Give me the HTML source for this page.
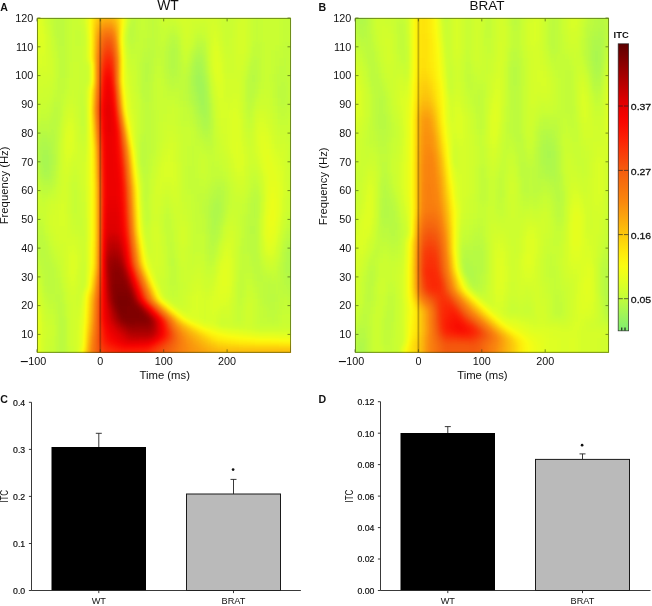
<!DOCTYPE html>
<html><head><meta charset="utf-8"><style>html,body{margin:0;padding:0;background:#fff;width:652px;height:606px;overflow:hidden}svg{display:block;will-change:transform}</style></head>
<body><svg width="652" height="606" viewBox="0 0 652 606" font-family="Liberation Sans, sans-serif" font-size="10" fill="#111">
<defs>
<filter id="cmA" filterUnits="userSpaceOnUse" x="27.5" y="8.399999999999999" width="273.0" height="353.90000000000003" color-interpolation-filters="sRGB">
<feGaussianBlur stdDeviation="3.3"/>
<feComponentTransfer><feFuncR type="table" tableValues="0.494 0.553 0.612 0.671 0.729 0.788 0.841 0.892 0.936 0.980 0.993 0.999 0.996 0.991 0.988 0.986 0.984 0.982 0.980 0.975 0.970 0.964 0.959 0.961 0.968 0.975 0.983 0.987 0.982 0.976 0.956 0.913 0.871 0.808 0.746 0.684 0.621 0.556 0.491 0.426 0.361"/><feFuncG type="table" tableValues="0.933 0.945 0.957 0.972 0.985 0.998 1.000 1.000 0.995 0.989 0.954 0.911 0.858 0.802 0.747 0.694 0.640 0.587 0.533 0.494 0.455 0.416 0.376 0.329 0.275 0.222 0.168 0.117 0.075 0.033 0.007 0.003 0.000 0.000 0.000 0.000 0.000 0.000 0.000 0.000 0.000"/><feFuncB type="table" tableValues="0.439 0.400 0.361 0.307 0.253 0.199 0.160 0.125 0.096 0.068 0.053 0.042 0.042 0.045 0.048 0.050 0.051 0.053 0.055 0.055 0.055 0.055 0.055 0.050 0.041 0.032 0.023 0.015 0.009 0.003 0.000 0.000 0.000 0.000 0.000 0.000 0.000 0.000 0.000 0.000 0.000"/></feComponentTransfer>
</filter>
<clipPath id="clipA"><rect x="36.9" y="17.799999999999997" width="254.2" height="335.1"/></clipPath>
<filter id="cmB" filterUnits="userSpaceOnUse" x="345.5" y="8.399999999999999" width="273.0" height="353.90000000000003" color-interpolation-filters="sRGB">
<feGaussianBlur stdDeviation="3.3"/>
<feComponentTransfer><feFuncR type="table" tableValues="0.494 0.553 0.612 0.671 0.729 0.788 0.841 0.892 0.936 0.980 0.993 0.999 0.996 0.991 0.988 0.986 0.984 0.982 0.980 0.975 0.970 0.964 0.959 0.961 0.968 0.975 0.983 0.987 0.982 0.976 0.956 0.913 0.871 0.808 0.746 0.684 0.621 0.556 0.491 0.426 0.361"/><feFuncG type="table" tableValues="0.933 0.945 0.957 0.972 0.985 0.998 1.000 1.000 0.995 0.989 0.954 0.911 0.858 0.802 0.747 0.694 0.640 0.587 0.533 0.494 0.455 0.416 0.376 0.329 0.275 0.222 0.168 0.117 0.075 0.033 0.007 0.003 0.000 0.000 0.000 0.000 0.000 0.000 0.000 0.000 0.000"/><feFuncB type="table" tableValues="0.439 0.400 0.361 0.307 0.253 0.199 0.160 0.125 0.096 0.068 0.053 0.042 0.042 0.045 0.048 0.050 0.051 0.053 0.055 0.055 0.055 0.055 0.055 0.050 0.041 0.032 0.023 0.015 0.009 0.003 0.000 0.000 0.000 0.000 0.000 0.000 0.000 0.000 0.000 0.000 0.000"/></feComponentTransfer>
</filter>
<clipPath id="clipB"><rect x="354.9" y="17.799999999999997" width="254.2" height="335.1"/></clipPath>
<linearGradient id="cbg" x1="0" y1="0" x2="0" y2="1"><stop offset="0.000" stop-color="rgb(92,0,0)"/><stop offset="0.025" stop-color="rgb(109,0,0)"/><stop offset="0.050" stop-color="rgb(125,0,0)"/><stop offset="0.075" stop-color="rgb(142,0,0)"/><stop offset="0.100" stop-color="rgb(158,0,0)"/><stop offset="0.125" stop-color="rgb(174,0,0)"/><stop offset="0.150" stop-color="rgb(190,0,0)"/><stop offset="0.175" stop-color="rgb(206,0,0)"/><stop offset="0.200" stop-color="rgb(222,0,0)"/><stop offset="0.225" stop-color="rgb(233,1,0)"/><stop offset="0.250" stop-color="rgb(244,2,0)"/><stop offset="0.275" stop-color="rgb(249,8,1)"/><stop offset="0.300" stop-color="rgb(250,19,2)"/><stop offset="0.325" stop-color="rgb(252,30,4)"/><stop offset="0.350" stop-color="rgb(251,43,6)"/><stop offset="0.375" stop-color="rgb(249,57,8)"/><stop offset="0.400" stop-color="rgb(247,70,10)"/><stop offset="0.425" stop-color="rgb(245,84,13)"/><stop offset="0.450" stop-color="rgb(245,96,14)"/><stop offset="0.475" stop-color="rgb(246,106,14)"/><stop offset="0.500" stop-color="rgb(247,116,14)"/><stop offset="0.525" stop-color="rgb(249,126,14)"/><stop offset="0.550" stop-color="rgb(250,136,14)"/><stop offset="0.575" stop-color="rgb(250,150,14)"/><stop offset="0.600" stop-color="rgb(251,163,13)"/><stop offset="0.625" stop-color="rgb(251,177,13)"/><stop offset="0.650" stop-color="rgb(252,191,12)"/><stop offset="0.675" stop-color="rgb(253,205,11)"/><stop offset="0.700" stop-color="rgb(254,219,11)"/><stop offset="0.725" stop-color="rgb(255,232,11)"/><stop offset="0.750" stop-color="rgb(253,243,14)"/><stop offset="0.775" stop-color="rgb(250,252,17)"/><stop offset="0.800" stop-color="rgb(239,254,24)"/><stop offset="0.825" stop-color="rgb(227,255,32)"/><stop offset="0.850" stop-color="rgb(214,255,41)"/><stop offset="0.875" stop-color="rgb(201,254,51)"/><stop offset="0.900" stop-color="rgb(186,251,65)"/><stop offset="0.925" stop-color="rgb(171,248,78)"/><stop offset="0.950" stop-color="rgb(156,244,92)"/><stop offset="0.975" stop-color="rgb(141,241,102)"/><stop offset="1.000" stop-color="rgb(126,238,112)"/></linearGradient>
</defs>
<rect width="652" height="606" fill="#fff"/>
<g clip-path="url(#clipA)"><g filter="url(#cmA)" shape-rendering="crispEdges"><path fill="#0e0e0e" d="M197 74h4v4h-4zM197 78h4v4h-4zM197 82h8v4h-8zM197 86h8v4h-8zM197 90h8v4h-8zM201 94h4v4h-4zM201 98h4v4h-4zM201 102h4v4h-4z"/>
<path fill="#101010" d="M197 66h4v4h-4zM193 70h8v4h-8zM193 74h4v4h-4zM201 74h4v4h-4zM193 78h4v4h-4zM201 78h4v4h-4zM193 82h4v4h-4zM197 94h4v4h-4zM197 98h4v4h-4zM205 102h4v4h-4zM201 106h8v4h-8zM201 110h4v4h-4zM41 154h4v4h-4zM41 158h4v4h-4zM41 162h8v4h-8z"/>
<path fill="#121212" d="M197 58h4v4h-4zM193 62h8v4h-8zM193 66h4v4h-4zM201 66h4v4h-4zM201 70h4v4h-4zM193 86h4v4h-4zM193 90h4v4h-4zM205 90h4v4h-4zM205 94h4v4h-4zM205 98h4v4h-4zM197 102h4v4h-4zM197 106h4v4h-4zM205 110h4v4h-4zM201 114h8v4h-8zM205 118h4v4h-4zM41 146h4v4h-4zM41 150h8v4h-8zM45 154h4v4h-4zM45 158h4v4h-4zM41 166h8v4h-8zM41 170h8v4h-8z"/>
<path fill="#141414" d="M197 54h4v4h-4zM193 58h4v4h-4zM201 58h4v4h-4zM201 62h4v4h-4zM205 82h4v4h-4zM205 86h4v4h-4zM193 94h4v4h-4zM193 98h4v4h-4zM197 110h4v4h-4zM201 118h4v4h-4zM201 122h8v4h-8zM205 126h4v4h-4zM41 138h4v4h-4zM41 142h4v4h-4zM45 146h4v4h-4zM49 154h4v4h-4zM49 158h4v4h-4zM49 162h4v4h-4zM49 166h4v4h-4zM41 174h8v4h-8zM213 202h8v4h-8zM213 206h8v4h-8zM213 210h8v4h-8zM213 214h8v4h-8zM213 218h4v4h-4zM213 222h4v4h-4zM213 226h4v4h-4zM289 250h4v4h-4zM289 254h4v4h-4zM289 258h4v4h-4zM289 262h4v4h-4zM289 266h4v4h-4zM289 270h4v4h-4z"/>
<path fill="#161616" d="M169 46h8v4h-8zM169 50h8v4h-8zM197 50h4v4h-4zM169 54h8v4h-8zM193 54h4v4h-4zM201 54h4v4h-4zM169 58h8v4h-8zM169 62h8v4h-8zM169 66h8v4h-8zM189 74h4v4h-4zM205 74h4v4h-4zM189 78h4v4h-4zM205 78h4v4h-4zM189 82h4v4h-4zM189 86h4v4h-4zM189 90h4v4h-4zM193 102h4v4h-4zM197 114h4v4h-4zM201 126h4v4h-4zM205 130h4v4h-4zM41 134h4v4h-4zM45 138h4v4h-4zM37 142h4v4h-4zM45 142h8v4h-8zM37 146h4v4h-4zM49 146h4v4h-4zM37 150h4v4h-4zM49 150h4v4h-4zM37 154h4v4h-4zM37 158h4v4h-4zM49 170h4v4h-4zM49 174h4v4h-4zM41 178h8v4h-8zM217 194h4v4h-4zM213 198h8v4h-8zM209 210h4v4h-4zM209 214h4v4h-4zM209 218h4v4h-4zM217 218h4v4h-4zM209 222h4v4h-4zM217 222h4v4h-4zM209 226h4v4h-4zM209 230h8v4h-8zM213 234h4v4h-4zM213 238h4v4h-4zM289 242h4v4h-4zM289 246h8v4h-8zM285 250h4v4h-4zM293 250h4v4h-4zM285 254h4v4h-4zM293 254h4v4h-4zM285 258h4v4h-4zM293 258h4v4h-4zM285 262h4v4h-4zM293 262h4v4h-4zM285 266h4v4h-4zM293 266h4v4h-4zM285 270h4v4h-4zM293 270h4v4h-4zM285 274h12v4h-12zM289 278h4v4h-4zM289 282h4v4h-4z"/>
<path fill="#181818" d="M129 22h4v4h-4zM129 26h4v4h-4zM169 38h8v4h-8zM169 42h8v4h-8zM197 46h8v4h-8zM193 50h4v4h-4zM201 50h4v4h-4zM145 58h4v4h-4zM145 62h4v4h-4zM145 66h4v4h-4zM189 66h4v4h-4zM145 70h4v4h-4zM169 70h8v4h-8zM189 70h4v4h-4zM205 70h4v4h-4zM253 70h4v4h-4zM145 74h4v4h-4zM169 74h8v4h-8zM249 74h8v4h-8zM145 78h4v4h-4zM249 78h8v4h-8zM145 82h4v4h-4zM249 82h4v4h-4zM145 86h4v4h-4zM249 86h4v4h-4zM249 90h4v4h-4zM189 94h4v4h-4zM249 94h4v4h-4zM189 98h4v4h-4zM249 98h4v4h-4zM193 106h4v4h-4zM209 110h4v4h-4zM209 114h4v4h-4zM53 118h4v4h-4zM197 118h4v4h-4zM209 118h4v4h-4zM53 122h4v4h-4zM197 122h4v4h-4zM209 122h4v4h-4zM53 126h4v4h-4zM209 126h4v4h-4zM41 130h4v4h-4zM53 130h4v4h-4zM201 130h4v4h-4zM37 134h4v4h-4zM45 134h12v4h-12zM205 134h4v4h-4zM37 138h4v4h-4zM49 138h8v4h-8zM53 142h4v4h-4zM53 146h4v4h-4zM53 150h4v4h-4zM53 154h4v4h-4zM53 158h4v4h-4zM141 158h4v4h-4zM37 162h4v4h-4zM53 162h4v4h-4zM37 166h4v4h-4zM49 178h4v4h-4zM41 182h8v4h-8zM217 186h4v4h-4zM141 190h4v4h-4zM213 190h12v4h-12zM141 194h4v4h-4zM213 194h4v4h-4zM221 194h4v4h-4zM141 198h4v4h-4zM209 198h4v4h-4zM221 198h4v4h-4zM253 198h4v4h-4zM209 202h4v4h-4zM221 202h4v4h-4zM253 202h4v4h-4zM209 206h4v4h-4zM221 206h4v4h-4zM253 206h4v4h-4zM221 210h4v4h-4zM253 210h4v4h-4zM253 214h4v4h-4zM253 218h4v4h-4zM253 222h4v4h-4zM217 226h4v4h-4zM249 226h8v4h-8zM217 230h4v4h-4zM249 230h8v4h-8zM209 234h4v4h-4zM253 234h4v4h-4zM289 234h4v4h-4zM209 238h4v4h-4zM253 238h4v4h-4zM289 238h8v4h-8zM209 242h8v4h-8zM253 242h4v4h-4zM285 242h4v4h-4zM293 242h4v4h-4zM209 246h4v4h-4zM253 246h4v4h-4zM285 246h4v4h-4zM253 250h4v4h-4zM253 254h4v4h-4zM253 258h4v4h-4zM281 262h4v4h-4zM281 266h4v4h-4zM281 270h4v4h-4zM285 278h4v4h-4zM293 278h4v4h-4zM285 282h4v4h-4zM293 282h4v4h-4zM289 286h4v4h-4zM61 318h4v4h-4zM61 322h4v4h-4zM61 326h4v4h-4zM61 330h4v4h-4zM61 334h4v4h-4zM61 338h4v4h-4zM61 342h4v4h-4zM61 346h4v4h-4zM61 350h4v4h-4zM61 354h4v4h-4zM61 358h4v4h-4z"/>
<path fill="#1a1a1a" d="M57 10h8v4h-8zM129 10h4v4h-4zM57 14h8v4h-8zM129 14h4v4h-4zM57 18h8v4h-8zM129 18h4v4h-4zM57 22h8v4h-8zM57 26h8v4h-8zM57 30h8v4h-8zM125 30h8v4h-8zM57 34h8v4h-8zM125 34h8v4h-8zM169 34h8v4h-8zM57 38h8v4h-8zM129 38h4v4h-4zM57 42h8v4h-8zM197 42h8v4h-8zM61 46h4v4h-4zM177 46h4v4h-4zM193 46h4v4h-4zM61 50h4v4h-4zM145 50h8v4h-8zM165 50h4v4h-4zM177 50h4v4h-4zM61 54h4v4h-4zM145 54h8v4h-8zM165 54h4v4h-4zM177 54h4v4h-4zM61 58h4v4h-4zM149 58h4v4h-4zM165 58h4v4h-4zM177 58h4v4h-4zM253 58h4v4h-4zM61 62h4v4h-4zM141 62h4v4h-4zM149 62h4v4h-4zM165 62h4v4h-4zM177 62h4v4h-4zM189 62h4v4h-4zM205 62h4v4h-4zM253 62h4v4h-4zM61 66h4v4h-4zM141 66h4v4h-4zM149 66h4v4h-4zM165 66h4v4h-4zM177 66h4v4h-4zM205 66h4v4h-4zM249 66h8v4h-8zM61 70h4v4h-4zM141 70h4v4h-4zM149 70h4v4h-4zM165 70h4v4h-4zM177 70h4v4h-4zM249 70h4v4h-4zM61 74h4v4h-4zM141 74h4v4h-4zM149 74h4v4h-4zM177 74h4v4h-4zM141 78h4v4h-4zM149 78h4v4h-4zM169 78h8v4h-8zM141 82h4v4h-4zM169 82h4v4h-4zM253 82h4v4h-4zM281 82h4v4h-4zM141 86h4v4h-4zM253 86h4v4h-4zM277 86h8v4h-8zM141 90h8v4h-8zM253 90h4v4h-4zM277 90h8v4h-8zM141 94h8v4h-8zM277 94h8v4h-8zM145 98h4v4h-4zM209 98h4v4h-4zM281 98h4v4h-4zM57 102h4v4h-4zM189 102h4v4h-4zM209 102h4v4h-4zM249 102h4v4h-4zM281 102h4v4h-4zM53 106h8v4h-8zM209 106h4v4h-4zM249 106h4v4h-4zM53 110h8v4h-8zM193 110h4v4h-4zM53 114h8v4h-8zM193 114h4v4h-4zM57 118h4v4h-4zM41 122h4v4h-4zM49 122h4v4h-4zM37 126h8v4h-8zM49 126h4v4h-4zM197 126h4v4h-4zM37 130h4v4h-4zM45 130h8v4h-8zM209 130h4v4h-4zM141 134h4v4h-4zM201 134h4v4h-4zM209 134h4v4h-4zM141 138h4v4h-4zM205 138h8v4h-8zM297 138h4v4h-4zM141 142h4v4h-4zM209 142h4v4h-4zM297 142h4v4h-4zM141 146h4v4h-4zM297 146h4v4h-4zM141 150h4v4h-4zM297 150h4v4h-4zM137 154h8v4h-8zM297 154h4v4h-4zM137 158h4v4h-4zM137 162h8v4h-8zM53 166h4v4h-4zM141 166h4v4h-4zM37 170h4v4h-4zM53 170h4v4h-4zM141 170h4v4h-4zM37 174h4v4h-4zM53 174h4v4h-4zM141 174h4v4h-4zM141 178h4v4h-4zM49 182h4v4h-4zM141 182h4v4h-4zM217 182h8v4h-8zM41 186h8v4h-8zM141 186h4v4h-4zM213 186h4v4h-4zM221 186h4v4h-4zM41 190h4v4h-4zM209 190h4v4h-4zM253 190h4v4h-4zM209 194h4v4h-4zM253 194h8v4h-8zM257 198h4v4h-4zM141 202h4v4h-4zM249 202h4v4h-4zM257 202h4v4h-4zM205 206h4v4h-4zM249 206h4v4h-4zM257 206h4v4h-4zM145 210h4v4h-4zM205 210h4v4h-4zM249 210h4v4h-4zM257 210h4v4h-4zM145 214h4v4h-4zM205 214h4v4h-4zM221 214h4v4h-4zM249 214h4v4h-4zM257 214h4v4h-4zM145 218h4v4h-4zM221 218h4v4h-4zM249 218h4v4h-4zM145 222h4v4h-4zM249 222h4v4h-4zM37 230h4v4h-4zM289 230h8v4h-8zM37 234h8v4h-8zM217 234h4v4h-4zM249 234h4v4h-4zM293 234h4v4h-4zM37 238h8v4h-8zM249 238h4v4h-4zM285 238h4v4h-4zM37 242h8v4h-8zM249 242h4v4h-4zM37 246h8v4h-8zM213 246h4v4h-4zM249 246h4v4h-4zM297 246h4v4h-4zM37 250h12v4h-12zM209 250h8v4h-8zM249 250h4v4h-4zM281 250h4v4h-4zM297 250h4v4h-4zM37 254h12v4h-12zM169 254h4v4h-4zM209 254h4v4h-4zM281 254h4v4h-4zM297 254h4v4h-4zM41 258h8v4h-8zM169 258h4v4h-4zM209 258h4v4h-4zM257 258h4v4h-4zM281 258h4v4h-4zM297 258h4v4h-4zM41 262h12v4h-12zM169 262h4v4h-4zM253 262h8v4h-8zM297 262h4v4h-4zM41 266h12v4h-12zM253 266h8v4h-8zM297 266h4v4h-4zM45 270h8v4h-8zM253 270h8v4h-8zM45 274h8v4h-8zM257 274h4v4h-4zM281 274h4v4h-4zM45 278h8v4h-8zM257 278h4v4h-4zM281 278h4v4h-4zM45 282h8v4h-8zM265 282h8v4h-8zM281 282h4v4h-4zM45 286h8v4h-8zM265 286h8v4h-8zM281 286h8v4h-8zM293 286h4v4h-4zM45 290h8v4h-8zM265 290h8v4h-8zM285 290h8v4h-8zM57 294h4v4h-4zM265 294h12v4h-12zM289 294h4v4h-4zM57 298h4v4h-4zM265 298h12v4h-12zM57 302h8v4h-8zM265 302h8v4h-8zM57 306h8v4h-8zM269 306h4v4h-4zM57 310h8v4h-8zM57 314h8v4h-8zM57 318h4v4h-4zM57 322h4v4h-4zM57 326h4v4h-4zM57 330h4v4h-4zM57 334h4v4h-4zM57 338h4v4h-4zM57 342h4v4h-4zM57 346h4v4h-4zM57 350h4v4h-4zM57 354h4v4h-4zM57 358h4v4h-4z"/>
<path fill="#1c1c1c" d="M65 10h4v4h-4zM133 10h4v4h-4zM153 10h4v4h-4zM53 14h4v4h-4zM65 14h4v4h-4zM133 14h4v4h-4zM149 14h8v4h-8zM53 18h4v4h-4zM133 18h4v4h-4zM149 18h8v4h-8zM53 22h4v4h-4zM133 22h4v4h-4zM149 22h8v4h-8zM53 26h4v4h-4zM125 26h4v4h-4zM133 26h4v4h-4zM149 26h8v4h-8zM53 30h4v4h-4zM133 30h4v4h-4zM149 30h8v4h-8zM169 30h8v4h-8zM53 34h4v4h-4zM133 34h4v4h-4zM149 34h8v4h-8zM125 38h4v4h-4zM133 38h4v4h-4zM145 38h12v4h-12zM177 38h4v4h-4zM197 38h8v4h-8zM125 42h8v4h-8zM145 42h12v4h-12zM165 42h4v4h-4zM177 42h4v4h-4zM193 42h4v4h-4zM253 42h8v4h-8zM285 42h4v4h-4zM57 46h4v4h-4zM129 46h4v4h-4zM145 46h12v4h-12zM165 46h4v4h-4zM253 46h8v4h-8zM285 46h4v4h-4zM57 50h4v4h-4zM141 50h4v4h-4zM153 50h4v4h-4zM253 50h8v4h-8zM285 50h4v4h-4zM57 54h4v4h-4zM141 54h4v4h-4zM153 54h4v4h-4zM189 54h4v4h-4zM205 54h4v4h-4zM253 54h8v4h-8zM285 54h4v4h-4zM57 58h4v4h-4zM141 58h4v4h-4zM189 58h4v4h-4zM205 58h4v4h-4zM249 58h4v4h-4zM257 58h4v4h-4zM281 58h8v4h-8zM57 62h4v4h-4zM249 62h4v4h-4zM257 62h4v4h-4zM281 62h8v4h-8zM57 66h4v4h-4zM257 66h4v4h-4zM277 66h12v4h-12zM57 70h4v4h-4zM257 70h4v4h-4zM277 70h12v4h-12zM57 74h4v4h-4zM165 74h4v4h-4zM185 74h4v4h-4zM257 74h4v4h-4zM273 74h16v4h-16zM57 78h8v4h-8zM165 78h4v4h-4zM177 78h12v4h-12zM245 78h4v4h-4zM257 78h4v4h-4zM273 78h16v4h-16zM57 82h8v4h-8zM149 82h4v4h-4zM165 82h4v4h-4zM173 82h16v4h-16zM245 82h4v4h-4zM277 82h4v4h-4zM285 82h4v4h-4zM57 86h8v4h-8zM149 86h4v4h-4zM169 86h20v4h-20zM245 86h4v4h-4zM285 86h4v4h-4zM57 90h8v4h-8zM149 90h4v4h-4zM181 90h8v4h-8zM245 90h4v4h-4zM285 90h4v4h-4zM57 94h4v4h-4zM149 94h4v4h-4zM181 94h8v4h-8zM209 94h4v4h-4zM245 94h4v4h-4zM253 94h4v4h-4zM285 94h4v4h-4zM53 98h8v4h-8zM141 98h4v4h-4zM149 98h4v4h-4zM181 98h8v4h-8zM245 98h4v4h-4zM277 98h4v4h-4zM285 98h4v4h-4zM53 102h4v4h-4zM141 102h12v4h-12zM185 102h4v4h-4zM245 102h4v4h-4zM277 102h4v4h-4zM285 102h4v4h-4zM85 106h4v4h-4zM141 106h12v4h-12zM189 106h4v4h-4zM245 106h4v4h-4zM277 106h8v4h-8zM85 110h4v4h-4zM141 110h12v4h-12zM189 110h4v4h-4zM245 110h8v4h-8zM277 110h8v4h-8zM49 114h4v4h-4zM85 114h4v4h-4zM141 114h12v4h-12zM245 114h8v4h-8zM281 114h4v4h-4zM41 118h4v4h-4zM49 118h4v4h-4zM85 118h4v4h-4zM141 118h12v4h-12zM193 118h4v4h-4zM249 118h4v4h-4zM37 122h4v4h-4zM45 122h4v4h-4zM57 122h4v4h-4zM85 122h4v4h-4zM141 122h12v4h-12zM193 122h4v4h-4zM45 126h4v4h-4zM57 126h4v4h-4zM85 126h4v4h-4zM141 126h12v4h-12zM297 126h4v4h-4zM57 130h4v4h-4zM85 130h4v4h-4zM141 130h12v4h-12zM197 130h4v4h-4zM293 130h8v4h-8zM57 134h4v4h-4zM145 134h12v4h-12zM197 134h4v4h-4zM293 134h8v4h-8zM29 138h8v4h-8zM57 138h4v4h-4zM145 138h8v4h-8zM201 138h4v4h-4zM293 138h4v4h-4zM29 142h8v4h-8zM137 142h4v4h-4zM145 142h8v4h-8zM205 142h4v4h-4zM293 142h4v4h-4zM29 146h8v4h-8zM137 146h4v4h-4zM145 146h8v4h-8zM205 146h8v4h-8zM293 146h4v4h-4zM29 150h8v4h-8zM137 150h4v4h-4zM145 150h8v4h-8zM209 150h4v4h-4zM293 150h4v4h-4zM33 154h4v4h-4zM145 154h4v4h-4zM293 154h4v4h-4zM145 158h4v4h-4zM293 158h8v4h-8zM145 162h4v4h-4zM293 162h8v4h-8zM145 166h4v4h-4zM293 166h4v4h-4zM145 170h4v4h-4zM145 174h4v4h-4zM37 178h4v4h-4zM53 178h4v4h-4zM145 178h4v4h-4zM213 178h12v4h-12zM37 182h4v4h-4zM53 182h4v4h-4zM145 182h4v4h-4zM209 182h8v4h-8zM253 182h4v4h-4zM49 186h4v4h-4zM145 186h4v4h-4zM209 186h4v4h-4zM225 186h4v4h-4zM253 186h8v4h-8zM45 190h4v4h-4zM145 190h4v4h-4zM225 190h4v4h-4zM249 190h4v4h-4zM257 190h4v4h-4zM41 194h4v4h-4zM145 194h4v4h-4zM197 194h4v4h-4zM205 194h4v4h-4zM225 194h4v4h-4zM249 194h4v4h-4zM145 198h4v4h-4zM197 198h12v4h-12zM225 198h4v4h-4zM249 198h4v4h-4zM145 202h4v4h-4zM201 202h8v4h-8zM225 202h4v4h-4zM141 206h8v4h-8zM201 206h4v4h-4zM141 210h4v4h-4zM201 210h4v4h-4zM165 214h4v4h-4zM245 214h4v4h-4zM165 218h4v4h-4zM205 218h4v4h-4zM245 218h4v4h-4zM257 218h4v4h-4zM37 222h4v4h-4zM165 222h4v4h-4zM205 222h4v4h-4zM221 222h4v4h-4zM245 222h4v4h-4zM257 222h4v4h-4zM289 222h4v4h-4zM37 226h8v4h-8zM145 226h4v4h-4zM165 226h4v4h-4zM205 226h4v4h-4zM245 226h4v4h-4zM257 226h4v4h-4zM289 226h8v4h-8zM41 230h4v4h-4zM145 230h4v4h-4zM165 230h8v4h-8zM205 230h4v4h-4zM245 230h4v4h-4zM257 230h4v4h-4zM285 230h4v4h-4zM145 234h4v4h-4zM169 234h4v4h-4zM205 234h4v4h-4zM245 234h4v4h-4zM257 234h4v4h-4zM285 234h4v4h-4zM145 238h4v4h-4zM169 238h4v4h-4zM205 238h4v4h-4zM217 238h4v4h-4zM241 238h8v4h-8zM257 238h4v4h-4zM297 238h4v4h-4zM45 242h4v4h-4zM169 242h4v4h-4zM205 242h4v4h-4zM241 242h8v4h-8zM257 242h4v4h-4zM281 242h4v4h-4zM297 242h4v4h-4zM45 246h4v4h-4zM169 246h4v4h-4zM205 246h4v4h-4zM241 246h8v4h-8zM257 246h4v4h-4zM281 246h4v4h-4zM169 250h4v4h-4zM205 250h4v4h-4zM241 250h8v4h-8zM257 250h4v4h-4zM49 254h4v4h-4zM213 254h4v4h-4zM241 254h4v4h-4zM249 254h4v4h-4zM257 254h4v4h-4zM37 258h4v4h-4zM49 258h4v4h-4zM173 258h4v4h-4zM241 258h4v4h-4zM249 258h4v4h-4zM37 262h4v4h-4zM173 262h4v4h-4zM209 262h4v4h-4zM241 262h4v4h-4zM249 262h4v4h-4zM53 266h4v4h-4zM169 266h8v4h-8zM241 266h4v4h-4zM41 270h4v4h-4zM53 270h4v4h-4zM169 270h8v4h-8zM237 270h8v4h-8zM277 270h4v4h-4zM297 270h4v4h-4zM41 274h4v4h-4zM53 274h4v4h-4zM169 274h8v4h-8zM237 274h8v4h-8zM253 274h4v4h-4zM261 274h8v4h-8zM277 274h4v4h-4zM297 274h4v4h-4zM41 278h4v4h-4zM53 278h8v4h-8zM169 278h8v4h-8zM237 278h8v4h-8zM253 278h4v4h-4zM261 278h12v4h-12zM277 278h4v4h-4zM41 282h4v4h-4zM53 282h8v4h-8zM169 282h8v4h-8zM237 282h8v4h-8zM253 282h12v4h-12zM273 282h8v4h-8zM53 286h8v4h-8zM173 286h4v4h-4zM237 286h8v4h-8zM257 286h8v4h-8zM273 286h8v4h-8zM53 290h12v4h-12zM237 290h8v4h-8zM257 290h8v4h-8zM273 290h12v4h-12zM293 290h4v4h-4zM45 294h12v4h-12zM61 294h4v4h-4zM237 294h8v4h-8zM257 294h8v4h-8zM277 294h12v4h-12zM293 294h4v4h-4zM45 298h12v4h-12zM61 298h4v4h-4zM237 298h4v4h-4zM261 298h4v4h-4zM277 298h4v4h-4zM289 298h4v4h-4zM237 302h4v4h-4zM261 302h4v4h-4zM273 302h8v4h-8zM289 302h4v4h-4zM265 306h4v4h-4zM273 306h8v4h-8zM265 310h16v4h-16zM265 314h12v4h-12zM269 318h8v4h-8zM65 358h4v4h-4z"/>
<path fill="#1e1e1e" d="M49 10h8v4h-8zM137 10h16v4h-16zM157 10h4v4h-4zM253 10h8v4h-8zM281 10h16v4h-16zM49 14h4v4h-4zM137 14h12v4h-12zM157 14h4v4h-4zM253 14h8v4h-8zM281 14h16v4h-16zM49 18h4v4h-4zM65 18h4v4h-4zM137 18h4v4h-4zM145 18h4v4h-4zM157 18h4v4h-4zM253 18h8v4h-8zM281 18h12v4h-12zM49 22h4v4h-4zM65 22h4v4h-4zM137 22h4v4h-4zM145 22h4v4h-4zM157 22h4v4h-4zM169 22h4v4h-4zM253 22h8v4h-8zM281 22h12v4h-12zM49 26h4v4h-4zM65 26h4v4h-4zM137 26h4v4h-4zM145 26h4v4h-4zM157 26h4v4h-4zM169 26h8v4h-8zM253 26h8v4h-8zM281 26h12v4h-12zM65 30h4v4h-4zM77 30h4v4h-4zM137 30h12v4h-12zM157 30h4v4h-4zM253 30h8v4h-8zM281 30h12v4h-12zM65 34h4v4h-4zM77 34h4v4h-4zM137 34h12v4h-12zM157 34h4v4h-4zM165 34h4v4h-4zM177 34h4v4h-4zM193 34h12v4h-12zM253 34h8v4h-8zM281 34h12v4h-12zM53 38h4v4h-4zM65 38h4v4h-4zM77 38h4v4h-4zM137 38h8v4h-8zM157 38h4v4h-4zM165 38h4v4h-4zM193 38h4v4h-4zM253 38h8v4h-8zM281 38h12v4h-12zM53 42h4v4h-4zM65 42h4v4h-4zM77 42h4v4h-4zM133 42h12v4h-12zM157 42h4v4h-4zM205 42h4v4h-4zM281 42h4v4h-4zM289 42h4v4h-4zM53 46h4v4h-4zM65 46h4v4h-4zM125 46h4v4h-4zM133 46h12v4h-12zM157 46h8v4h-8zM205 46h4v4h-4zM249 46h4v4h-4zM277 46h8v4h-8zM289 46h4v4h-4zM65 50h4v4h-4zM125 50h16v4h-16zM157 50h8v4h-8zM189 50h4v4h-4zM205 50h4v4h-4zM249 50h4v4h-4zM273 50h12v4h-12zM289 50h4v4h-4zM65 54h4v4h-4zM129 54h4v4h-4zM137 54h4v4h-4zM157 54h8v4h-8zM249 54h4v4h-4zM273 54h12v4h-12zM289 54h4v4h-4zM65 58h4v4h-4zM137 58h4v4h-4zM153 58h12v4h-12zM273 58h8v4h-8zM289 58h4v4h-4zM65 62h4v4h-4zM137 62h4v4h-4zM153 62h12v4h-12zM181 62h4v4h-4zM273 62h8v4h-8zM289 62h4v4h-4zM65 66h4v4h-4zM137 66h4v4h-4zM153 66h4v4h-4zM161 66h4v4h-4zM181 66h8v4h-8zM273 66h4v4h-4zM289 66h4v4h-4zM65 70h4v4h-4zM137 70h4v4h-4zM153 70h4v4h-4zM161 70h4v4h-4zM181 70h8v4h-8zM245 70h4v4h-4zM273 70h4v4h-4zM289 70h4v4h-4zM65 74h4v4h-4zM137 74h4v4h-4zM161 74h4v4h-4zM181 74h4v4h-4zM245 74h4v4h-4zM289 74h4v4h-4zM65 78h4v4h-4zM137 78h4v4h-4zM289 78h4v4h-4zM65 82h4v4h-4zM137 82h4v4h-4zM257 82h4v4h-4zM273 82h4v4h-4zM289 82h4v4h-4zM65 86h4v4h-4zM137 86h4v4h-4zM165 86h4v4h-4zM209 86h4v4h-4zM257 86h4v4h-4zM273 86h4v4h-4zM289 86h4v4h-4zM53 90h4v4h-4zM81 90h4v4h-4zM137 90h4v4h-4zM165 90h16v4h-16zM209 90h4v4h-4zM273 90h4v4h-4zM289 90h4v4h-4zM53 94h4v4h-4zM61 94h4v4h-4zM81 94h8v4h-8zM165 94h16v4h-16zM273 94h4v4h-4zM289 94h4v4h-4zM61 98h4v4h-4zM81 98h8v4h-8zM177 98h4v4h-4zM253 98h4v4h-4zM273 98h4v4h-4zM289 98h4v4h-4zM49 102h4v4h-4zM61 102h4v4h-4zM81 102h8v4h-8zM177 102h8v4h-8zM253 102h4v4h-4zM273 102h4v4h-4zM289 102h4v4h-4zM49 106h4v4h-4zM81 106h4v4h-4zM181 106h8v4h-8zM285 106h12v4h-12zM41 110h4v4h-4zM49 110h4v4h-4zM81 110h4v4h-4zM153 110h4v4h-4zM181 110h8v4h-8zM285 110h16v4h-16zM37 114h12v4h-12zM81 114h4v4h-4zM153 114h4v4h-4zM181 114h12v4h-12zM277 114h4v4h-4zM285 114h4v4h-4zM293 114h8v4h-8zM37 118h4v4h-4zM45 118h4v4h-4zM81 118h4v4h-4zM153 118h4v4h-4zM181 118h12v4h-12zM245 118h4v4h-4zM277 118h8v4h-8zM293 118h8v4h-8zM29 122h4v4h-4zM81 122h4v4h-4zM153 122h4v4h-4zM181 122h4v4h-4zM189 122h4v4h-4zM245 122h8v4h-8zM277 122h8v4h-8zM293 122h8v4h-8zM29 126h8v4h-8zM81 126h4v4h-4zM153 126h4v4h-4zM193 126h4v4h-4zM245 126h8v4h-8zM293 126h4v4h-4zM29 130h8v4h-8zM81 130h4v4h-4zM153 130h4v4h-4zM193 130h4v4h-4zM29 134h8v4h-8zM85 134h4v4h-4zM137 134h4v4h-4zM193 134h4v4h-4zM85 138h4v4h-4zM137 138h4v4h-4zM153 138h4v4h-4zM193 138h8v4h-8zM57 142h4v4h-4zM85 142h4v4h-4zM153 142h4v4h-4zM193 142h12v4h-12zM213 142h4v4h-4zM57 146h4v4h-4zM153 146h4v4h-4zM189 146h8v4h-8zM201 146h4v4h-4zM57 150h4v4h-4zM153 150h4v4h-4zM189 150h8v4h-8zM205 150h4v4h-4zM29 154h4v4h-4zM57 154h4v4h-4zM149 154h8v4h-8zM189 154h8v4h-8zM209 154h4v4h-4zM29 158h8v4h-8zM57 158h4v4h-4zM149 158h4v4h-4zM189 158h8v4h-8zM209 158h4v4h-4zM33 162h4v4h-4zM57 162h4v4h-4zM149 162h4v4h-4zM189 162h8v4h-8zM209 162h8v4h-8zM57 166h4v4h-4zM137 166h4v4h-4zM149 166h4v4h-4zM185 166h12v4h-12zM209 166h12v4h-12zM297 166h4v4h-4zM149 170h4v4h-4zM185 170h12v4h-12zM209 170h16v4h-16zM293 170h4v4h-4zM185 174h12v4h-12zM209 174h16v4h-16zM253 174h4v4h-4zM293 174h4v4h-4zM185 178h16v4h-16zM209 178h4v4h-4zM225 178h4v4h-4zM249 178h8v4h-8zM73 182h4v4h-4zM185 182h16v4h-16zM205 182h4v4h-4zM225 182h4v4h-4zM249 182h4v4h-4zM257 182h4v4h-4zM37 186h4v4h-4zM53 186h4v4h-4zM73 186h4v4h-4zM185 186h24v4h-24zM249 186h4v4h-4zM37 190h4v4h-4zM49 190h4v4h-4zM73 190h4v4h-4zM189 190h20v4h-20zM45 194h4v4h-4zM73 194h4v4h-4zM193 194h4v4h-4zM201 194h4v4h-4zM41 198h4v4h-4zM73 198h4v4h-4zM193 198h4v4h-4zM245 198h4v4h-4zM41 202h4v4h-4zM73 202h4v4h-4zM193 202h8v4h-8zM245 202h4v4h-4zM73 206h4v4h-4zM165 206h4v4h-4zM193 206h8v4h-8zM225 206h4v4h-4zM245 206h4v4h-4zM73 210h4v4h-4zM165 210h4v4h-4zM193 210h8v4h-8zM225 210h4v4h-4zM245 210h4v4h-4zM37 214h4v4h-4zM73 214h4v4h-4zM141 214h4v4h-4zM193 214h12v4h-12zM241 214h4v4h-4zM289 214h4v4h-4zM37 218h8v4h-8zM141 218h4v4h-4zM169 218h4v4h-4zM193 218h12v4h-12zM241 218h4v4h-4zM289 218h8v4h-8zM41 222h4v4h-4zM169 222h4v4h-4zM193 222h12v4h-12zM241 222h4v4h-4zM285 222h4v4h-4zM293 222h4v4h-4zM169 226h4v4h-4zM193 226h12v4h-12zM221 226h4v4h-4zM241 226h4v4h-4zM285 226h4v4h-4zM33 230h4v4h-4zM193 230h12v4h-12zM241 230h4v4h-4zM33 234h4v4h-4zM45 234h4v4h-4zM165 234h4v4h-4zM193 234h4v4h-4zM241 234h4v4h-4zM281 234h4v4h-4zM297 234h4v4h-4zM33 238h4v4h-4zM45 238h4v4h-4zM165 238h4v4h-4zM193 238h4v4h-4zM281 238h4v4h-4zM29 242h8v4h-8zM145 242h4v4h-4zM165 242h4v4h-4zM173 242h4v4h-4zM193 242h4v4h-4zM217 242h4v4h-4zM29 246h8v4h-8zM49 246h4v4h-4zM145 246h4v4h-4zM165 246h4v4h-4zM173 246h4v4h-4zM193 246h4v4h-4zM237 246h4v4h-4zM29 250h8v4h-8zM49 250h4v4h-4zM165 250h4v4h-4zM173 250h4v4h-4zM193 250h4v4h-4zM237 250h4v4h-4zM29 254h8v4h-8zM173 254h4v4h-4zM205 254h4v4h-4zM237 254h4v4h-4zM245 254h4v4h-4zM29 258h8v4h-8zM53 258h4v4h-4zM205 258h4v4h-4zM213 258h4v4h-4zM237 258h4v4h-4zM245 258h4v4h-4zM277 258h4v4h-4zM53 262h4v4h-4zM205 262h4v4h-4zM213 262h4v4h-4zM237 262h4v4h-4zM245 262h4v4h-4zM277 262h4v4h-4zM37 266h4v4h-4zM57 266h4v4h-4zM205 266h8v4h-8zM237 266h4v4h-4zM245 266h8v4h-8zM261 266h4v4h-4zM277 266h4v4h-4zM37 270h4v4h-4zM57 270h4v4h-4zM209 270h4v4h-4zM245 270h8v4h-8zM261 270h8v4h-8zM57 274h4v4h-4zM249 274h4v4h-4zM269 274h8v4h-8zM273 278h4v4h-4zM297 278h4v4h-4zM61 282h4v4h-4zM41 286h4v4h-4zM61 286h4v4h-4zM169 286h4v4h-4zM253 286h4v4h-4zM41 290h4v4h-4zM169 290h8v4h-8zM253 290h4v4h-4zM41 294h4v4h-4zM169 294h8v4h-8zM241 298h4v4h-4zM257 298h4v4h-4zM281 298h8v4h-8zM293 298h4v4h-4zM45 302h12v4h-12zM241 302h4v4h-4zM257 302h4v4h-4zM281 302h8v4h-8zM293 302h4v4h-4zM45 306h12v4h-12zM237 306h8v4h-8zM257 306h8v4h-8zM281 306h4v4h-4zM289 306h4v4h-4zM45 310h4v4h-4zM53 310h4v4h-4zM237 310h4v4h-4zM257 310h8v4h-8zM289 310h4v4h-4zM237 314h4v4h-4zM257 314h8v4h-8zM277 314h4v4h-4zM289 314h4v4h-4zM65 318h4v4h-4zM237 318h4v4h-4zM257 318h12v4h-12zM277 318h4v4h-4zM289 318h4v4h-4zM65 322h4v4h-4zM237 322h4v4h-4zM257 322h24v4h-24zM289 322h4v4h-4zM65 326h4v4h-4zM65 330h4v4h-4zM65 334h4v4h-4zM65 338h4v4h-4zM65 342h4v4h-4zM65 346h4v4h-4zM65 350h4v4h-4zM53 354h4v4h-4zM65 354h4v4h-4zM49 358h8v4h-8z"/>
<path fill="#202020" d="M45 10h4v4h-4zM221 10h12v4h-12zM249 10h4v4h-4zM261 10h20v4h-20zM45 14h4v4h-4zM69 14h4v4h-4zM221 14h12v4h-12zM249 14h4v4h-4zM261 14h20v4h-20zM69 18h12v4h-12zM141 18h4v4h-4zM169 18h4v4h-4zM221 18h12v4h-12zM249 18h4v4h-4zM261 18h20v4h-20zM293 18h4v4h-4zM69 22h12v4h-12zM125 22h4v4h-4zM141 22h4v4h-4zM173 22h4v4h-4zM221 22h12v4h-12zM249 22h4v4h-4zM261 22h20v4h-20zM293 22h4v4h-4zM69 26h16v4h-16zM141 26h4v4h-4zM161 26h8v4h-8zM177 26h4v4h-4zM201 26h4v4h-4zM221 26h12v4h-12zM249 26h4v4h-4zM261 26h20v4h-20zM293 26h4v4h-4zM49 30h4v4h-4zM69 30h8v4h-8zM81 30h4v4h-4zM161 30h8v4h-8zM177 30h4v4h-4zM193 30h12v4h-12zM225 30h8v4h-8zM249 30h4v4h-4zM261 30h20v4h-20zM49 34h4v4h-4zM69 34h8v4h-8zM81 34h4v4h-4zM161 34h4v4h-4zM205 34h4v4h-4zM225 34h8v4h-8zM249 34h4v4h-4zM261 34h20v4h-20zM69 38h8v4h-8zM81 38h4v4h-4zM161 38h4v4h-4zM205 38h4v4h-4zM225 38h4v4h-4zM249 38h4v4h-4zM261 38h20v4h-20zM69 42h8v4h-8zM81 42h4v4h-4zM161 42h4v4h-4zM225 42h4v4h-4zM249 42h4v4h-4zM261 42h20v4h-20zM69 46h16v4h-16zM189 46h4v4h-4zM225 46h4v4h-4zM261 46h16v4h-16zM53 50h4v4h-4zM69 50h16v4h-16zM181 50h4v4h-4zM225 50h4v4h-4zM261 50h12v4h-12zM53 54h4v4h-4zM69 54h16v4h-16zM125 54h4v4h-4zM133 54h4v4h-4zM181 54h4v4h-4zM261 54h12v4h-12zM69 58h16v4h-16zM125 58h12v4h-12zM181 58h4v4h-4zM261 58h12v4h-12zM69 62h4v4h-4zM77 62h8v4h-8zM89 62h4v4h-4zM129 62h8v4h-8zM185 62h4v4h-4zM245 62h4v4h-4zM261 62h12v4h-12zM69 66h4v4h-4zM77 66h8v4h-8zM89 66h4v4h-4zM133 66h4v4h-4zM157 66h4v4h-4zM245 66h4v4h-4zM261 66h12v4h-12zM69 70h4v4h-4zM77 70h16v4h-16zM157 70h4v4h-4zM261 70h12v4h-12zM69 74h4v4h-4zM77 74h16v4h-16zM153 74h8v4h-8zM261 74h12v4h-12zM293 74h4v4h-4zM53 78h4v4h-4zM77 78h16v4h-16zM153 78h12v4h-12zM209 78h4v4h-4zM261 78h12v4h-12zM293 78h4v4h-4zM53 82h4v4h-4zM77 82h16v4h-16zM153 82h12v4h-12zM209 82h4v4h-4zM261 82h12v4h-12zM293 82h4v4h-4zM53 86h4v4h-4zM77 86h12v4h-12zM153 86h12v4h-12zM261 86h12v4h-12zM293 86h4v4h-4zM65 90h4v4h-4zM77 90h4v4h-4zM85 90h4v4h-4zM153 90h12v4h-12zM257 90h8v4h-8zM269 90h4v4h-4zM293 90h4v4h-4zM49 94h4v4h-4zM65 94h4v4h-4zM77 94h4v4h-4zM137 94h4v4h-4zM153 94h12v4h-12zM257 94h4v4h-4zM269 94h4v4h-4zM293 94h8v4h-8zM41 98h4v4h-4zM49 98h4v4h-4zM77 98h4v4h-4zM137 98h4v4h-4zM153 98h24v4h-24zM293 98h8v4h-8zM41 102h8v4h-8zM77 102h4v4h-4zM137 102h4v4h-4zM153 102h24v4h-24zM293 102h8v4h-8zM37 106h12v4h-12zM61 106h4v4h-4zM77 106h4v4h-4zM137 106h4v4h-4zM153 106h16v4h-16zM177 106h4v4h-4zM253 106h4v4h-4zM273 106h4v4h-4zM297 106h4v4h-4zM29 110h4v4h-4zM37 110h4v4h-4zM45 110h4v4h-4zM61 110h4v4h-4zM77 110h4v4h-4zM137 110h4v4h-4zM157 110h12v4h-12zM177 110h4v4h-4zM273 110h4v4h-4zM29 114h4v4h-4zM61 114h4v4h-4zM77 114h4v4h-4zM137 114h4v4h-4zM157 114h8v4h-8zM177 114h4v4h-4zM273 114h4v4h-4zM289 114h4v4h-4zM29 118h8v4h-8zM77 118h4v4h-4zM137 118h4v4h-4zM157 118h8v4h-8zM177 118h4v4h-4zM213 118h4v4h-4zM285 118h8v4h-8zM33 122h4v4h-4zM77 122h4v4h-4zM137 122h4v4h-4zM157 122h4v4h-4zM177 122h4v4h-4zM185 122h4v4h-4zM213 122h4v4h-4zM285 122h8v4h-8zM137 126h4v4h-4zM157 126h4v4h-4zM177 126h16v4h-16zM213 126h4v4h-4zM277 126h16v4h-16zM137 130h4v4h-4zM157 130h4v4h-4zM177 130h16v4h-16zM213 130h4v4h-4zM245 130h8v4h-8zM277 130h8v4h-8zM289 130h4v4h-4zM81 134h4v4h-4zM157 134h4v4h-4zM181 134h12v4h-12zM213 134h4v4h-4zM245 134h8v4h-8zM289 134h4v4h-4zM81 138h4v4h-4zM157 138h4v4h-4zM181 138h12v4h-12zM213 138h4v4h-4zM249 138h4v4h-4zM289 138h4v4h-4zM157 142h4v4h-4zM181 142h12v4h-12zM249 142h4v4h-4zM289 142h4v4h-4zM85 146h4v4h-4zM157 146h4v4h-4zM181 146h8v4h-8zM197 146h4v4h-4zM213 146h4v4h-4zM289 146h4v4h-4zM85 150h4v4h-4zM181 150h8v4h-8zM197 150h8v4h-8zM213 150h4v4h-4zM289 150h4v4h-4zM181 154h8v4h-8zM197 154h12v4h-12zM213 154h8v4h-8zM289 154h4v4h-4zM153 158h4v4h-4zM181 158h8v4h-8zM197 158h4v4h-4zM205 158h4v4h-4zM213 158h12v4h-12zM289 158h4v4h-4zM29 162h4v4h-4zM153 162h4v4h-4zM181 162h8v4h-8zM197 162h4v4h-4zM205 162h4v4h-4zM217 162h8v4h-8zM289 162h4v4h-4zM29 166h8v4h-8zM181 166h4v4h-4zM197 166h4v4h-4zM205 166h4v4h-4zM221 166h4v4h-4zM249 166h8v4h-8zM289 166h4v4h-4zM33 170h4v4h-4zM57 170h4v4h-4zM73 170h4v4h-4zM137 170h4v4h-4zM181 170h4v4h-4zM197 170h4v4h-4zM205 170h4v4h-4zM225 170h4v4h-4zM249 170h8v4h-8zM289 170h4v4h-4zM297 170h4v4h-4zM57 174h4v4h-4zM73 174h4v4h-4zM149 174h4v4h-4zM181 174h4v4h-4zM197 174h12v4h-12zM225 174h4v4h-4zM249 174h4v4h-4zM257 174h4v4h-4zM289 174h4v4h-4zM297 174h4v4h-4zM57 178h4v4h-4zM73 178h4v4h-4zM149 178h4v4h-4zM181 178h4v4h-4zM201 178h8v4h-8zM257 178h4v4h-4zM289 178h8v4h-8zM57 182h4v4h-4zM69 182h4v4h-4zM149 182h4v4h-4zM181 182h4v4h-4zM201 182h4v4h-4zM229 182h4v4h-4zM289 182h8v4h-8zM69 186h4v4h-4zM149 186h4v4h-4zM181 186h4v4h-4zM229 186h4v4h-4zM289 186h4v4h-4zM53 190h4v4h-4zM69 190h4v4h-4zM77 190h4v4h-4zM149 190h4v4h-4zM181 190h8v4h-8zM229 190h4v4h-4zM245 190h4v4h-4zM289 190h4v4h-4zM37 194h4v4h-4zM49 194h8v4h-8zM69 194h4v4h-4zM77 194h4v4h-4zM181 194h12v4h-12zM229 194h8v4h-8zM245 194h4v4h-4zM289 194h4v4h-4zM37 198h4v4h-4zM45 198h4v4h-4zM69 198h4v4h-4zM77 198h4v4h-4zM165 198h4v4h-4zM181 198h12v4h-12zM229 198h8v4h-8zM289 198h4v4h-4zM37 202h4v4h-4zM69 202h4v4h-4zM77 202h4v4h-4zM165 202h4v4h-4zM185 202h8v4h-8zM229 202h16v4h-16zM289 202h4v4h-4zM37 206h8v4h-8zM69 206h4v4h-4zM77 206h4v4h-4zM161 206h4v4h-4zM169 206h4v4h-4zM185 206h8v4h-8zM229 206h16v4h-16zM289 206h4v4h-4zM37 210h8v4h-8zM69 210h4v4h-4zM77 210h4v4h-4zM161 210h4v4h-4zM169 210h4v4h-4zM189 210h4v4h-4zM237 210h8v4h-8zM289 210h8v4h-8zM41 214h4v4h-4zM77 214h4v4h-4zM161 214h4v4h-4zM169 214h4v4h-4zM189 214h4v4h-4zM225 214h4v4h-4zM237 214h4v4h-4zM285 214h4v4h-4zM293 214h4v4h-4zM73 218h12v4h-12zM161 218h4v4h-4zM189 218h4v4h-4zM225 218h4v4h-4zM237 218h4v4h-4zM285 218h4v4h-4zM33 222h4v4h-4zM73 222h12v4h-12zM141 222h4v4h-4zM161 222h4v4h-4zM189 222h4v4h-4zM237 222h4v4h-4zM33 226h4v4h-4zM77 226h8v4h-8zM161 226h4v4h-4zM189 226h4v4h-4zM237 226h4v4h-4zM297 226h4v4h-4zM45 230h4v4h-4zM81 230h8v4h-8zM161 230h4v4h-4zM173 230h4v4h-4zM189 230h4v4h-4zM221 230h4v4h-4zM237 230h4v4h-4zM281 230h4v4h-4zM297 230h4v4h-4zM29 234h4v4h-4zM81 234h8v4h-8zM173 234h4v4h-4zM189 234h4v4h-4zM197 234h8v4h-8zM221 234h4v4h-4zM237 234h4v4h-4zM29 238h4v4h-4zM85 238h4v4h-4zM173 238h4v4h-4zM189 238h4v4h-4zM197 238h8v4h-8zM237 238h4v4h-4zM49 242h4v4h-4zM85 242h4v4h-4zM189 242h4v4h-4zM197 242h8v4h-8zM237 242h4v4h-4zM85 246h4v4h-4zM189 246h4v4h-4zM197 246h8v4h-8zM217 246h4v4h-4zM53 250h4v4h-4zM85 250h4v4h-4zM145 250h4v4h-4zM189 250h4v4h-4zM197 250h8v4h-8zM217 250h4v4h-4zM277 250h4v4h-4zM53 254h4v4h-4zM85 254h4v4h-4zM165 254h4v4h-4zM189 254h8v4h-8zM201 254h4v4h-4zM277 254h4v4h-4zM57 258h4v4h-4zM85 258h4v4h-4zM165 258h4v4h-4zM189 258h8v4h-8zM201 258h4v4h-4zM261 258h4v4h-4zM29 262h8v4h-8zM57 262h4v4h-4zM81 262h8v4h-8zM165 262h4v4h-4zM189 262h8v4h-8zM261 262h4v4h-4zM29 266h4v4h-4zM81 266h8v4h-8zM165 266h4v4h-4zM177 266h4v4h-4zM189 266h4v4h-4zM213 266h4v4h-4zM265 266h4v4h-4zM273 266h4v4h-4zM61 270h4v4h-4zM81 270h8v4h-8zM165 270h4v4h-4zM177 270h4v4h-4zM205 270h4v4h-4zM269 270h8v4h-8zM37 274h4v4h-4zM61 274h4v4h-4zM81 274h8v4h-8zM165 274h4v4h-4zM177 274h4v4h-4zM205 274h8v4h-8zM245 274h4v4h-4zM61 278h4v4h-4zM81 278h8v4h-8zM165 278h4v4h-4zM177 278h4v4h-4zM245 278h8v4h-8zM81 282h8v4h-8zM165 282h4v4h-4zM177 282h8v4h-8zM245 282h8v4h-8zM297 282h4v4h-4zM81 286h8v4h-8zM165 286h4v4h-4zM177 286h8v4h-8zM245 286h4v4h-4zM297 286h4v4h-4zM81 290h4v4h-4zM161 290h8v4h-8zM177 290h4v4h-4zM161 294h8v4h-8zM177 294h4v4h-4zM253 294h4v4h-4zM41 298h4v4h-4zM169 298h12v4h-12zM253 298h4v4h-4zM41 302h4v4h-4zM65 302h4v4h-4zM233 302h4v4h-4zM253 302h4v4h-4zM65 306h4v4h-4zM233 306h4v4h-4zM253 306h4v4h-4zM285 306h4v4h-4zM293 306h4v4h-4zM49 310h4v4h-4zM65 310h4v4h-4zM233 310h4v4h-4zM241 310h4v4h-4zM253 310h4v4h-4zM281 310h8v4h-8zM293 310h4v4h-4zM45 314h12v4h-12zM65 314h4v4h-4zM233 314h4v4h-4zM241 314h4v4h-4zM253 314h4v4h-4zM281 314h4v4h-4zM293 314h4v4h-4zM45 318h4v4h-4zM53 318h4v4h-4zM233 318h4v4h-4zM241 318h4v4h-4zM253 318h4v4h-4zM281 318h4v4h-4zM293 318h4v4h-4zM45 322h4v4h-4zM53 322h4v4h-4zM221 322h4v4h-4zM233 322h4v4h-4zM253 322h4v4h-4zM281 322h4v4h-4zM293 322h4v4h-4zM253 326h28v4h-28zM289 326h8v4h-8zM53 334h4v4h-4zM45 338h4v4h-4zM53 338h4v4h-4zM45 342h4v4h-4zM53 342h4v4h-4zM45 346h12v4h-12zM45 350h12v4h-12zM45 354h8v4h-8zM45 358h4v4h-4z"/>
<path fill="#222222" d="M69 10h12v4h-12zM161 10h4v4h-4zM217 10h4v4h-4zM233 10h4v4h-4zM245 10h4v4h-4zM297 10h4v4h-4zM73 14h8v4h-8zM161 14h12v4h-12zM217 14h4v4h-4zM233 14h4v4h-4zM245 14h4v4h-4zM297 14h4v4h-4zM45 18h4v4h-4zM81 18h4v4h-4zM161 18h8v4h-8zM173 18h4v4h-4zM233 18h4v4h-4zM297 18h4v4h-4zM45 22h4v4h-4zM81 22h4v4h-4zM161 22h8v4h-8zM177 22h4v4h-4zM193 22h16v4h-16zM233 22h4v4h-4zM297 22h4v4h-4zM193 26h8v4h-8zM205 26h4v4h-4zM233 26h4v4h-4zM205 30h4v4h-4zM221 30h4v4h-4zM293 30h4v4h-4zM85 34h4v4h-4zM221 34h4v4h-4zM293 34h4v4h-4zM49 38h4v4h-4zM85 38h4v4h-4zM181 38h4v4h-4zM189 38h4v4h-4zM221 38h4v4h-4zM229 38h4v4h-4zM293 38h4v4h-4zM49 42h4v4h-4zM85 42h4v4h-4zM181 42h4v4h-4zM189 42h4v4h-4zM221 42h4v4h-4zM229 42h4v4h-4zM293 42h4v4h-4zM49 46h4v4h-4zM85 46h4v4h-4zM181 46h4v4h-4zM229 46h4v4h-4zM293 46h4v4h-4zM85 50h4v4h-4zM229 50h4v4h-4zM293 50h4v4h-4zM85 54h4v4h-4zM185 54h4v4h-4zM225 54h8v4h-8zM245 54h4v4h-4zM293 54h4v4h-4zM53 58h4v4h-4zM85 58h4v4h-4zM185 58h4v4h-4zM225 58h8v4h-8zM245 58h4v4h-4zM293 58h4v4h-4zM53 62h4v4h-4zM73 62h4v4h-4zM85 62h4v4h-4zM125 62h4v4h-4zM225 62h8v4h-8zM293 62h4v4h-4zM53 66h4v4h-4zM73 66h4v4h-4zM85 66h4v4h-4zM129 66h4v4h-4zM225 66h8v4h-8zM293 66h4v4h-4zM53 70h4v4h-4zM73 70h4v4h-4zM129 70h8v4h-8zM225 70h8v4h-8zM293 70h4v4h-4zM53 74h4v4h-4zM73 74h4v4h-4zM133 74h4v4h-4zM209 74h4v4h-4zM225 74h4v4h-4zM69 78h8v4h-8zM133 78h4v4h-4zM241 78h4v4h-4zM49 82h4v4h-4zM69 82h8v4h-8zM133 82h4v4h-4zM241 82h4v4h-4zM297 82h4v4h-4zM41 86h12v4h-12zM69 86h8v4h-8zM133 86h4v4h-4zM241 86h4v4h-4zM297 86h4v4h-4zM29 90h4v4h-4zM41 90h12v4h-12zM69 90h8v4h-8zM133 90h4v4h-4zM241 90h4v4h-4zM265 90h4v4h-4zM297 90h4v4h-4zM29 94h4v4h-4zM37 94h12v4h-12zM69 94h8v4h-8zM241 94h4v4h-4zM261 94h8v4h-8zM29 98h4v4h-4zM37 98h4v4h-4zM45 98h4v4h-4zM65 98h4v4h-4zM73 98h4v4h-4zM241 98h4v4h-4zM257 98h16v4h-16zM29 102h12v4h-12zM65 102h4v4h-4zM73 102h4v4h-4zM241 102h4v4h-4zM261 102h12v4h-12zM29 106h8v4h-8zM169 106h8v4h-8zM213 106h4v4h-4zM241 106h4v4h-4zM265 106h8v4h-8zM33 110h4v4h-4zM169 110h8v4h-8zM213 110h4v4h-4zM241 110h4v4h-4zM253 110h4v4h-4zM269 110h4v4h-4zM33 114h4v4h-4zM165 114h12v4h-12zM213 114h4v4h-4zM253 114h4v4h-4zM61 118h4v4h-4zM165 118h12v4h-12zM273 118h4v4h-4zM61 122h4v4h-4zM161 122h16v4h-16zM273 122h4v4h-4zM77 126h4v4h-4zM161 126h8v4h-8zM273 126h4v4h-4zM77 130h4v4h-4zM161 130h4v4h-4zM285 130h4v4h-4zM77 134h4v4h-4zM161 134h4v4h-4zM177 134h4v4h-4zM277 134h12v4h-12zM77 138h4v4h-4zM161 138h4v4h-4zM177 138h4v4h-4zM217 138h4v4h-4zM245 138h4v4h-4zM277 138h12v4h-12zM81 142h4v4h-4zM177 142h4v4h-4zM217 142h4v4h-4zM245 142h4v4h-4zM81 146h4v4h-4zM177 146h4v4h-4zM217 146h8v4h-8zM249 146h4v4h-4zM157 150h4v4h-4zM177 150h4v4h-4zM217 150h8v4h-8zM249 150h4v4h-4zM85 154h4v4h-4zM157 154h4v4h-4zM177 154h4v4h-4zM221 154h4v4h-4zM249 154h4v4h-4zM85 158h4v4h-4zM177 158h4v4h-4zM201 158h4v4h-4zM225 158h4v4h-4zM249 158h8v4h-8zM73 162h4v4h-4zM85 162h4v4h-4zM201 162h4v4h-4zM225 162h4v4h-4zM249 162h8v4h-8zM73 166h4v4h-4zM85 166h4v4h-4zM153 166h4v4h-4zM201 166h4v4h-4zM225 166h4v4h-4zM29 170h4v4h-4zM85 170h4v4h-4zM153 170h4v4h-4zM201 170h4v4h-4zM229 170h4v4h-4zM257 170h4v4h-4zM33 174h4v4h-4zM69 174h4v4h-4zM77 174h4v4h-4zM153 174h4v4h-4zM229 174h4v4h-4zM69 178h4v4h-4zM77 178h4v4h-4zM229 178h4v4h-4zM245 178h4v4h-4zM297 178h4v4h-4zM77 182h4v4h-4zM233 182h4v4h-4zM245 182h4v4h-4zM57 186h4v4h-4zM77 186h4v4h-4zM85 186h4v4h-4zM233 186h4v4h-4zM245 186h4v4h-4zM293 186h4v4h-4zM57 190h4v4h-4zM85 190h4v4h-4zM233 190h4v4h-4zM293 190h4v4h-4zM85 194h4v4h-4zM149 194h4v4h-4zM165 194h4v4h-4zM237 194h8v4h-8zM261 194h4v4h-4zM293 194h4v4h-4zM49 198h8v4h-8zM85 198h4v4h-4zM149 198h4v4h-4zM161 198h4v4h-4zM169 198h4v4h-4zM237 198h8v4h-8zM261 198h4v4h-4zM285 198h4v4h-4zM293 198h4v4h-4zM45 202h4v4h-4zM81 202h8v4h-8zM149 202h4v4h-4zM161 202h4v4h-4zM169 202h4v4h-4zM181 202h4v4h-4zM285 202h4v4h-4zM293 202h4v4h-4zM45 206h4v4h-4zM81 206h8v4h-8zM149 206h4v4h-4zM181 206h4v4h-4zM285 206h4v4h-4zM293 206h4v4h-4zM45 210h4v4h-4zM81 210h8v4h-8zM149 210h4v4h-4zM181 210h8v4h-8zM229 210h8v4h-8zM285 210h4v4h-4zM33 214h4v4h-4zM69 214h4v4h-4zM81 214h8v4h-8zM149 214h4v4h-4zM173 214h4v4h-4zM185 214h4v4h-4zM229 214h8v4h-8zM33 218h4v4h-4zM45 218h4v4h-4zM69 218h4v4h-4zM85 218h4v4h-4zM149 218h4v4h-4zM173 218h4v4h-4zM185 218h4v4h-4zM233 218h4v4h-4zM45 222h4v4h-4zM69 222h4v4h-4zM85 222h4v4h-4zM173 222h4v4h-4zM225 222h4v4h-4zM233 222h4v4h-4zM281 222h4v4h-4zM297 222h4v4h-4zM29 226h4v4h-4zM45 226h4v4h-4zM69 226h8v4h-8zM85 226h4v4h-4zM141 226h4v4h-4zM173 226h4v4h-4zM281 226h4v4h-4zM29 230h4v4h-4zM73 230h8v4h-8zM49 234h4v4h-4zM77 234h4v4h-4zM161 234h4v4h-4zM49 238h4v4h-4zM81 238h4v4h-4zM161 238h4v4h-4zM221 238h4v4h-4zM81 242h4v4h-4zM161 242h4v4h-4zM53 246h4v4h-4zM81 246h4v4h-4zM185 246h4v4h-4zM277 246h4v4h-4zM57 250h4v4h-4zM81 250h4v4h-4zM177 250h4v4h-4zM185 250h4v4h-4zM57 254h4v4h-4zM81 254h4v4h-4zM177 254h4v4h-4zM185 254h4v4h-4zM197 254h4v4h-4zM217 254h4v4h-4zM261 254h4v4h-4zM61 258h4v4h-4zM81 258h4v4h-4zM177 258h4v4h-4zM185 258h4v4h-4zM197 258h4v4h-4zM61 262h4v4h-4zM177 262h12v4h-12zM197 262h8v4h-8zM265 262h4v4h-4zM273 262h4v4h-4zM33 266h4v4h-4zM61 266h4v4h-4zM181 266h8v4h-8zM193 266h4v4h-4zM201 266h4v4h-4zM269 266h4v4h-4zM29 270h8v4h-8zM181 270h16v4h-16zM201 270h4v4h-4zM213 270h4v4h-4zM29 274h4v4h-4zM181 274h12v4h-12zM201 274h4v4h-4zM37 278h4v4h-4zM157 278h8v4h-8zM181 278h12v4h-12zM205 278h8v4h-8zM37 282h4v4h-4zM157 282h8v4h-8zM185 282h4v4h-4zM205 282h8v4h-8zM233 282h4v4h-4zM77 286h4v4h-4zM157 286h8v4h-8zM185 286h4v4h-4zM205 286h4v4h-4zM233 286h4v4h-4zM249 286h4v4h-4zM65 290h4v4h-4zM77 290h4v4h-4zM181 290h8v4h-8zM233 290h4v4h-4zM245 290h8v4h-8zM297 290h4v4h-4zM65 294h4v4h-4zM77 294h8v4h-8zM181 294h4v4h-4zM233 294h4v4h-4zM245 294h8v4h-8zM65 298h4v4h-4zM77 298h8v4h-8zM165 298h4v4h-4zM181 298h4v4h-4zM233 298h4v4h-4zM245 298h4v4h-4zM77 302h4v4h-4zM169 302h16v4h-16zM41 306h4v4h-4zM173 306h8v4h-8zM41 310h4v4h-4zM41 314h4v4h-4zM285 314h4v4h-4zM41 318h4v4h-4zM49 318h4v4h-4zM221 318h4v4h-4zM285 318h4v4h-4zM49 322h4v4h-4zM217 322h4v4h-4zM225 322h4v4h-4zM241 322h4v4h-4zM285 322h4v4h-4zM45 326h12v4h-12zM241 326h4v4h-4zM281 326h8v4h-8zM45 330h4v4h-4zM53 330h4v4h-4zM45 334h8v4h-8zM49 338h4v4h-4zM49 342h4v4h-4zM69 346h4v4h-4zM69 350h4v4h-4zM69 354h4v4h-4zM69 358h8v4h-8z"/>
<path fill="#242424" d="M125 10h4v4h-4zM165 10h8v4h-8zM189 10h8v4h-8zM205 10h4v4h-4zM213 10h4v4h-4zM237 10h8v4h-8zM81 14h4v4h-4zM125 14h4v4h-4zM173 14h4v4h-4zM189 14h8v4h-8zM201 14h8v4h-8zM237 14h8v4h-8zM125 18h4v4h-4zM177 18h4v4h-4zM189 18h20v4h-20zM217 18h4v4h-4zM237 18h4v4h-4zM245 18h4v4h-4zM189 22h4v4h-4zM217 22h4v4h-4zM245 22h4v4h-4zM45 26h4v4h-4zM85 26h4v4h-4zM181 26h4v4h-4zM189 26h4v4h-4zM217 26h4v4h-4zM245 26h4v4h-4zM297 26h4v4h-4zM45 30h4v4h-4zM85 30h4v4h-4zM181 30h4v4h-4zM189 30h4v4h-4zM233 30h4v4h-4zM245 30h4v4h-4zM297 30h4v4h-4zM181 34h4v4h-4zM189 34h4v4h-4zM233 34h4v4h-4zM245 34h4v4h-4zM297 34h4v4h-4zM233 38h4v4h-4zM245 38h4v4h-4zM297 38h4v4h-4zM233 42h4v4h-4zM245 42h4v4h-4zM297 42h4v4h-4zM221 46h4v4h-4zM233 46h4v4h-4zM245 46h4v4h-4zM297 46h4v4h-4zM49 50h4v4h-4zM185 50h4v4h-4zM221 50h4v4h-4zM233 50h4v4h-4zM245 50h4v4h-4zM297 50h4v4h-4zM49 54h4v4h-4zM221 54h4v4h-4zM233 54h4v4h-4zM297 54h4v4h-4zM49 58h4v4h-4zM233 58h4v4h-4zM297 58h4v4h-4zM49 62h4v4h-4zM233 62h4v4h-4zM297 62h4v4h-4zM29 66h4v4h-4zM49 66h4v4h-4zM125 66h4v4h-4zM209 66h4v4h-4zM233 66h4v4h-4zM241 66h4v4h-4zM297 66h4v4h-4zM29 70h4v4h-4zM49 70h4v4h-4zM125 70h4v4h-4zM209 70h4v4h-4zM233 70h12v4h-12zM297 70h4v4h-4zM29 74h4v4h-4zM41 74h12v4h-12zM129 74h4v4h-4zM229 74h16v4h-16zM297 74h4v4h-4zM29 78h24v4h-24zM129 78h4v4h-4zM225 78h8v4h-8zM237 78h4v4h-4zM297 78h4v4h-4zM29 82h20v4h-20zM129 82h4v4h-4zM225 82h8v4h-8zM29 86h12v4h-12zM225 86h8v4h-8zM33 90h8v4h-8zM225 90h8v4h-8zM33 94h4v4h-4zM133 94h4v4h-4zM225 94h8v4h-8zM33 98h4v4h-4zM69 98h4v4h-4zM133 98h4v4h-4zM213 98h4v4h-4zM225 98h4v4h-4zM69 102h4v4h-4zM133 102h4v4h-4zM213 102h4v4h-4zM257 102h4v4h-4zM65 106h4v4h-4zM73 106h4v4h-4zM133 106h4v4h-4zM257 106h8v4h-8zM73 110h4v4h-4zM265 110h4v4h-4zM73 114h4v4h-4zM241 114h4v4h-4zM265 114h8v4h-8zM241 118h4v4h-4zM253 118h4v4h-4zM269 118h4v4h-4zM241 122h4v4h-4zM253 122h4v4h-4zM269 122h4v4h-4zM61 126h4v4h-4zM169 126h8v4h-8zM217 126h4v4h-4zM241 126h4v4h-4zM253 126h4v4h-4zM61 130h4v4h-4zM165 130h12v4h-12zM217 130h4v4h-4zM273 130h4v4h-4zM61 134h4v4h-4zM165 134h12v4h-12zM217 134h8v4h-8zM273 134h4v4h-4zM165 138h4v4h-4zM173 138h4v4h-4zM221 138h4v4h-4zM273 138h4v4h-4zM77 142h4v4h-4zM133 142h4v4h-4zM161 142h4v4h-4zM221 142h4v4h-4zM277 142h12v4h-12zM77 146h4v4h-4zM161 146h4v4h-4zM245 146h4v4h-4zM253 146h4v4h-4zM277 146h12v4h-12zM77 150h8v4h-8zM225 150h4v4h-4zM245 150h4v4h-4zM253 150h4v4h-4zM285 150h4v4h-4zM73 154h12v4h-12zM225 154h4v4h-4zM245 154h4v4h-4zM253 154h4v4h-4zM285 154h4v4h-4zM73 158h12v4h-12zM157 158h4v4h-4zM245 158h4v4h-4zM285 158h4v4h-4zM77 162h4v4h-4zM157 162h4v4h-4zM177 162h4v4h-4zM229 162h4v4h-4zM245 162h4v4h-4zM285 162h4v4h-4zM69 166h4v4h-4zM77 166h4v4h-4zM177 166h4v4h-4zM229 166h4v4h-4zM245 166h4v4h-4zM257 166h4v4h-4zM285 166h4v4h-4zM69 170h4v4h-4zM77 170h4v4h-4zM177 170h4v4h-4zM245 170h4v4h-4zM285 170h4v4h-4zM29 174h4v4h-4zM85 174h4v4h-4zM137 174h4v4h-4zM177 174h4v4h-4zM245 174h4v4h-4zM285 174h4v4h-4zM33 178h4v4h-4zM85 178h4v4h-4zM153 178h4v4h-4zM177 178h4v4h-4zM233 178h4v4h-4zM285 178h4v4h-4zM33 182h4v4h-4zM85 182h4v4h-4zM153 182h4v4h-4zM177 182h4v4h-4zM261 182h4v4h-4zM285 182h4v4h-4zM297 182h4v4h-4zM33 186h4v4h-4zM165 186h4v4h-4zM177 186h4v4h-4zM237 186h8v4h-8zM261 186h4v4h-4zM285 186h4v4h-4zM81 190h4v4h-4zM161 190h12v4h-12zM177 190h4v4h-4zM237 190h8v4h-8zM261 190h4v4h-4zM285 190h4v4h-4zM57 194h4v4h-4zM81 194h4v4h-4zM161 194h4v4h-4zM169 194h4v4h-4zM177 194h4v4h-4zM285 194h4v4h-4zM57 198h4v4h-4zM81 198h4v4h-4zM177 198h4v4h-4zM49 202h8v4h-8zM173 202h8v4h-8zM261 202h4v4h-4zM33 206h4v4h-4zM49 206h8v4h-8zM173 206h8v4h-8zM261 206h4v4h-4zM33 210h4v4h-4zM49 210h4v4h-4zM173 210h8v4h-8zM261 210h4v4h-4zM45 214h4v4h-4zM157 214h4v4h-4zM177 214h8v4h-8zM281 214h4v4h-4zM297 214h4v4h-4zM157 218h4v4h-4zM177 218h8v4h-8zM229 218h4v4h-4zM281 218h4v4h-4zM297 218h4v4h-4zM29 222h4v4h-4zM149 222h4v4h-4zM157 222h4v4h-4zM177 222h12v4h-12zM229 222h4v4h-4zM49 226h4v4h-4zM149 226h4v4h-4zM177 226h4v4h-4zM185 226h4v4h-4zM225 226h12v4h-12zM49 230h4v4h-4zM69 230h4v4h-4zM141 230h4v4h-4zM149 230h4v4h-4zM177 230h4v4h-4zM185 230h4v4h-4zM225 230h4v4h-4zM233 230h4v4h-4zM53 234h4v4h-4zM69 234h8v4h-8zM149 234h4v4h-4zM177 234h4v4h-4zM185 234h4v4h-4zM233 234h4v4h-4zM53 238h4v4h-4zM77 238h4v4h-4zM149 238h4v4h-4zM177 238h4v4h-4zM185 238h4v4h-4zM233 238h4v4h-4zM277 238h4v4h-4zM53 242h12v4h-12zM77 242h4v4h-4zM149 242h4v4h-4zM177 242h4v4h-4zM185 242h4v4h-4zM221 242h4v4h-4zM233 242h4v4h-4zM277 242h4v4h-4zM57 246h8v4h-8zM77 246h4v4h-4zM149 246h4v4h-4zM161 246h4v4h-4zM177 246h8v4h-8zM233 246h4v4h-4zM261 246h4v4h-4zM61 250h4v4h-4zM149 250h4v4h-4zM161 250h4v4h-4zM181 250h4v4h-4zM233 250h4v4h-4zM261 250h4v4h-4zM61 254h4v4h-4zM145 254h8v4h-8zM161 254h4v4h-4zM181 254h4v4h-4zM233 254h4v4h-4zM149 258h4v4h-4zM161 258h4v4h-4zM181 258h4v4h-4zM217 258h4v4h-4zM233 258h4v4h-4zM265 258h4v4h-4zM273 258h4v4h-4zM149 262h4v4h-4zM161 262h4v4h-4zM233 262h4v4h-4zM269 262h4v4h-4zM149 266h4v4h-4zM157 266h8v4h-8zM197 266h4v4h-4zM233 266h4v4h-4zM77 270h4v4h-4zM157 270h8v4h-8zM197 270h4v4h-4zM233 270h4v4h-4zM33 274h4v4h-4zM77 274h4v4h-4zM153 274h12v4h-12zM193 274h4v4h-4zM213 274h4v4h-4zM233 274h4v4h-4zM29 278h4v4h-4zM65 278h4v4h-4zM77 278h4v4h-4zM153 278h4v4h-4zM193 278h4v4h-4zM201 278h4v4h-4zM213 278h4v4h-4zM233 278h4v4h-4zM65 282h4v4h-4zM77 282h4v4h-4zM189 282h4v4h-4zM201 282h4v4h-4zM37 286h4v4h-4zM65 286h4v4h-4zM189 286h4v4h-4zM201 286h4v4h-4zM209 286h4v4h-4zM37 290h4v4h-4zM189 290h4v4h-4zM205 290h4v4h-4zM73 294h4v4h-4zM185 294h4v4h-4zM205 294h4v4h-4zM297 294h4v4h-4zM73 298h4v4h-4zM185 298h4v4h-4zM249 298h4v4h-4zM297 298h4v4h-4zM69 302h8v4h-8zM81 302h4v4h-4zM185 302h4v4h-4zM245 302h8v4h-8zM69 306h12v4h-12zM181 306h8v4h-8zM245 306h8v4h-8zM69 310h12v4h-12zM181 310h4v4h-4zM221 310h4v4h-4zM229 310h4v4h-4zM245 310h8v4h-8zM69 314h12v4h-12zM217 314h16v4h-16zM245 314h8v4h-8zM69 318h8v4h-8zM217 318h4v4h-4zM225 318h8v4h-8zM245 318h8v4h-8zM41 322h4v4h-4zM69 322h8v4h-8zM229 322h4v4h-4zM245 322h8v4h-8zM41 326h4v4h-4zM69 326h8v4h-8zM229 326h12v4h-12zM245 326h8v4h-8zM41 330h4v4h-4zM49 330h4v4h-4zM69 330h8v4h-8zM293 330h4v4h-4zM41 334h4v4h-4zM69 334h8v4h-8zM41 338h4v4h-4zM69 338h8v4h-8zM41 342h4v4h-4zM69 342h8v4h-8zM41 346h4v4h-4zM73 346h4v4h-4zM41 350h4v4h-4zM73 350h4v4h-4zM73 354h8v4h-8zM77 358h4v4h-4z"/>
<path fill="#262626" d="M41 10h4v4h-4zM81 10h4v4h-4zM173 10h4v4h-4zM185 10h4v4h-4zM197 10h8v4h-8zM209 10h4v4h-4zM41 14h4v4h-4zM177 14h12v4h-12zM197 14h4v4h-4zM209 14h8v4h-8zM85 18h4v4h-4zM181 18h8v4h-8zM209 18h8v4h-8zM241 18h4v4h-4zM29 22h4v4h-4zM85 22h4v4h-4zM181 22h8v4h-8zM209 22h8v4h-8zM237 22h8v4h-8zM29 26h4v4h-4zM185 26h4v4h-4zM209 26h4v4h-4zM237 26h8v4h-8zM29 30h4v4h-4zM185 30h4v4h-4zM209 30h4v4h-4zM217 30h4v4h-4zM237 30h4v4h-4zM29 34h4v4h-4zM45 34h4v4h-4zM185 34h4v4h-4zM209 34h4v4h-4zM217 34h4v4h-4zM237 34h4v4h-4zM29 38h4v4h-4zM45 38h4v4h-4zM185 38h4v4h-4zM209 38h4v4h-4zM217 38h4v4h-4zM237 38h4v4h-4zM29 42h4v4h-4zM45 42h4v4h-4zM185 42h4v4h-4zM209 42h4v4h-4zM237 42h4v4h-4zM29 46h4v4h-4zM45 46h4v4h-4zM185 46h4v4h-4zM209 46h4v4h-4zM237 46h4v4h-4zM29 50h4v4h-4zM45 50h4v4h-4zM209 50h4v4h-4zM237 50h4v4h-4zM29 54h8v4h-8zM45 54h4v4h-4zM209 54h4v4h-4zM237 54h8v4h-8zM29 58h8v4h-8zM45 58h4v4h-4zM209 58h4v4h-4zM221 58h4v4h-4zM237 58h8v4h-8zM29 62h8v4h-8zM45 62h4v4h-4zM209 62h4v4h-4zM221 62h4v4h-4zM237 62h8v4h-8zM33 66h16v4h-16zM221 66h4v4h-4zM237 66h4v4h-4zM33 70h16v4h-16zM221 70h4v4h-4zM33 74h8v4h-8zM125 74h4v4h-4zM125 78h4v4h-4zM233 78h4v4h-4zM125 82h4v4h-4zM233 82h8v4h-8zM129 86h4v4h-4zM233 86h8v4h-8zM129 90h4v4h-4zM213 90h4v4h-4zM233 90h8v4h-8zM129 94h4v4h-4zM213 94h4v4h-4zM237 94h4v4h-4zM129 98h4v4h-4zM229 98h4v4h-4zM237 98h4v4h-4zM225 102h8v4h-8zM69 106h4v4h-4zM225 106h8v4h-8zM65 110h8v4h-8zM133 110h4v4h-4zM217 110h4v4h-4zM225 110h4v4h-4zM257 110h8v4h-8zM65 114h4v4h-4zM133 114h4v4h-4zM217 114h4v4h-4zM225 114h4v4h-4zM261 114h4v4h-4zM73 118h4v4h-4zM133 118h4v4h-4zM217 118h12v4h-12zM265 118h4v4h-4zM73 122h4v4h-4zM133 122h4v4h-4zM217 122h12v4h-12zM265 122h4v4h-4zM73 126h4v4h-4zM133 126h4v4h-4zM221 126h8v4h-8zM269 126h4v4h-4zM73 130h4v4h-4zM133 130h4v4h-4zM221 130h8v4h-8zM241 130h4v4h-4zM253 130h4v4h-4zM269 130h4v4h-4zM73 134h4v4h-4zM133 134h4v4h-4zM225 134h4v4h-4zM241 134h4v4h-4zM253 134h4v4h-4zM61 138h4v4h-4zM73 138h4v4h-4zM133 138h4v4h-4zM169 138h4v4h-4zM225 138h4v4h-4zM241 138h4v4h-4zM253 138h4v4h-4zM61 142h4v4h-4zM73 142h4v4h-4zM165 142h12v4h-12zM225 142h4v4h-4zM253 142h4v4h-4zM273 142h4v4h-4zM61 146h4v4h-4zM73 146h4v4h-4zM133 146h4v4h-4zM165 146h12v4h-12zM225 146h4v4h-4zM273 146h4v4h-4zM61 150h4v4h-4zM73 150h4v4h-4zM161 150h8v4h-8zM173 150h4v4h-4zM277 150h8v4h-8zM61 154h4v4h-4zM161 154h4v4h-4zM173 154h4v4h-4zM229 154h4v4h-4zM277 154h8v4h-8zM61 158h4v4h-4zM69 158h4v4h-4zM161 158h4v4h-4zM173 158h4v4h-4zM229 158h4v4h-4zM257 158h4v4h-4zM281 158h4v4h-4zM61 162h4v4h-4zM69 162h4v4h-4zM81 162h4v4h-4zM257 162h4v4h-4zM281 162h4v4h-4zM61 166h4v4h-4zM81 166h4v4h-4zM157 166h4v4h-4zM61 170h4v4h-4zM81 170h4v4h-4zM157 170h4v4h-4zM233 170h4v4h-4zM61 174h8v4h-8zM81 174h4v4h-4zM157 174h4v4h-4zM233 174h4v4h-4zM261 174h4v4h-4zM29 178h4v4h-4zM61 178h8v4h-8zM81 178h4v4h-4zM137 178h4v4h-4zM165 178h4v4h-4zM237 178h8v4h-8zM261 178h4v4h-4zM29 182h4v4h-4zM61 182h8v4h-8zM81 182h4v4h-4zM161 182h12v4h-12zM237 182h8v4h-8zM61 186h8v4h-8zM81 186h4v4h-4zM153 186h4v4h-4zM161 186h4v4h-4zM169 186h8v4h-8zM297 186h4v4h-4zM33 190h4v4h-4zM61 190h8v4h-8zM153 190h4v4h-4zM173 190h4v4h-4zM297 190h4v4h-4zM33 194h4v4h-4zM61 194h8v4h-8zM153 194h8v4h-8zM173 194h4v4h-4zM297 194h4v4h-4zM33 198h4v4h-4zM61 198h8v4h-8zM153 198h8v4h-8zM173 198h4v4h-4zM281 198h4v4h-4zM297 198h4v4h-4zM33 202h4v4h-4zM57 202h4v4h-4zM65 202h4v4h-4zM153 202h8v4h-8zM281 202h4v4h-4zM297 202h4v4h-4zM57 206h4v4h-4zM65 206h4v4h-4zM153 206h8v4h-8zM281 206h4v4h-4zM297 206h4v4h-4zM53 210h8v4h-8zM65 210h4v4h-4zM153 210h8v4h-8zM281 210h4v4h-4zM297 210h4v4h-4zM29 214h4v4h-4zM49 214h12v4h-12zM65 214h4v4h-4zM153 214h4v4h-4zM261 214h4v4h-4zM29 218h4v4h-4zM49 218h12v4h-12zM65 218h4v4h-4zM153 218h4v4h-4zM261 218h4v4h-4zM49 222h12v4h-12zM65 222h4v4h-4zM261 222h4v4h-4zM53 226h16v4h-16zM157 226h4v4h-4zM181 226h4v4h-4zM261 226h4v4h-4zM53 230h16v4h-16zM157 230h4v4h-4zM181 230h4v4h-4zM229 230h4v4h-4zM57 234h12v4h-12zM157 234h4v4h-4zM181 234h4v4h-4zM225 234h8v4h-8zM277 234h4v4h-4zM57 238h20v4h-20zM157 238h4v4h-4zM181 238h4v4h-4zM225 238h4v4h-4zM261 238h4v4h-4zM65 242h12v4h-12zM153 242h8v4h-8zM181 242h4v4h-4zM261 242h4v4h-4zM65 246h4v4h-4zM153 246h8v4h-8zM221 246h4v4h-4zM65 250h4v4h-4zM77 250h4v4h-4zM153 250h8v4h-8zM65 254h4v4h-4zM77 254h4v4h-4zM153 254h8v4h-8zM273 254h4v4h-4zM65 258h4v4h-4zM77 258h4v4h-4zM153 258h8v4h-8zM269 258h4v4h-4zM65 262h4v4h-4zM77 262h4v4h-4zM153 262h8v4h-8zM217 262h4v4h-4zM65 266h4v4h-4zM77 266h4v4h-4zM153 266h4v4h-4zM65 270h4v4h-4zM149 270h8v4h-8zM65 274h4v4h-4zM197 274h4v4h-4zM33 278h4v4h-4zM197 278h4v4h-4zM29 282h4v4h-4zM193 282h8v4h-8zM213 282h4v4h-4zM73 286h4v4h-4zM193 286h4v4h-4zM69 290h8v4h-8zM193 290h4v4h-4zM201 290h4v4h-4zM209 290h4v4h-4zM37 294h4v4h-4zM69 294h4v4h-4zM189 294h4v4h-4zM201 294h4v4h-4zM209 294h4v4h-4zM69 298h4v4h-4zM161 298h4v4h-4zM189 298h4v4h-4zM201 298h8v4h-8zM229 298h4v4h-4zM189 302h4v4h-4zM201 302h8v4h-8zM229 302h4v4h-4zM297 302h4v4h-4zM81 306h4v4h-4zM189 306h4v4h-4zM201 306h8v4h-8zM221 306h12v4h-12zM297 306h4v4h-4zM81 310h4v4h-4zM185 310h4v4h-4zM201 310h8v4h-8zM217 310h4v4h-4zM225 310h4v4h-4zM185 314h4v4h-4zM201 314h8v4h-8zM77 318h4v4h-4zM201 318h8v4h-8zM77 322h4v4h-4zM205 322h4v4h-4zM213 322h4v4h-4zM77 326h4v4h-4zM221 326h8v4h-8zM297 326h4v4h-4zM257 330h36v4h-36zM297 330h4v4h-4zM77 346h4v4h-4zM77 350h4v4h-4zM41 354h4v4h-4zM41 358h4v4h-4z"/>
<path fill="#282828" d="M29 10h4v4h-4zM85 10h4v4h-4zM177 10h8v4h-8zM29 14h4v4h-4zM85 14h4v4h-4zM29 18h4v4h-4zM41 18h4v4h-4zM41 22h4v4h-4zM213 26h4v4h-4zM213 30h4v4h-4zM241 30h4v4h-4zM213 34h4v4h-4zM241 34h4v4h-4zM33 38h4v4h-4zM241 38h4v4h-4zM33 42h4v4h-4zM217 42h4v4h-4zM241 42h4v4h-4zM33 46h4v4h-4zM217 46h4v4h-4zM241 46h4v4h-4zM33 50h4v4h-4zM241 50h4v4h-4zM37 54h8v4h-8zM37 58h8v4h-8zM37 62h8v4h-8zM221 74h4v4h-4zM221 78h4v4h-4zM213 82h4v4h-4zM221 82h4v4h-4zM125 86h4v4h-4zM213 86h4v4h-4zM221 86h4v4h-4zM125 90h4v4h-4zM221 90h4v4h-4zM125 94h4v4h-4zM221 94h4v4h-4zM233 94h4v4h-4zM217 98h8v4h-8zM233 98h4v4h-4zM129 102h4v4h-4zM217 102h8v4h-8zM233 102h8v4h-8zM129 106h4v4h-4zM217 106h8v4h-8zM233 106h8v4h-8zM129 110h4v4h-4zM221 110h4v4h-4zM229 110h4v4h-4zM237 110h4v4h-4zM69 114h4v4h-4zM221 114h4v4h-4zM229 114h4v4h-4zM237 114h4v4h-4zM257 114h4v4h-4zM65 118h8v4h-8zM229 118h4v4h-4zM257 118h8v4h-8zM65 122h4v4h-4zM229 122h4v4h-4zM261 122h4v4h-4zM229 126h4v4h-4zM265 126h4v4h-4zM229 130h4v4h-4zM265 130h4v4h-4zM229 134h4v4h-4zM269 134h4v4h-4zM229 138h4v4h-4zM269 138h4v4h-4zM229 142h4v4h-4zM241 142h4v4h-4zM229 146h4v4h-4zM241 146h4v4h-4zM169 150h4v4h-4zM229 150h4v4h-4zM241 150h4v4h-4zM273 150h4v4h-4zM69 154h4v4h-4zM165 154h8v4h-8zM257 154h4v4h-4zM273 154h4v4h-4zM165 158h8v4h-8zM233 158h4v4h-4zM277 158h4v4h-4zM65 162h4v4h-4zM161 162h16v4h-16zM233 162h4v4h-4zM277 162h4v4h-4zM65 166h4v4h-4zM161 166h16v4h-16zM233 166h4v4h-4zM241 166h4v4h-4zM277 166h8v4h-8zM65 170h4v4h-4zM161 170h16v4h-16zM237 170h8v4h-8zM261 170h4v4h-4zM281 170h4v4h-4zM161 174h16v4h-16zM237 174h8v4h-8zM281 174h4v4h-4zM157 178h8v4h-8zM169 178h8v4h-8zM281 178h4v4h-4zM157 182h4v4h-4zM173 182h4v4h-4zM281 182h4v4h-4zM29 186h4v4h-4zM157 186h4v4h-4zM281 186h4v4h-4zM29 190h4v4h-4zM157 190h4v4h-4zM281 190h4v4h-4zM281 194h4v4h-4zM61 202h4v4h-4zM29 206h4v4h-4zM61 206h4v4h-4zM29 210h4v4h-4zM61 210h4v4h-4zM61 214h4v4h-4zM61 218h4v4h-4zM61 222h4v4h-4zM153 222h4v4h-4zM153 226h4v4h-4zM277 226h4v4h-4zM153 230h4v4h-4zM261 230h4v4h-4zM277 230h4v4h-4zM141 234h4v4h-4zM153 234h4v4h-4zM261 234h4v4h-4zM153 238h4v4h-4zM229 238h4v4h-4zM225 242h8v4h-8zM69 246h8v4h-8zM225 246h8v4h-8zM273 246h4v4h-4zM69 250h8v4h-8zM221 250h4v4h-4zM229 250h4v4h-4zM273 250h4v4h-4zM221 254h4v4h-4zM229 254h4v4h-4zM265 254h8v4h-8zM145 258h4v4h-4zM217 266h4v4h-4zM217 270h4v4h-4zM73 274h4v4h-4zM73 278h4v4h-4zM33 282h4v4h-4zM69 282h8v4h-8zM29 286h4v4h-4zM69 286h4v4h-4zM197 286h4v4h-4zM213 286h4v4h-4zM229 286h4v4h-4zM197 290h4v4h-4zM213 290h4v4h-4zM229 290h4v4h-4zM193 294h8v4h-8zM213 294h4v4h-4zM229 294h4v4h-4zM37 298h4v4h-4zM193 298h8v4h-8zM209 298h4v4h-4zM225 298h4v4h-4zM37 302h4v4h-4zM193 302h8v4h-8zM209 302h4v4h-4zM217 302h12v4h-12zM193 306h8v4h-8zM209 306h4v4h-4zM217 306h4v4h-4zM189 310h12v4h-12zM209 310h8v4h-8zM297 310h4v4h-4zM81 314h4v4h-4zM189 314h12v4h-12zM209 314h8v4h-8zM297 314h4v4h-4zM189 318h12v4h-12zM209 318h8v4h-8zM297 318h4v4h-4zM201 322h4v4h-4zM209 322h4v4h-4zM297 322h4v4h-4zM217 326h4v4h-4zM77 330h4v4h-4zM249 330h8v4h-8zM77 334h4v4h-4zM77 338h4v4h-4zM77 342h4v4h-4z"/>
<path fill="#2a2a2a" d="M33 26h4v4h-4zM41 26h4v4h-4zM33 30h4v4h-4zM41 30h4v4h-4zM33 34h4v4h-4zM41 34h4v4h-4zM41 38h4v4h-4zM121 38h4v4h-4zM213 38h4v4h-4zM37 42h8v4h-8zM213 42h4v4h-4zM37 46h8v4h-8zM37 50h8v4h-8zM217 50h4v4h-4zM217 54h4v4h-4zM217 58h4v4h-4zM213 74h4v4h-4zM213 78h4v4h-4zM217 82h4v4h-4zM217 86h4v4h-4zM217 90h4v4h-4zM217 94h4v4h-4zM125 98h4v4h-4zM125 102h4v4h-4zM125 106h4v4h-4zM125 110h4v4h-4zM233 110h4v4h-4zM129 114h4v4h-4zM233 114h4v4h-4zM129 118h4v4h-4zM233 118h8v4h-8zM69 122h4v4h-4zM129 122h4v4h-4zM233 122h8v4h-8zM257 122h4v4h-4zM65 126h8v4h-8zM129 126h4v4h-4zM233 126h8v4h-8zM257 126h8v4h-8zM65 130h4v4h-4zM233 130h8v4h-8zM257 130h8v4h-8zM233 134h8v4h-8zM257 134h4v4h-4zM265 134h4v4h-4zM233 138h8v4h-8zM257 138h4v4h-4zM265 138h4v4h-4zM69 142h4v4h-4zM233 142h8v4h-8zM257 142h4v4h-4zM269 142h4v4h-4zM69 146h4v4h-4zM233 146h8v4h-8zM257 146h4v4h-4zM269 146h4v4h-4zM65 150h8v4h-8zM133 150h4v4h-4zM233 150h8v4h-8zM257 150h4v4h-4zM269 150h4v4h-4zM65 154h4v4h-4zM233 154h12v4h-12zM65 158h4v4h-4zM237 158h8v4h-8zM273 158h4v4h-4zM237 162h8v4h-8zM261 162h4v4h-4zM273 162h4v4h-4zM237 166h4v4h-4zM261 166h4v4h-4zM277 170h4v4h-4zM277 174h4v4h-4zM277 178h4v4h-4zM137 182h4v4h-4zM29 194h4v4h-4zM29 198h4v4h-4zM29 202h4v4h-4zM277 218h4v4h-4zM277 222h4v4h-4zM273 242h4v4h-4zM225 250h4v4h-4zM265 250h8v4h-8zM69 254h8v4h-8zM225 254h4v4h-4zM69 258h8v4h-8zM221 258h4v4h-4zM229 258h4v4h-4zM69 262h8v4h-8zM229 262h4v4h-4zM69 266h8v4h-8zM229 266h4v4h-4zM69 270h8v4h-8zM229 270h4v4h-4zM69 274h4v4h-4zM217 274h4v4h-4zM229 274h4v4h-4zM69 278h4v4h-4zM217 278h4v4h-4zM229 278h4v4h-4zM217 282h4v4h-4zM229 282h4v4h-4zM33 286h4v4h-4zM217 286h4v4h-4zM29 290h4v4h-4zM157 290h4v4h-4zM217 290h4v4h-4zM217 294h12v4h-12zM213 298h12v4h-12zM213 302h4v4h-4zM37 306h4v4h-4zM213 306h4v4h-4zM37 310h4v4h-4zM177 310h4v4h-4zM81 318h4v4h-4zM81 322h4v4h-4zM241 330h8v4h-8zM81 346h4v4h-4zM29 350h4v4h-4zM29 354h4v4h-4zM29 358h4v4h-4z"/>
<path fill="#2c2c2c" d="M37 10h4v4h-4zM33 14h8v4h-8zM33 18h8v4h-8zM33 22h8v4h-8zM37 26h4v4h-4zM37 30h4v4h-4zM37 34h4v4h-4zM37 38h4v4h-4zM121 42h4v4h-4zM213 46h4v4h-4zM213 50h4v4h-4zM213 54h4v4h-4zM213 58h4v4h-4zM213 62h8v4h-8zM213 66h8v4h-8zM213 70h8v4h-8zM217 74h4v4h-4zM217 78h4v4h-4zM69 130h4v4h-4zM129 130h4v4h-4zM65 134h8v4h-8zM261 134h4v4h-4zM65 138h8v4h-8zM261 138h4v4h-4zM65 142h4v4h-4zM261 142h8v4h-8zM65 146h4v4h-4zM261 146h8v4h-8zM261 150h4v4h-4zM133 154h4v4h-4zM261 154h4v4h-4zM269 154h4v4h-4zM261 158h4v4h-4zM269 158h4v4h-4zM273 166h4v4h-4zM273 170h4v4h-4zM265 174h4v4h-4zM265 178h4v4h-4zM265 182h4v4h-4zM277 182h4v4h-4zM137 186h4v4h-4zM265 186h4v4h-4zM277 186h4v4h-4zM265 190h4v4h-4zM277 190h4v4h-4zM265 194h4v4h-4zM277 194h4v4h-4zM265 198h4v4h-4zM277 198h4v4h-4zM277 202h4v4h-4zM277 206h4v4h-4zM277 210h4v4h-4zM277 214h4v4h-4zM273 234h4v4h-4zM141 238h4v4h-4zM273 238h4v4h-4zM265 242h4v4h-4zM265 246h8v4h-8zM225 258h4v4h-4zM145 262h4v4h-4zM221 262h8v4h-8zM221 266h8v4h-8zM225 270h4v4h-4zM225 278h4v4h-4zM153 282h4v4h-4zM225 282h4v4h-4zM221 286h8v4h-8zM33 290h4v4h-4zM221 290h8v4h-8zM29 294h4v4h-4zM37 314h4v4h-4zM37 318h4v4h-4zM37 322h4v4h-4zM37 326h4v4h-4zM81 326h4v4h-4zM213 326h4v4h-4zM37 330h4v4h-4zM81 330h4v4h-4zM233 330h8v4h-8zM37 334h4v4h-4zM81 334h4v4h-4zM281 334h20v4h-20zM37 338h4v4h-4zM81 338h4v4h-4zM37 342h4v4h-4zM81 342h4v4h-4zM29 346h4v4h-4zM37 346h4v4h-4zM37 350h4v4h-4zM37 354h4v4h-4zM37 358h4v4h-4z"/>
<path fill="#2e2e2e" d="M33 10h4v4h-4zM121 34h4v4h-4zM121 46h4v4h-4zM121 50h4v4h-4zM125 114h4v4h-4zM129 134h4v4h-4zM265 150h4v4h-4zM265 154h4v4h-4zM265 158h4v4h-4zM265 162h8v4h-8zM265 166h8v4h-8zM265 170h8v4h-8zM269 174h8v4h-8zM269 178h8v4h-8zM273 182h4v4h-4zM265 202h4v4h-4zM265 206h4v4h-4zM265 210h4v4h-4zM273 230h4v4h-4zM265 238h4v4h-4zM269 242h4v4h-4zM221 270h4v4h-4zM221 274h8v4h-8zM221 278h4v4h-4zM221 282h4v4h-4zM33 294h4v4h-4zM29 298h8v4h-8zM29 302h4v4h-4zM165 302h4v4h-4zM181 314h4v4h-4zM229 330h4v4h-4zM261 334h20v4h-20zM29 338h4v4h-4zM29 342h4v4h-4zM33 354h4v4h-4zM33 358h4v4h-4z"/>
<path fill="#303030" d="M121 54h4v4h-4zM121 62h4v4h-4zM121 66h4v4h-4zM121 70h4v4h-4zM121 74h4v4h-4zM121 78h4v4h-4zM133 158h4v4h-4zM269 182h4v4h-4zM269 186h8v4h-8zM137 190h4v4h-4zM269 190h8v4h-8zM137 194h4v4h-4zM273 194h4v4h-4zM265 214h4v4h-4zM265 218h4v4h-4zM265 222h4v4h-4zM273 222h4v4h-4zM265 226h4v4h-4zM273 226h4v4h-4zM265 230h4v4h-4zM265 234h8v4h-8zM269 238h4v4h-4zM141 242h4v4h-4zM149 274h4v4h-4zM33 302h4v4h-4zM29 306h4v4h-4zM29 310h4v4h-4zM197 322h4v4h-4zM29 326h4v4h-4zM209 326h4v4h-4zM29 330h4v4h-4zM225 330h4v4h-4zM29 334h4v4h-4zM253 334h8v4h-8zM33 346h4v4h-4zM33 350h4v4h-4z"/>
<path fill="#323232" d="M121 30h4v4h-4zM121 58h4v4h-4zM121 82h4v4h-4zM269 194h4v4h-4zM137 198h4v4h-4zM269 198h8v4h-8zM137 202h4v4h-4zM269 202h8v4h-8zM269 206h8v4h-8zM273 210h4v4h-4zM273 214h4v4h-4zM273 218h4v4h-4zM269 226h4v4h-4zM269 230h4v4h-4zM33 306h4v4h-4zM33 310h4v4h-4zM29 314h4v4h-4zM29 318h4v4h-4zM185 318h4v4h-4zM29 322h4v4h-4zM221 330h4v4h-4zM249 334h4v4h-4zM33 338h4v4h-4zM33 342h4v4h-4z"/>
<path fill="#343434" d="M121 86h4v4h-4zM125 118h4v4h-4zM129 138h4v4h-4zM133 162h4v4h-4zM137 206h4v4h-4zM269 210h4v4h-4zM269 214h4v4h-4zM269 218h4v4h-4zM269 222h4v4h-4zM141 246h4v4h-4zM145 266h4v4h-4zM157 294h4v4h-4zM169 306h4v4h-4zM33 314h4v4h-4zM33 318h4v4h-4zM33 322h4v4h-4zM33 326h4v4h-4zM205 326h4v4h-4zM33 330h4v4h-4zM33 334h4v4h-4zM241 334h8v4h-8z"/>
<path fill="#363636" d="M121 26h4v4h-4zM133 166h4v4h-4zM137 210h4v4h-4zM137 214h4v4h-4zM153 286h4v4h-4zM193 322h4v4h-4zM217 330h4v4h-4zM237 334h4v4h-4z"/>
<path fill="#383838" d="M89 38h4v4h-4zM89 42h4v4h-4zM89 46h4v4h-4zM89 50h4v4h-4zM89 54h4v4h-4zM89 58h4v4h-4zM89 86h4v4h-4zM121 90h4v4h-4zM89 174h4v4h-4zM89 178h4v4h-4zM89 182h4v4h-4zM89 186h4v4h-4zM89 190h4v4h-4zM89 194h4v4h-4zM89 198h4v4h-4zM89 202h4v4h-4zM89 206h4v4h-4zM89 210h4v4h-4zM89 214h4v4h-4zM89 218h4v4h-4zM137 218h4v4h-4zM89 222h4v4h-4zM89 226h4v4h-4zM89 230h4v4h-4zM89 234h4v4h-4zM89 238h4v4h-4zM141 250h4v4h-4zM85 290h4v4h-4zM173 310h4v4h-4zM201 326h4v4h-4zM213 330h4v4h-4zM229 334h8v4h-8zM273 338h28v4h-28z"/>
<path fill="#3a3a3a" d="M121 22h4v4h-4zM89 34h4v4h-4zM89 90h4v4h-4zM125 122h4v4h-4zM129 142h4v4h-4zM89 146h4v4h-4zM89 150h4v4h-4zM89 154h4v4h-4zM89 158h4v4h-4zM89 162h4v4h-4zM89 166h4v4h-4zM89 170h4v4h-4zM133 170h4v4h-4zM137 222h4v4h-4zM89 242h4v4h-4zM89 246h4v4h-4zM89 250h4v4h-4zM89 254h4v4h-4zM89 258h4v4h-4zM89 262h4v4h-4zM149 278h4v4h-4zM209 330h4v4h-4zM225 334h4v4h-4zM257 338h16v4h-16z"/>
<path fill="#3c3c3c" d="M121 10h4v4h-4zM121 14h4v4h-4zM121 18h4v4h-4zM89 30h4v4h-4zM89 94h4v4h-4zM121 94h4v4h-4zM89 134h4v4h-4zM89 138h4v4h-4zM89 142h4v4h-4zM137 226h4v4h-4zM141 254h4v4h-4zM89 266h4v4h-4zM85 294h4v4h-4zM177 314h4v4h-4zM221 334h4v4h-4zM245 338h12v4h-12z"/>
<path fill="#3e3e3e" d="M89 10h4v4h-4zM89 26h4v4h-4zM89 98h4v4h-4zM89 102h4v4h-4zM89 122h4v4h-4zM89 126h4v4h-4zM89 130h4v4h-4zM133 174h4v4h-4zM137 230h4v4h-4zM89 270h4v4h-4zM85 298h4v4h-4zM157 298h4v4h-4zM217 334h4v4h-4zM237 338h8v4h-8z"/>
<path fill="#404040" d="M89 14h4v4h-4zM89 18h4v4h-4zM89 22h4v4h-4zM121 98h4v4h-4zM89 106h4v4h-4zM89 114h4v4h-4zM89 118h4v4h-4zM145 270h4v4h-4zM85 302h4v4h-4zM85 306h4v4h-4zM181 318h4v4h-4zM189 322h4v4h-4zM197 326h4v4h-4zM205 330h4v4h-4zM213 334h4v4h-4zM233 338h4v4h-4z"/>
<path fill="#424242" d="M89 110h4v4h-4zM133 178h4v4h-4zM141 258h4v4h-4zM89 274h4v4h-4zM153 290h4v4h-4zM85 310h4v4h-4zM85 314h4v4h-4zM225 338h8v4h-8zM81 350h4v4h-4zM81 354h4v4h-4zM81 358h4v4h-4z"/>
<path fill="#444444" d="M121 102h4v4h-4zM125 126h4v4h-4zM129 146h4v4h-4zM93 158h4v4h-4zM93 162h4v4h-4zM93 166h4v4h-4zM93 170h4v4h-4zM93 174h4v4h-4zM93 178h4v4h-4zM93 182h4v4h-4zM93 186h4v4h-4zM93 190h4v4h-4zM93 194h4v4h-4zM93 198h4v4h-4zM93 202h4v4h-4zM93 206h4v4h-4zM93 210h4v4h-4zM93 214h4v4h-4zM93 218h4v4h-4zM93 222h4v4h-4zM93 226h4v4h-4zM93 230h4v4h-4zM93 234h4v4h-4zM137 234h4v4h-4zM93 238h4v4h-4zM93 242h4v4h-4zM89 278h4v4h-4zM161 302h4v4h-4zM85 318h4v4h-4zM221 338h4v4h-4zM281 342h20v4h-20z"/>
<path fill="#464646" d="M93 146h4v4h-4zM93 150h4v4h-4zM93 154h4v4h-4zM133 182h4v4h-4zM93 246h4v4h-4zM93 250h4v4h-4zM93 254h4v4h-4zM141 262h4v4h-4zM85 322h4v4h-4zM201 330h4v4h-4zM209 334h4v4h-4zM217 338h4v4h-4zM253 342h28v4h-28z"/>
<path fill="#484848" d="M121 106h4v4h-4zM137 238h4v4h-4zM93 258h4v4h-4zM93 262h4v4h-4zM89 282h4v4h-4zM149 282h4v4h-4zM165 306h4v4h-4zM193 326h4v4h-4zM213 338h4v4h-4zM237 342h16v4h-16z"/>
<path fill="#4a4a4a" d="M93 142h4v4h-4zM129 150h4v4h-4zM133 186h4v4h-4zM93 266h4v4h-4zM89 286h4v4h-4zM85 326h4v4h-4zM229 342h8v4h-8z"/>
<path fill="#4c4c4c" d="M93 10h4v4h-4zM117 10h4v4h-4zM117 14h4v4h-4zM93 138h4v4h-4zM145 274h4v4h-4zM169 310h4v4h-4zM185 322h4v4h-4zM85 330h4v4h-4zM205 334h4v4h-4zM225 342h4v4h-4z"/>
<path fill="#4e4e4e" d="M93 14h4v4h-4zM93 18h4v4h-4zM117 18h4v4h-4zM125 130h4v4h-4zM129 154h4v4h-4zM133 190h4v4h-4zM137 242h4v4h-4zM93 270h4v4h-4zM89 290h4v4h-4zM153 294h4v4h-4zM197 330h4v4h-4zM209 338h4v4h-4zM217 342h8v4h-8z"/>
<path fill="#505050" d="M121 110h4v4h-4zM93 134h4v4h-4zM133 194h4v4h-4zM133 198h4v4h-4zM173 314h4v4h-4zM85 334h4v4h-4z"/>
<path fill="#525252" d="M93 22h4v4h-4zM117 22h4v4h-4zM117 38h4v4h-4zM133 202h4v4h-4zM137 246h4v4h-4zM141 266h4v4h-4zM93 274h4v4h-4zM89 294h4v4h-4zM177 318h4v4h-4zM189 326h4v4h-4zM201 334h4v4h-4zM85 338h4v4h-4zM213 342h4v4h-4z"/>
<path fill="#545454" d="M93 26h4v4h-4zM117 26h4v4h-4zM117 30h4v4h-4zM117 34h4v4h-4zM93 130h4v4h-4zM129 158h4v4h-4zM133 206h4v4h-4zM149 286h4v4h-4zM205 338h4v4h-4zM241 346h60v4h-60z"/>
<path fill="#565656" d="M97 10h4v4h-4zM93 30h4v4h-4zM117 42h4v4h-4zM93 126h4v4h-4zM125 134h4v4h-4zM133 210h4v4h-4zM93 278h4v4h-4zM89 298h4v4h-4zM193 330h4v4h-4zM85 342h4v4h-4zM209 342h4v4h-4zM221 346h20v4h-20z"/>
<path fill="#585858" d="M113 10h4v4h-4zM97 14h4v4h-4zM97 18h4v4h-4zM93 34h4v4h-4zM93 38h4v4h-4zM93 42h4v4h-4zM93 46h4v4h-4zM93 70h4v4h-4zM93 74h4v4h-4zM93 78h4v4h-4zM129 162h4v4h-4zM133 214h4v4h-4zM137 250h4v4h-4zM145 278h4v4h-4zM89 302h4v4h-4zM89 306h4v4h-4zM181 322h4v4h-4zM197 334h4v4h-4zM201 338h4v4h-4zM85 346h4v4h-4zM217 346h4v4h-4z"/>
<path fill="#5a5a5a" d="M113 14h4v4h-4zM113 18h4v4h-4zM117 46h4v4h-4zM93 50h4v4h-4zM93 54h4v4h-4zM93 58h4v4h-4zM93 62h4v4h-4zM93 66h4v4h-4zM93 82h4v4h-4zM93 122h4v4h-4zM133 218h4v4h-4zM133 222h4v4h-4zM153 298h4v4h-4zM89 310h4v4h-4zM185 326h4v4h-4zM205 342h4v4h-4zM213 346h4v4h-4zM85 350h4v4h-4zM85 354h4v4h-4zM85 358h4v4h-4z"/>
<path fill="#5c5c5c" d="M101 10h12v4h-12zM117 50h4v4h-4zM93 86h4v4h-4zM121 114h4v4h-4zM129 166h4v4h-4zM133 226h4v4h-4zM137 254h4v4h-4zM93 282h4v4h-4zM89 314h4v4h-4zM89 318h4v4h-4zM189 330h4v4h-4zM221 350h80v4h-80z"/>
<path fill="#5e5e5e" d="M101 14h12v4h-12zM97 22h4v4h-4zM117 78h4v4h-4zM93 90h4v4h-4zM93 118h4v4h-4zM141 270h4v4h-4zM157 302h4v4h-4zM193 334h4v4h-4zM197 338h4v4h-4zM201 342h4v4h-4zM209 346h4v4h-4zM217 350h4v4h-4zM221 354h80v4h-80z"/>
<path fill="#606060" d="M101 18h12v4h-12zM117 54h4v4h-4zM117 70h4v4h-4zM117 74h4v4h-4zM93 94h4v4h-4zM125 138h4v4h-4zM129 170h4v4h-4zM133 230h4v4h-4zM137 258h4v4h-4zM93 286h4v4h-4zM149 290h4v4h-4zM161 306h4v4h-4zM89 322h4v4h-4zM205 346h4v4h-4zM213 350h4v4h-4zM217 354h4v4h-4zM221 358h80v4h-80z"/>
<path fill="#626262" d="M113 22h4v4h-4zM117 62h4v4h-4zM117 66h4v4h-4zM93 98h4v4h-4zM93 114h4v4h-4zM129 174h4v4h-4zM165 310h4v4h-4zM89 326h4v4h-4zM209 350h4v4h-4zM213 354h4v4h-4zM217 358h4v4h-4z"/>
<path fill="#646464" d="M97 26h4v4h-4zM117 58h4v4h-4zM117 82h4v4h-4zM93 102h4v4h-4zM97 198h4v4h-4zM97 202h4v4h-4zM97 206h4v4h-4zM97 210h4v4h-4zM97 214h4v4h-4zM97 218h4v4h-4zM97 222h4v4h-4zM97 226h4v4h-4zM133 234h4v4h-4zM145 282h4v4h-4zM93 290h4v4h-4zM169 314h4v4h-4zM173 318h4v4h-4zM177 322h4v4h-4zM181 326h4v4h-4zM89 330h4v4h-4zM185 330h4v4h-4zM189 334h4v4h-4zM193 338h4v4h-4zM197 342h4v4h-4zM201 346h4v4h-4zM205 350h4v4h-4zM209 354h4v4h-4zM213 358h4v4h-4z"/>
<path fill="#666666" d="M93 110h4v4h-4zM121 118h4v4h-4zM129 178h4v4h-4zM97 186h4v4h-4zM97 190h4v4h-4zM97 194h4v4h-4zM97 230h4v4h-4zM97 234h4v4h-4zM97 238h4v4h-4zM137 262h4v4h-4zM205 354h4v4h-4zM209 358h4v4h-4z"/>
<path fill="#686868" d="M117 86h4v4h-4zM93 106h4v4h-4zM125 142h4v4h-4zM97 182h4v4h-4zM97 242h4v4h-4zM97 246h4v4h-4zM89 334h4v4h-4zM189 338h4v4h-4zM193 342h4v4h-4zM197 346h4v4h-4zM201 350h4v4h-4zM201 354h4v4h-4zM205 358h4v4h-4z"/>
<path fill="#6a6a6a" d="M101 22h12v4h-12zM113 26h4v4h-4zM97 30h4v4h-4zM97 178h4v4h-4zM129 182h4v4h-4zM133 238h4v4h-4zM97 250h4v4h-4zM97 254h4v4h-4zM141 274h4v4h-4zM93 294h4v4h-4zM185 334h4v4h-4zM89 338h4v4h-4zM193 346h4v4h-4zM197 350h4v4h-4zM197 354h4v4h-4zM201 358h4v4h-4z"/>
<path fill="#6c6c6c" d="M129 186h4v4h-4zM97 258h4v4h-4zM97 262h4v4h-4zM149 294h4v4h-4zM181 330h4v4h-4zM189 342h4v4h-4zM193 350h4v4h-4zM193 354h4v4h-4zM197 358h4v4h-4z"/>
<path fill="#6e6e6e" d="M117 90h4v4h-4zM121 122h4v4h-4zM125 146h4v4h-4zM97 174h4v4h-4zM129 190h4v4h-4zM133 242h4v4h-4zM93 298h4v4h-4zM177 326h4v4h-4zM185 338h4v4h-4zM89 342h4v4h-4zM189 346h4v4h-4zM189 350h4v4h-4zM189 354h4v4h-4zM193 358h4v4h-4z"/>
<path fill="#707070" d="M97 34h4v4h-4zM97 170h4v4h-4zM129 194h4v4h-4zM97 266h4v4h-4zM137 266h4v4h-4zM145 286h4v4h-4zM93 302h4v4h-4zM93 306h4v4h-4zM173 322h4v4h-4zM181 334h4v4h-4zM185 342h4v4h-4zM185 346h4v4h-4zM189 358h4v4h-4z"/>
<path fill="#727272" d="M101 26h12v4h-12zM113 30h4v4h-4zM97 166h4v4h-4zM129 198h4v4h-4zM93 310h4v4h-4zM89 346h4v4h-4zM89 350h4v4h-4zM185 350h4v4h-4zM89 354h4v4h-4zM185 354h4v4h-4zM89 358h4v4h-4zM185 358h4v4h-4z"/>
<path fill="#747474" d="M97 38h4v4h-4zM117 94h4v4h-4zM125 150h4v4h-4zM97 162h4v4h-4zM129 202h4v4h-4zM133 246h4v4h-4zM93 314h4v4h-4zM93 318h4v4h-4zM177 330h4v4h-4zM181 338h4v4h-4zM181 350h4v4h-4zM181 354h4v4h-4zM181 358h4v4h-4z"/>
<path fill="#767676" d="M97 158h4v4h-4zM129 206h4v4h-4zM97 270h4v4h-4zM141 278h4v4h-4zM149 298h4v4h-4zM181 342h4v4h-4zM181 346h4v4h-4z"/>
<path fill="#787878" d="M113 34h4v4h-4zM97 42h4v4h-4zM121 126h4v4h-4zM97 154h4v4h-4zM125 154h4v4h-4zM129 210h4v4h-4zM133 250h4v4h-4zM153 302h4v4h-4zM157 306h4v4h-4zM161 310h4v4h-4zM165 314h4v4h-4zM93 322h4v4h-4z"/>
<path fill="#7a7a7a" d="M101 30h4v4h-4zM97 46h4v4h-4zM117 98h4v4h-4zM97 150h4v4h-4zM129 214h4v4h-4zM169 318h4v4h-4zM93 326h4v4h-4zM177 350h4v4h-4zM177 354h4v4h-4zM177 358h4v4h-4z"/>
<path fill="#7c7c7c" d="M105 30h8v4h-8zM97 146h4v4h-4zM125 158h4v4h-4zM97 274h4v4h-4zM145 290h4v4h-4zM173 326h4v4h-4zM93 330h4v4h-4zM177 334h4v4h-4zM177 346h4v4h-4z"/>
<path fill="#7e7e7e" d="M97 50h4v4h-4zM129 218h4v4h-4zM133 254h4v4h-4zM137 270h4v4h-4zM177 338h4v4h-4zM177 342h4v4h-4z"/>
<path fill="#818181" d="M113 38h4v4h-4zM97 54h4v4h-4zM117 102h4v4h-4zM121 130h4v4h-4zM97 142h4v4h-4zM125 162h4v4h-4zM129 222h4v4h-4zM97 278h4v4h-4zM93 334h4v4h-4zM173 350h4v4h-4zM173 354h4v4h-4zM173 358h4v4h-4z"/>
<path fill="#838383" d="M101 34h4v4h-4zM97 58h4v4h-4zM97 62h4v4h-4zM97 78h4v4h-4zM129 226h4v4h-4zM133 258h4v4h-4zM93 338h4v4h-4zM173 346h4v4h-4z"/>
<path fill="#858585" d="M113 42h4v4h-4zM97 66h4v4h-4zM97 70h4v4h-4zM97 74h4v4h-4zM97 138h4v4h-4zM125 166h4v4h-4zM97 282h4v4h-4zM141 282h4v4h-4zM93 342h4v4h-4zM93 346h4v4h-4z"/>
<path fill="#878787" d="M105 34h8v4h-8zM97 82h4v4h-4zM125 170h4v4h-4zM129 230h4v4h-4zM169 322h4v4h-4zM173 330h4v4h-4zM173 342h4v4h-4zM93 350h4v4h-4zM169 350h4v4h-4zM93 354h4v4h-4zM169 354h4v4h-4zM93 358h4v4h-4zM169 358h4v4h-4z"/>
<path fill="#898989" d="M117 106h4v4h-4zM97 134h4v4h-4zM121 134h4v4h-4zM133 262h4v4h-4zM97 286h4v4h-4zM145 294h4v4h-4zM169 346h4v4h-4z"/>
<path fill="#8b8b8b" d="M101 38h4v4h-4zM113 46h4v4h-4zM97 86h4v4h-4zM125 174h4v4h-4zM129 234h4v4h-4zM137 274h4v4h-4zM173 338h4v4h-4zM165 350h4v4h-4zM165 354h4v4h-4zM165 358h4v4h-4z"/>
<path fill="#8d8d8d" d="M97 130h4v4h-4zM97 290h4v4h-4zM173 334h4v4h-4z"/>
<path fill="#8f8f8f" d="M105 38h8v4h-8zM101 42h4v4h-4zM113 50h4v4h-4zM97 90h4v4h-4zM121 138h4v4h-4zM125 178h4v4h-4zM169 342h4v4h-4zM165 346h4v4h-4z"/>
<path fill="#919191" d="M97 94h4v4h-4zM117 110h4v4h-4zM97 126h4v4h-4zM129 238h4v4h-4zM141 286h4v4h-4zM97 294h4v4h-4zM169 326h4v4h-4zM161 350h4v4h-4zM161 354h4v4h-4zM161 358h4v4h-4z"/>
<path fill="#939393" d="M97 122h4v4h-4zM125 182h4v4h-4zM97 346h4v4h-4zM97 350h4v4h-4zM97 354h4v4h-4zM97 358h4v4h-4z"/>
<path fill="#959595" d="M105 42h8v4h-8zM101 46h4v4h-4zM113 54h4v4h-4zM97 98h4v4h-4zM121 142h4v4h-4zM133 266h4v4h-4zM97 298h4v4h-4zM145 298h4v4h-4zM97 302h4v4h-4zM149 302h4v4h-4zM153 306h4v4h-4zM157 310h4v4h-4zM161 314h4v4h-4zM165 318h4v4h-4zM169 338h4v4h-4zM161 346h4v4h-4z"/>
<path fill="#979797" d="M97 118h4v4h-4zM125 186h4v4h-4zM129 242h4v4h-4zM97 306h4v4h-4zM97 310h4v4h-4zM97 314h4v4h-4zM97 322h4v4h-4zM97 326h4v4h-4zM97 330h4v4h-4zM97 334h4v4h-4zM97 338h4v4h-4zM97 342h4v4h-4zM165 342h4v4h-4zM157 350h4v4h-4zM157 354h4v4h-4zM157 358h4v4h-4z"/>
<path fill="#999999" d="M105 46h8v4h-8zM101 50h4v4h-4zM113 58h4v4h-4zM97 102h4v4h-4zM97 114h4v4h-4zM117 114h4v4h-4zM137 278h4v4h-4zM97 318h4v4h-4zM169 330h4v4h-4z"/>
<path fill="#9b9b9b" d="M113 62h4v4h-4zM97 106h4v4h-4zM97 110h4v4h-4zM121 146h4v4h-4zM125 190h4v4h-4zM129 246h4v4h-4zM141 290h4v4h-4zM169 334h4v4h-4zM157 346h4v4h-4zM153 350h4v4h-4zM153 354h4v4h-4zM153 358h4v4h-4z"/>
<path fill="#9d9d9d" d="M113 66h4v4h-4zM125 194h4v4h-4z"/>
<path fill="#9f9f9f" d="M105 50h8v4h-8zM101 54h4v4h-4zM113 70h4v4h-4zM121 150h4v4h-4zM125 198h4v4h-4zM165 322h4v4h-4zM165 338h4v4h-4zM161 342h4v4h-4zM101 350h4v4h-4zM101 354h4v4h-4zM101 358h4v4h-4z"/>
<path fill="#a1a1a1" d="M113 74h4v4h-4zM113 78h4v4h-4zM117 118h4v4h-4zM125 202h4v4h-4zM129 250h4v4h-4zM133 270h4v4h-4zM101 346h4v4h-4zM153 346h4v4h-4zM105 350h4v4h-4zM149 350h4v4h-4zM105 354h4v4h-4zM149 354h4v4h-4zM105 358h4v4h-4zM149 358h4v4h-4z"/>
<path fill="#a3a3a3" d="M105 54h8v4h-8zM101 58h4v4h-4zM121 154h4v4h-4zM125 206h4v4h-4zM137 282h4v4h-4zM109 350h4v4h-4zM109 354h4v4h-4zM109 358h4v4h-4z"/>
<path fill="#a5a5a5" d="M125 210h4v4h-4zM129 254h4v4h-4zM105 346h4v4h-4zM113 350h4v4h-4zM113 354h4v4h-4zM113 358h4v4h-4z"/>
<path fill="#a7a7a7" d="M101 62h4v4h-4zM113 82h4v4h-4zM121 158h4v4h-4zM125 214h4v4h-4zM141 294h4v4h-4zM165 326h4v4h-4zM101 342h4v4h-4zM157 342h4v4h-4zM145 350h4v4h-4zM145 354h4v4h-4zM145 358h4v4h-4z"/>
<path fill="#a9a9a9" d="M105 58h8v4h-8zM117 122h4v4h-4zM125 218h4v4h-4zM129 258h4v4h-4zM109 346h4v4h-4zM149 346h4v4h-4zM117 350h28v4h-28zM117 354h28v4h-28zM117 358h28v4h-28z"/>
<path fill="#ababab" d="M121 162h4v4h-4zM125 222h4v4h-4zM165 330h4v4h-4zM165 334h4v4h-4zM101 338h4v4h-4zM161 338h4v4h-4z"/>
<path fill="#adadad" d="M105 62h8v4h-8zM101 66h4v4h-4zM113 86h4v4h-4zM125 226h4v4h-4zM129 262h4v4h-4zM133 274h4v4h-4zM101 334h4v4h-4zM113 346h4v4h-4z"/>
<path fill="#afafaf" d="M117 126h4v4h-4zM121 166h4v4h-4zM137 286h4v4h-4zM101 330h4v4h-4zM105 342h4v4h-4z"/>
<path fill="#b1b1b1" d="M105 66h8v4h-8zM101 70h4v4h-4zM125 230h4v4h-4zM141 298h4v4h-4zM145 302h4v4h-4zM149 306h4v4h-4zM153 310h4v4h-4zM157 314h4v4h-4zM161 318h4v4h-4zM117 346h4v4h-4zM137 346h12v4h-12z"/>
<path fill="#b3b3b3" d="M121 170h4v4h-4zM121 174h4v4h-4zM125 234h4v4h-4zM101 326h4v4h-4zM153 342h4v4h-4zM121 346h16v4h-16z"/>
<path fill="#b5b5b5" d="M101 74h4v4h-4zM113 90h4v4h-4zM117 130h4v4h-4zM121 178h4v4h-4zM125 238h4v4h-4zM105 338h4v4h-4zM109 342h4v4h-4z"/>
<path fill="#b7b7b7" d="M105 70h8v4h-8zM113 94h4v4h-4zM117 134h4v4h-4zM117 138h4v4h-4zM121 182h4v4h-4zM121 186h4v4h-4zM129 266h4v4h-4zM133 278h4v4h-4zM101 322h4v4h-4zM161 322h4v4h-4zM157 338h4v4h-4z"/>
<path fill="#b9b9b9" d="M101 78h4v4h-4zM113 98h4v4h-4zM117 142h4v4h-4zM117 146h4v4h-4zM121 190h4v4h-4zM121 194h4v4h-4zM121 198h4v4h-4zM125 242h4v4h-4zM137 290h4v4h-4zM161 326h4v4h-4zM105 334h4v4h-4zM161 334h4v4h-4zM113 342h4v4h-4z"/>
<path fill="#bbbbbb" d="M105 74h8v4h-8zM101 82h4v4h-4zM117 150h4v4h-4zM121 202h4v4h-4zM121 206h4v4h-4zM121 210h4v4h-4zM125 246h4v4h-4zM161 330h4v4h-4zM109 338h4v4h-4z"/>
<path fill="#bdbdbd" d="M101 86h4v4h-4zM113 102h4v4h-4zM117 154h4v4h-4zM117 158h4v4h-4zM121 214h4v4h-4zM121 218h4v4h-4zM121 222h4v4h-4zM125 250h4v4h-4zM101 294h4v4h-4zM101 298h4v4h-4zM101 302h4v4h-4zM101 306h4v4h-4zM101 310h4v4h-4zM101 314h4v4h-4zM101 318h4v4h-4zM105 330h4v4h-4zM117 342h4v4h-4zM149 342h4v4h-4z"/>
<path fill="#bfbfbf" d="M105 78h8v4h-8zM101 90h4v4h-4zM113 106h4v4h-4zM117 162h4v4h-4zM117 166h4v4h-4zM101 170h4v4h-4zM101 174h4v4h-4zM101 178h4v4h-4zM101 182h4v4h-4zM101 186h4v4h-4zM101 190h4v4h-4zM101 194h4v4h-4zM101 198h4v4h-4zM101 202h4v4h-4zM101 206h4v4h-4zM101 210h4v4h-4zM101 214h4v4h-4zM121 226h4v4h-4zM129 270h4v4h-4zM101 282h4v4h-4zM101 286h4v4h-4zM101 290h4v4h-4zM105 326h4v4h-4zM109 334h4v4h-4zM113 338h4v4h-4z"/>
<path fill="#c1c1c1" d="M105 82h8v4h-8zM105 86h8v4h-8zM101 94h4v4h-4zM113 110h4v4h-4zM101 150h4v4h-4zM101 154h4v4h-4zM101 158h4v4h-4zM101 162h4v4h-4zM101 166h4v4h-4zM117 170h4v4h-4zM117 174h4v4h-4zM101 218h4v4h-4zM101 222h4v4h-4zM101 226h4v4h-4zM101 230h4v4h-4zM121 230h4v4h-4zM125 254h4v4h-4zM101 274h4v4h-4zM101 278h4v4h-4zM133 282h4v4h-4z"/>
<path fill="#c3c3c3" d="M105 90h8v4h-8zM105 94h8v4h-8zM101 98h4v4h-4zM113 114h4v4h-4zM101 134h16v4h-16zM101 138h16v4h-16zM101 142h16v4h-16zM101 146h16v4h-16zM105 150h12v4h-12zM105 154h12v4h-12zM105 158h12v4h-12zM105 162h12v4h-12zM105 166h12v4h-12zM105 170h12v4h-12zM105 174h12v4h-12zM105 178h16v4h-16zM105 182h16v4h-16zM105 186h16v4h-16zM105 190h16v4h-16zM105 194h16v4h-16zM101 234h4v4h-4zM121 234h4v4h-4zM101 238h4v4h-4zM101 242h4v4h-4zM101 246h4v4h-4zM101 250h4v4h-4zM101 266h4v4h-4zM101 270h4v4h-4zM137 294h4v4h-4zM105 322h4v4h-4zM109 330h4v4h-4zM153 338h4v4h-4zM121 342h4v4h-4zM141 342h8v4h-8z"/>
<path fill="#c5c5c5" d="M105 98h8v4h-8zM101 102h12v4h-12zM101 118h16v4h-16zM101 122h16v4h-16zM101 126h16v4h-16zM101 130h16v4h-16zM105 198h16v4h-16zM105 202h16v4h-16zM101 254h4v4h-4zM101 258h4v4h-4zM125 258h4v4h-4zM101 262h4v4h-4zM113 334h4v4h-4zM117 338h4v4h-4zM133 342h8v4h-8z"/>
<path fill="#c7c7c7" d="M101 106h12v4h-12zM101 110h12v4h-12zM101 114h12v4h-12zM105 206h16v4h-16zM105 210h16v4h-16zM121 238h4v4h-4zM105 318h4v4h-4zM157 318h4v4h-4zM109 326h4v4h-4zM157 334h4v4h-4zM125 342h8v4h-8z"/>
<path fill="#c9c9c9" d="M105 214h16v4h-16zM105 218h16v4h-16zM125 262h4v4h-4zM129 274h4v4h-4zM149 310h4v4h-4zM105 314h4v4h-4zM153 314h4v4h-4zM157 322h4v4h-4zM113 330h4v4h-4zM117 334h4v4h-4zM121 338h4v4h-4z"/>
<path fill="#cbcbcb" d="M105 222h16v4h-16zM105 226h16v4h-16zM121 242h4v4h-4zM133 286h4v4h-4zM145 306h4v4h-4zM105 310h4v4h-4zM157 326h4v4h-4zM157 330h4v4h-4z"/>
<path fill="#cdcdcd" d="M105 230h16v4h-16zM137 298h4v4h-4zM141 302h4v4h-4zM105 306h4v4h-4zM109 322h4v4h-4z"/>
<path fill="#cfcfcf" d="M121 246h4v4h-4zM105 302h4v4h-4zM113 326h4v4h-4zM117 330h4v4h-4zM121 334h4v4h-4zM125 338h4v4h-4zM149 338h4v4h-4z"/>
<path fill="#d1d1d1" d="M105 234h16v4h-16zM125 266h4v4h-4zM137 338h12v4h-12z"/>
<path fill="#d3d3d3" d="M105 238h4v4h-4zM121 250h4v4h-4zM129 278h4v4h-4zM105 294h4v4h-4zM105 298h4v4h-4zM109 318h4v4h-4zM153 334h4v4h-4zM129 338h8v4h-8z"/>
<path fill="#d5d5d5" d="M109 238h12v4h-12zM105 290h4v4h-4zM133 290h4v4h-4zM109 314h4v4h-4zM113 322h4v4h-4zM121 330h4v4h-4zM125 334h4v4h-4z"/>
<path fill="#d7d7d7" d="M105 242h4v4h-4zM105 286h4v4h-4zM109 310h4v4h-4zM117 326h4v4h-4z"/>
<path fill="#d9d9d9" d="M109 242h12v4h-12zM105 246h4v4h-4zM121 254h4v4h-4zM105 278h4v4h-4zM105 282h4v4h-4zM153 330h4v4h-4zM129 334h4v4h-4z"/>
<path fill="#dbdbdb" d="M109 246h12v4h-12zM105 250h4v4h-4zM125 270h4v4h-4zM109 306h4v4h-4zM153 318h4v4h-4zM153 322h4v4h-4zM153 326h4v4h-4zM125 330h4v4h-4zM133 334h20v4h-20z"/>
<path fill="#dddddd" d="M121 258h4v4h-4zM105 274h4v4h-4zM129 282h4v4h-4zM149 314h4v4h-4zM113 318h4v4h-4zM121 326h4v4h-4z"/>
<path fill="#dfdfdf" d="M109 250h12v4h-12zM105 254h4v4h-4zM105 270h4v4h-4zM117 322h4v4h-4z"/>
<path fill="#e1e1e1" d="M105 258h4v4h-4zM105 266h4v4h-4zM133 294h4v4h-4zM109 302h4v4h-4zM145 310h4v4h-4zM113 314h4v4h-4zM133 330h20v4h-20z"/>
<path fill="#e3e3e3" d="M109 254h12v4h-12zM105 262h4v4h-4zM121 262h4v4h-4zM141 306h4v4h-4zM129 330h4v4h-4z"/>
<path fill="#e5e5e5" d="M125 274h4v4h-4zM113 310h4v4h-4zM125 326h4v4h-4z"/>
<path fill="#e7e7e7" d="M109 258h12v4h-12zM129 286h4v4h-4zM109 298h4v4h-4zM137 302h4v4h-4zM117 318h4v4h-4zM121 322h4v4h-4zM129 326h24v4h-24z"/>
<path fill="#e9e9e9" d="M109 262h12v4h-12zM109 294h4v4h-4z"/>
<path fill="#ebebeb" d="M109 266h16v4h-16zM109 290h4v4h-4zM133 298h4v4h-4zM113 306h4v4h-4zM137 322h16v4h-16z"/>
<path fill="#ededed" d="M109 270h16v4h-16zM109 274h16v4h-16zM109 278h20v4h-20zM117 314h4v4h-4zM125 322h12v4h-12z"/>
<path fill="#efefef" d="M109 282h20v4h-20zM109 286h20v4h-20zM149 318h4v4h-4z"/>
<path fill="#f1f1f1" d="M113 290h20v4h-20zM113 294h20v4h-20zM129 302h8v4h-8zM125 306h16v4h-16zM125 310h20v4h-20zM125 314h24v4h-24zM125 318h24v4h-24z"/>
<path fill="#f3f3f3" d="M113 298h20v4h-20zM113 302h16v4h-16zM117 306h8v4h-8zM117 310h8v4h-8zM121 314h4v4h-4zM121 318h4v4h-4z"/></g></g>
<line x1="100.3" y1="18.4" x2="100.3" y2="352.3" stroke="#000" stroke-width="1.8" opacity="0.25"/>
<g stroke="#33400c" stroke-width="0.9" fill="none" opacity="0.65"><path d="M37.5 334.4h3M290.5 334.4h-3"/><path d="M37.5 305.6h3M290.5 305.6h-3"/><path d="M37.5 276.9h3M290.5 276.9h-3"/><path d="M37.5 248.1h3M290.5 248.1h-3"/><path d="M37.5 219.4h3M290.5 219.4h-3"/><path d="M37.5 190.6h3M290.5 190.6h-3"/><path d="M37.5 161.8h3M290.5 161.8h-3"/><path d="M37.5 133.1h3M290.5 133.1h-3"/><path d="M37.5 104.3h3M290.5 104.3h-3"/><path d="M37.5 75.6h3M290.5 75.6h-3"/><path d="M37.5 46.8h3M290.5 46.8h-3"/><path d="M37.5 18.0h3M290.5 18.0h-3"/><path d="M36.9 352.3v-3M36.9 18.4v3"/><path d="M100.3 352.3v-3M100.3 18.4v3"/><path d="M163.7 352.3v-3M163.7 18.4v3"/><path d="M227.1 352.3v-3M227.1 18.4v3"/><rect x="37.5" y="18.4" width="253.0" height="333.9"/></g>
<g clip-path="url(#clipB)"><g filter="url(#cmB)" shape-rendering="crispEdges"><path fill="#121212" d="M359 10h4v4h-4zM595 46h4v4h-4zM595 50h4v4h-4zM595 54h4v4h-4zM595 58h4v4h-4zM595 62h4v4h-4zM595 66h4v4h-4zM547 150h4v4h-4zM547 154h4v4h-4zM463 270h4v4h-4zM359 350h4v4h-4zM359 354h4v4h-4zM359 358h4v4h-4z"/>
<path fill="#141414" d="M359 14h4v4h-4zM359 18h4v4h-4zM595 38h8v4h-8zM595 42h8v4h-8zM599 46h4v4h-4zM591 50h4v4h-4zM599 50h4v4h-4zM591 54h4v4h-4zM599 54h4v4h-4zM591 58h4v4h-4zM599 58h4v4h-4zM591 62h4v4h-4zM599 62h4v4h-4zM599 66h4v4h-4zM595 70h4v4h-4zM595 74h4v4h-4zM543 142h8v4h-8zM543 146h12v4h-12zM543 150h4v4h-4zM551 150h4v4h-4zM543 154h4v4h-4zM551 154h4v4h-4zM543 158h12v4h-12zM543 162h12v4h-12zM547 166h8v4h-8zM463 262h4v4h-4zM463 266h4v4h-4zM467 270h4v4h-4zM467 274h4v4h-4zM611 302h4v4h-4zM611 306h4v4h-4zM359 342h4v4h-4zM359 346h4v4h-4z"/>
<path fill="#161616" d="M355 10h4v4h-4zM363 10h4v4h-4zM355 14h4v4h-4zM363 14h4v4h-4zM355 18h4v4h-4zM363 18h4v4h-4zM359 22h8v4h-8zM359 26h4v4h-4zM599 26h4v4h-4zM595 30h8v4h-8zM595 34h8v4h-8zM591 38h4v4h-4zM591 42h4v4h-4zM591 46h4v4h-4zM591 66h4v4h-4zM591 70h4v4h-4zM599 70h4v4h-4zM599 74h4v4h-4zM595 78h4v4h-4zM595 82h4v4h-4zM543 134h8v4h-8zM543 138h12v4h-12zM539 142h4v4h-4zM551 142h4v4h-4zM539 146h4v4h-4zM539 150h4v4h-4zM555 150h4v4h-4zM539 154h4v4h-4zM555 154h4v4h-4zM539 158h4v4h-4zM555 158h4v4h-4zM539 162h4v4h-4zM555 162h4v4h-4zM543 166h4v4h-4zM555 166h4v4h-4zM543 170h16v4h-16zM547 174h12v4h-12zM555 178h4v4h-4zM383 190h4v4h-4zM383 194h4v4h-4zM383 198h4v4h-4zM383 202h4v4h-4zM383 206h4v4h-4zM383 210h4v4h-4zM383 214h4v4h-4zM463 258h4v4h-4zM467 262h4v4h-4zM467 266h8v4h-8zM471 270h4v4h-4zM471 274h4v4h-4zM467 278h8v4h-8zM607 278h4v4h-4zM471 282h4v4h-4zM607 282h4v4h-4zM607 286h4v4h-4zM607 290h4v4h-4zM607 294h8v4h-8zM607 298h8v4h-8zM607 302h4v4h-4zM607 306h4v4h-4zM607 310h12v4h-12zM359 334h4v4h-4zM359 338h8v4h-8zM363 342h4v4h-4zM355 346h4v4h-4zM363 346h4v4h-4zM355 350h4v4h-4zM363 350h4v4h-4zM355 354h4v4h-4zM363 354h4v4h-4zM355 358h4v4h-4zM363 358h4v4h-4z"/>
<path fill="#181818" d="M515 10h4v4h-4zM595 18h8v4h-8zM355 22h4v4h-4zM595 22h8v4h-8zM355 26h4v4h-4zM363 26h4v4h-4zM595 26h4v4h-4zM355 30h12v4h-12zM551 30h4v4h-4zM591 30h4v4h-4zM603 30h4v4h-4zM359 34h8v4h-8zM591 34h4v4h-4zM603 34h4v4h-4zM587 38h4v4h-4zM603 38h4v4h-4zM587 42h4v4h-4zM603 42h4v4h-4zM587 46h4v4h-4zM587 50h4v4h-4zM587 54h4v4h-4zM587 58h4v4h-4zM511 62h4v4h-4zM511 66h8v4h-8zM511 70h8v4h-8zM511 74h8v4h-8zM591 74h4v4h-4zM511 78h8v4h-8zM591 78h4v4h-4zM599 78h4v4h-4zM511 82h8v4h-8zM511 86h4v4h-4zM595 86h4v4h-4zM379 98h4v4h-4zM379 102h4v4h-4zM379 106h4v4h-4zM379 110h4v4h-4zM379 114h8v4h-8zM379 118h8v4h-8zM379 122h8v4h-8zM379 126h8v4h-8zM379 130h4v4h-4zM539 130h16v4h-16zM539 134h4v4h-4zM551 134h4v4h-4zM539 138h4v4h-4zM555 138h4v4h-4zM555 142h4v4h-4zM555 146h4v4h-4zM539 166h4v4h-4zM539 170h4v4h-4zM539 174h8v4h-8zM383 178h4v4h-4zM547 178h8v4h-8zM383 182h4v4h-4zM551 182h8v4h-8zM383 186h4v4h-4zM555 186h4v4h-4zM555 190h8v4h-8zM555 194h8v4h-8zM379 198h4v4h-4zM387 198h4v4h-4zM555 198h8v4h-8zM379 202h4v4h-4zM387 202h4v4h-4zM559 202h4v4h-4zM379 206h4v4h-4zM387 206h8v4h-8zM559 206h4v4h-4zM379 210h4v4h-4zM387 210h8v4h-8zM379 214h4v4h-4zM387 214h8v4h-8zM379 218h16v4h-16zM379 222h20v4h-20zM391 226h8v4h-8zM391 230h4v4h-4zM391 234h4v4h-4zM475 246h8v4h-8zM463 250h4v4h-4zM471 250h12v4h-12zM463 254h20v4h-20zM459 258h4v4h-4zM467 258h16v4h-16zM471 262h12v4h-12zM475 266h8v4h-8zM603 266h8v4h-8zM475 270h8v4h-8zM603 270h8v4h-8zM463 274h4v4h-4zM475 274h4v4h-4zM603 274h8v4h-8zM475 278h4v4h-4zM603 278h4v4h-4zM467 282h4v4h-4zM475 282h4v4h-4zM603 282h4v4h-4zM471 286h4v4h-4zM603 286h4v4h-4zM603 290h4v4h-4zM611 290h4v4h-4zM603 294h4v4h-4zM615 306h4v4h-4zM359 326h8v4h-8zM359 330h8v4h-8zM363 334h4v4h-4zM355 338h4v4h-4zM355 342h4v4h-4z"/>
<path fill="#1a1a1a" d="M367 10h4v4h-4zM443 10h4v4h-4zM511 10h4v4h-4zM551 10h8v4h-8zM595 10h16v4h-16zM367 14h4v4h-4zM443 14h4v4h-4zM511 14h8v4h-8zM551 14h4v4h-4zM595 14h16v4h-16zM367 18h4v4h-4zM443 18h4v4h-4zM511 18h8v4h-8zM551 18h4v4h-4zM591 18h4v4h-4zM603 18h4v4h-4zM367 22h4v4h-4zM511 22h8v4h-8zM551 22h4v4h-4zM591 22h4v4h-4zM603 22h4v4h-4zM367 26h4v4h-4zM515 26h4v4h-4zM551 26h4v4h-4zM587 26h8v4h-8zM603 26h4v4h-4zM367 30h4v4h-4zM587 30h4v4h-4zM355 34h4v4h-4zM367 34h4v4h-4zM551 34h4v4h-4zM587 34h4v4h-4zM359 38h12v4h-12zM551 38h4v4h-4zM363 42h8v4h-8zM551 42h4v4h-4zM367 46h4v4h-4zM551 46h4v4h-4zM603 46h4v4h-4zM367 50h8v4h-8zM511 50h8v4h-8zM551 50h4v4h-4zM603 50h4v4h-4zM367 54h8v4h-8zM511 54h8v4h-8zM603 54h4v4h-4zM367 58h8v4h-8zM511 58h8v4h-8zM603 58h4v4h-4zM367 62h8v4h-8zM515 62h4v4h-4zM587 62h4v4h-4zM371 66h4v4h-4zM587 66h4v4h-4zM371 70h4v4h-4zM447 70h4v4h-4zM371 74h8v4h-8zM447 74h4v4h-4zM371 78h8v4h-8zM447 78h4v4h-4zM371 82h8v4h-8zM447 82h4v4h-4zM591 82h4v4h-4zM599 82h4v4h-4zM375 86h8v4h-8zM447 86h4v4h-4zM515 86h4v4h-4zM591 86h4v4h-4zM599 86h4v4h-4zM375 90h8v4h-8zM511 90h8v4h-8zM595 90h4v4h-4zM375 94h8v4h-8zM511 94h8v4h-8zM375 98h4v4h-4zM383 98h4v4h-4zM511 98h8v4h-8zM375 102h4v4h-4zM383 102h4v4h-4zM511 102h8v4h-8zM375 106h4v4h-4zM383 106h4v4h-4zM511 106h8v4h-8zM375 110h4v4h-4zM383 110h4v4h-4zM515 110h4v4h-4zM375 114h4v4h-4zM515 114h4v4h-4zM375 118h4v4h-4zM515 118h4v4h-4zM375 122h4v4h-4zM515 122h4v4h-4zM543 122h4v4h-4zM375 126h4v4h-4zM515 126h4v4h-4zM539 126h20v4h-20zM383 130h4v4h-4zM515 130h4v4h-4zM555 130h4v4h-4zM379 134h8v4h-8zM515 134h8v4h-8zM555 134h4v4h-4zM379 138h8v4h-8zM515 138h8v4h-8zM379 142h8v4h-8zM519 142h4v4h-4zM383 146h4v4h-4zM519 146h4v4h-4zM535 146h4v4h-4zM383 150h4v4h-4zM519 150h4v4h-4zM535 150h4v4h-4zM519 154h4v4h-4zM535 154h4v4h-4zM519 158h4v4h-4zM535 158h4v4h-4zM383 162h4v4h-4zM519 162h8v4h-8zM535 162h4v4h-4zM383 166h4v4h-4zM519 166h8v4h-8zM535 166h4v4h-4zM383 170h4v4h-4zM519 170h8v4h-8zM535 170h4v4h-4zM383 174h4v4h-4zM519 174h8v4h-8zM535 174h4v4h-4zM559 174h4v4h-4zM523 178h4v4h-4zM535 178h12v4h-12zM559 178h4v4h-4zM379 182h4v4h-4zM523 182h4v4h-4zM535 182h8v4h-8zM547 182h4v4h-4zM559 182h4v4h-4zM379 186h4v4h-4zM387 186h4v4h-4zM523 186h4v4h-4zM535 186h4v4h-4zM551 186h4v4h-4zM559 186h4v4h-4zM379 190h4v4h-4zM387 190h4v4h-4zM499 190h4v4h-4zM523 190h4v4h-4zM535 190h4v4h-4zM551 190h4v4h-4zM347 194h4v4h-4zM379 194h4v4h-4zM387 194h4v4h-4zM499 194h4v4h-4zM615 194h4v4h-4zM347 198h4v4h-4zM391 198h4v4h-4zM615 198h4v4h-4zM347 202h4v4h-4zM391 202h4v4h-4zM555 202h4v4h-4zM615 202h4v4h-4zM347 206h4v4h-4zM555 206h4v4h-4zM615 206h4v4h-4zM395 210h4v4h-4zM555 210h8v4h-8zM615 210h4v4h-4zM395 214h4v4h-4zM555 214h8v4h-8zM615 214h4v4h-4zM395 218h4v4h-4zM559 218h4v4h-4zM379 226h12v4h-12zM379 230h12v4h-12zM395 230h4v4h-4zM379 234h4v4h-4zM387 234h4v4h-4zM395 234h4v4h-4zM475 234h4v4h-4zM391 238h8v4h-8zM475 238h8v4h-8zM391 242h4v4h-4zM471 242h12v4h-12zM459 246h16v4h-16zM459 250h4v4h-4zM467 250h4v4h-4zM483 250h4v4h-4zM459 254h4v4h-4zM483 254h4v4h-4zM607 254h4v4h-4zM483 258h4v4h-4zM603 258h8v4h-8zM459 262h4v4h-4zM483 262h4v4h-4zM603 262h8v4h-8zM371 266h4v4h-4zM483 266h4v4h-4zM367 270h8v4h-8zM483 270h4v4h-4zM367 274h8v4h-8zM479 274h4v4h-4zM367 278h8v4h-8zM479 278h4v4h-4zM599 278h4v4h-4zM367 282h8v4h-8zM479 282h4v4h-4zM611 282h4v4h-4zM367 286h4v4h-4zM475 286h4v4h-4zM611 286h4v4h-4zM367 290h4v4h-4zM475 290h4v4h-4zM367 294h4v4h-4zM367 298h4v4h-4zM603 298h4v4h-4zM367 302h4v4h-4zM603 302h4v4h-4zM615 302h4v4h-4zM363 306h4v4h-4zM603 306h4v4h-4zM363 310h4v4h-4zM387 310h4v4h-4zM555 310h4v4h-4zM363 314h4v4h-4zM387 314h4v4h-4zM607 314h12v4h-12zM347 318h4v4h-4zM363 318h4v4h-4zM387 318h4v4h-4zM347 322h4v4h-4zM359 322h8v4h-8zM387 322h4v4h-4zM347 326h4v4h-4zM387 326h4v4h-4zM347 330h4v4h-4zM347 334h4v4h-4zM355 334h4v4h-4zM367 350h4v4h-4zM367 354h4v4h-4zM367 358h4v4h-4z"/>
<path fill="#1c1c1c" d="M351 10h4v4h-4zM519 10h4v4h-4zM547 10h4v4h-4zM591 10h4v4h-4zM611 10h4v4h-4zM351 14h4v4h-4zM547 14h4v4h-4zM555 14h4v4h-4zM587 14h8v4h-8zM611 14h4v4h-4zM351 18h4v4h-4zM487 18h4v4h-4zM547 18h4v4h-4zM555 18h4v4h-4zM587 18h4v4h-4zM607 18h4v4h-4zM351 22h4v4h-4zM399 22h4v4h-4zM443 22h4v4h-4zM487 22h4v4h-4zM547 22h4v4h-4zM555 22h4v4h-4zM587 22h4v4h-4zM607 22h4v4h-4zM351 26h4v4h-4zM399 26h4v4h-4zM443 26h4v4h-4zM487 26h4v4h-4zM511 26h4v4h-4zM547 26h4v4h-4zM555 26h4v4h-4zM583 26h4v4h-4zM607 26h4v4h-4zM399 30h4v4h-4zM443 30h4v4h-4zM487 30h4v4h-4zM511 30h8v4h-8zM547 30h4v4h-4zM555 30h4v4h-4zM583 30h4v4h-4zM607 30h4v4h-4zM371 34h4v4h-4zM399 34h4v4h-4zM443 34h4v4h-4zM487 34h4v4h-4zM511 34h8v4h-8zM547 34h4v4h-4zM555 34h4v4h-4zM583 34h4v4h-4zM355 38h4v4h-4zM371 38h4v4h-4zM399 38h4v4h-4zM443 38h4v4h-4zM511 38h8v4h-8zM547 38h4v4h-4zM555 38h4v4h-4zM583 38h4v4h-4zM355 42h8v4h-8zM371 42h4v4h-4zM399 42h4v4h-4zM443 42h4v4h-4zM511 42h8v4h-8zM547 42h4v4h-4zM555 42h4v4h-4zM583 42h4v4h-4zM359 46h8v4h-8zM371 46h4v4h-4zM399 46h4v4h-4zM407 46h4v4h-4zM511 46h8v4h-8zM547 46h4v4h-4zM555 46h4v4h-4zM583 46h4v4h-4zM363 50h4v4h-4zM407 50h4v4h-4zM555 50h4v4h-4zM583 50h4v4h-4zM363 54h4v4h-4zM407 54h4v4h-4zM551 54h4v4h-4zM583 54h4v4h-4zM407 58h4v4h-4zM519 58h4v4h-4zM551 58h4v4h-4zM375 62h4v4h-4zM407 62h4v4h-4zM447 62h4v4h-4zM467 62h4v4h-4zM507 62h4v4h-4zM519 62h4v4h-4zM603 62h4v4h-4zM367 66h4v4h-4zM375 66h4v4h-4zM407 66h4v4h-4zM447 66h4v4h-4zM467 66h4v4h-4zM507 66h4v4h-4zM519 66h4v4h-4zM603 66h4v4h-4zM367 70h4v4h-4zM375 70h4v4h-4zM407 70h4v4h-4zM467 70h4v4h-4zM507 70h4v4h-4zM519 70h4v4h-4zM567 70h4v4h-4zM587 70h4v4h-4zM367 74h4v4h-4zM467 74h4v4h-4zM507 74h4v4h-4zM519 74h4v4h-4zM567 74h4v4h-4zM367 78h4v4h-4zM379 78h4v4h-4zM467 78h4v4h-4zM507 78h4v4h-4zM519 78h4v4h-4zM567 78h4v4h-4zM379 82h4v4h-4zM467 82h4v4h-4zM507 82h4v4h-4zM519 82h4v4h-4zM567 82h4v4h-4zM371 86h4v4h-4zM467 86h4v4h-4zM507 86h4v4h-4zM519 86h4v4h-4zM567 86h4v4h-4zM371 90h4v4h-4zM383 90h4v4h-4zM447 90h4v4h-4zM479 90h4v4h-4zM507 90h4v4h-4zM519 90h4v4h-4zM567 90h8v4h-8zM591 90h4v4h-4zM599 90h4v4h-4zM371 94h4v4h-4zM383 94h4v4h-4zM475 94h8v4h-8zM507 94h4v4h-4zM519 94h4v4h-4zM567 94h8v4h-8zM595 94h8v4h-8zM371 98h4v4h-4zM475 98h8v4h-8zM507 98h4v4h-4zM519 98h4v4h-4zM567 98h8v4h-8zM595 98h4v4h-4zM371 102h4v4h-4zM475 102h8v4h-8zM507 102h4v4h-4zM519 102h4v4h-4zM567 102h8v4h-8zM371 106h4v4h-4zM475 106h8v4h-8zM507 106h4v4h-4zM519 106h4v4h-4zM567 106h8v4h-8zM371 110h4v4h-4zM475 110h8v4h-8zM507 110h8v4h-8zM519 110h4v4h-4zM567 110h8v4h-8zM371 114h4v4h-4zM387 114h4v4h-4zM479 114h4v4h-4zM507 114h8v4h-8zM519 114h4v4h-4zM571 114h4v4h-4zM371 118h4v4h-4zM387 118h4v4h-4zM479 118h4v4h-4zM507 118h8v4h-8zM519 118h4v4h-4zM539 118h20v4h-20zM571 118h4v4h-4zM371 122h4v4h-4zM387 122h4v4h-4zM479 122h4v4h-4zM507 122h8v4h-8zM519 122h4v4h-4zM539 122h4v4h-4zM547 122h12v4h-12zM571 122h4v4h-4zM387 126h4v4h-4zM479 126h4v4h-4zM507 126h8v4h-8zM519 126h4v4h-4zM375 130h4v4h-4zM387 130h4v4h-4zM479 130h4v4h-4zM507 130h8v4h-8zM519 130h4v4h-4zM535 130h4v4h-4zM375 134h4v4h-4zM387 134h4v4h-4zM511 134h4v4h-4zM535 134h4v4h-4zM375 138h4v4h-4zM387 138h4v4h-4zM535 138h4v4h-4zM515 142h4v4h-4zM535 142h4v4h-4zM379 146h4v4h-4zM515 146h4v4h-4zM559 146h4v4h-4zM379 150h4v4h-4zM515 150h4v4h-4zM523 150h4v4h-4zM559 150h4v4h-4zM379 154h8v4h-8zM523 154h4v4h-4zM559 154h4v4h-4zM379 158h8v4h-8zM523 158h4v4h-4zM559 158h4v4h-4zM379 162h4v4h-4zM559 162h4v4h-4zM379 166h4v4h-4zM479 166h8v4h-8zM527 166h8v4h-8zM559 166h4v4h-4zM379 170h4v4h-4zM479 170h8v4h-8zM499 170h4v4h-4zM527 170h8v4h-8zM559 170h4v4h-4zM379 174h4v4h-4zM387 174h4v4h-4zM479 174h8v4h-8zM499 174h4v4h-4zM527 174h8v4h-8zM379 178h4v4h-4zM387 178h4v4h-4zM479 178h8v4h-8zM499 178h4v4h-4zM519 178h4v4h-4zM527 178h8v4h-8zM347 182h4v4h-4zM387 182h4v4h-4zM479 182h8v4h-8zM499 182h4v4h-4zM519 182h4v4h-4zM527 182h8v4h-8zM543 182h4v4h-4zM615 182h4v4h-4zM347 186h4v4h-4zM479 186h8v4h-8zM499 186h4v4h-4zM519 186h4v4h-4zM527 186h8v4h-8zM539 186h12v4h-12zM615 186h4v4h-4zM347 190h4v4h-4zM479 190h8v4h-8zM519 190h4v4h-4zM527 190h8v4h-8zM539 190h4v4h-4zM547 190h4v4h-4zM615 190h4v4h-4zM391 194h4v4h-4zM479 194h8v4h-8zM495 194h4v4h-4zM523 194h16v4h-16zM551 194h4v4h-4zM611 194h4v4h-4zM479 198h8v4h-8zM499 198h4v4h-4zM523 198h4v4h-4zM535 198h4v4h-4zM551 198h4v4h-4zM611 198h4v4h-4zM395 202h4v4h-4zM499 202h4v4h-4zM551 202h4v4h-4zM611 202h4v4h-4zM395 206h4v4h-4zM499 206h4v4h-4zM611 206h4v4h-4zM347 210h4v4h-4zM611 210h4v4h-4zM347 214h4v4h-4zM611 214h4v4h-4zM347 218h4v4h-4zM555 218h4v4h-4zM611 218h8v4h-8zM555 222h8v4h-8zM611 222h8v4h-8zM475 226h8v4h-8zM559 226h4v4h-4zM611 226h4v4h-4zM475 230h8v4h-8zM383 234h4v4h-4zM471 234h4v4h-4zM479 234h4v4h-4zM379 238h12v4h-12zM459 238h4v4h-4zM471 238h4v4h-4zM483 238h4v4h-4zM375 242h8v4h-8zM387 242h4v4h-4zM395 242h4v4h-4zM459 242h12v4h-12zM483 242h4v4h-4zM607 242h4v4h-4zM375 246h4v4h-4zM391 246h8v4h-8zM483 246h4v4h-4zM607 246h4v4h-4zM375 250h4v4h-4zM391 250h4v4h-4zM603 250h8v4h-8zM371 254h8v4h-8zM603 254h4v4h-4zM371 258h4v4h-4zM367 262h8v4h-8zM599 262h4v4h-4zM367 266h4v4h-4zM599 266h4v4h-4zM599 270h4v4h-4zM611 270h4v4h-4zM483 274h4v4h-4zM599 274h4v4h-4zM611 274h4v4h-4zM483 278h4v4h-4zM611 278h4v4h-4zM363 282h4v4h-4zM483 282h4v4h-4zM599 282h4v4h-4zM363 286h4v4h-4zM371 286h4v4h-4zM479 286h4v4h-4zM599 286h4v4h-4zM363 290h4v4h-4zM371 290h4v4h-4zM479 290h4v4h-4zM599 290h4v4h-4zM363 294h4v4h-4zM371 294h4v4h-4zM387 294h8v4h-8zM555 294h4v4h-4zM599 294h4v4h-4zM615 294h4v4h-4zM363 298h4v4h-4zM371 298h4v4h-4zM387 298h8v4h-8zM555 298h4v4h-4zM615 298h4v4h-4zM363 302h4v4h-4zM387 302h8v4h-8zM555 302h8v4h-8zM367 306h4v4h-4zM387 306h8v4h-8zM555 306h8v4h-8zM347 310h4v4h-4zM367 310h4v4h-4zM391 310h4v4h-4zM559 310h4v4h-4zM603 310h4v4h-4zM347 314h4v4h-4zM359 314h4v4h-4zM367 314h4v4h-4zM391 314h4v4h-4zM603 314h4v4h-4zM359 318h4v4h-4zM367 318h4v4h-4zM383 318h4v4h-4zM391 318h4v4h-4zM607 318h12v4h-12zM367 322h4v4h-4zM383 322h4v4h-4zM355 326h4v4h-4zM367 326h4v4h-4zM383 326h4v4h-4zM355 330h4v4h-4zM367 330h4v4h-4zM383 330h8v4h-8zM351 334h4v4h-4zM367 334h4v4h-4zM383 334h8v4h-8zM347 338h8v4h-8zM367 338h4v4h-4zM383 338h8v4h-8zM347 342h8v4h-8zM367 342h4v4h-4zM383 342h8v4h-8zM347 346h8v4h-8zM367 346h4v4h-4zM387 346h4v4h-4zM351 350h4v4h-4zM351 354h4v4h-4zM351 358h4v4h-4z"/>
<path fill="#1e1e1e" d="M371 10h4v4h-4zM399 10h4v4h-4zM467 10h4v4h-4zM483 10h8v4h-8zM559 10h4v4h-4zM587 10h4v4h-4zM615 10h4v4h-4zM371 14h4v4h-4zM395 14h8v4h-8zM467 14h4v4h-4zM483 14h8v4h-8zM519 14h4v4h-4zM559 14h4v4h-4zM371 18h4v4h-4zM395 18h8v4h-8zM467 18h4v4h-4zM483 18h4v4h-4zM519 18h4v4h-4zM559 18h4v4h-4zM583 18h4v4h-4zM611 18h4v4h-4zM371 22h4v4h-4zM395 22h4v4h-4zM403 22h4v4h-4zM467 22h4v4h-4zM483 22h4v4h-4zM519 22h4v4h-4zM559 22h4v4h-4zM583 22h4v4h-4zM611 22h4v4h-4zM371 26h4v4h-4zM395 26h4v4h-4zM403 26h4v4h-4zM467 26h4v4h-4zM483 26h4v4h-4zM519 26h4v4h-4zM559 26h4v4h-4zM351 30h4v4h-4zM371 30h4v4h-4zM395 30h4v4h-4zM403 30h4v4h-4zM467 30h4v4h-4zM483 30h4v4h-4zM519 30h4v4h-4zM559 30h4v4h-4zM351 34h4v4h-4zM395 34h4v4h-4zM403 34h8v4h-8zM467 34h4v4h-4zM483 34h4v4h-4zM519 34h4v4h-4zM559 34h4v4h-4zM607 34h4v4h-4zM351 38h4v4h-4zM395 38h4v4h-4zM403 38h8v4h-8zM467 38h4v4h-4zM483 38h8v4h-8zM519 38h4v4h-4zM559 38h4v4h-4zM607 38h4v4h-4zM395 42h4v4h-4zM403 42h8v4h-8zM467 42h4v4h-4zM483 42h8v4h-8zM519 42h4v4h-4zM559 42h4v4h-4zM355 46h4v4h-4zM395 46h4v4h-4zM403 46h4v4h-4zM443 46h4v4h-4zM467 46h4v4h-4zM487 46h4v4h-4zM519 46h4v4h-4zM559 46h4v4h-4zM359 50h4v4h-4zM375 50h4v4h-4zM395 50h12v4h-12zM447 50h4v4h-4zM463 50h8v4h-8zM487 50h4v4h-4zM507 50h4v4h-4zM519 50h4v4h-4zM547 50h4v4h-4zM559 50h4v4h-4zM375 54h4v4h-4zM399 54h8v4h-8zM447 54h4v4h-4zM463 54h8v4h-8zM507 54h4v4h-4zM519 54h4v4h-4zM547 54h4v4h-4zM555 54h12v4h-12zM363 58h4v4h-4zM375 58h4v4h-4zM399 58h8v4h-8zM447 58h4v4h-4zM463 58h8v4h-8zM507 58h4v4h-4zM555 58h16v4h-16zM583 58h4v4h-4zM363 62h4v4h-4zM463 62h4v4h-4zM551 62h20v4h-20zM583 62h4v4h-4zM379 66h4v4h-4zM463 66h4v4h-4zM551 66h24v4h-24zM379 70h4v4h-4zM463 70h4v4h-4zM555 70h12v4h-12zM571 70h4v4h-4zM603 70h4v4h-4zM379 74h4v4h-4zM407 74h4v4h-4zM463 74h4v4h-4zM471 74h4v4h-4zM555 74h12v4h-12zM571 74h4v4h-4zM587 74h4v4h-4zM603 74h4v4h-4zM463 78h4v4h-4zM471 78h4v4h-4zM559 78h8v4h-8zM571 78h4v4h-4zM587 78h4v4h-4zM367 82h4v4h-4zM383 82h4v4h-4zM463 82h4v4h-4zM471 82h16v4h-16zM559 82h8v4h-8zM571 82h4v4h-4zM367 86h4v4h-4zM383 86h4v4h-4zM463 86h4v4h-4zM471 86h16v4h-16zM559 86h8v4h-8zM571 86h4v4h-4zM367 90h4v4h-4zM467 90h12v4h-12zM483 90h4v4h-4zM559 90h8v4h-8zM447 94h4v4h-4zM467 94h8v4h-8zM483 94h4v4h-4zM559 94h8v4h-8zM591 94h4v4h-4zM387 98h4v4h-4zM471 98h4v4h-4zM483 98h4v4h-4zM559 98h8v4h-8zM591 98h4v4h-4zM599 98h4v4h-4zM387 102h4v4h-4zM471 102h4v4h-4zM483 102h4v4h-4zM559 102h8v4h-8zM595 102h8v4h-8zM387 106h4v4h-4zM483 106h4v4h-4zM559 106h8v4h-8zM595 106h4v4h-4zM387 110h4v4h-4zM483 110h4v4h-4zM555 110h12v4h-12zM475 114h4v4h-4zM483 114h4v4h-4zM539 114h32v4h-32zM475 118h4v4h-4zM483 118h4v4h-4zM559 118h4v4h-4zM567 118h4v4h-4zM367 122h4v4h-4zM391 122h4v4h-4zM475 122h4v4h-4zM483 122h4v4h-4zM503 122h4v4h-4zM535 122h4v4h-4zM559 122h4v4h-4zM567 122h4v4h-4zM575 122h4v4h-4zM367 126h8v4h-8zM391 126h4v4h-4zM475 126h4v4h-4zM483 126h4v4h-4zM503 126h4v4h-4zM535 126h4v4h-4zM559 126h4v4h-4zM571 126h8v4h-8zM367 130h8v4h-8zM391 130h4v4h-4zM503 130h4v4h-4zM559 130h4v4h-4zM571 130h8v4h-8zM367 134h8v4h-8zM391 134h4v4h-4zM479 134h4v4h-4zM503 134h8v4h-8zM559 134h4v4h-4zM571 134h8v4h-8zM367 138h8v4h-8zM479 138h4v4h-4zM503 138h12v4h-12zM523 138h4v4h-4zM559 138h4v4h-4zM571 138h8v4h-8zM367 142h12v4h-12zM387 142h4v4h-4zM479 142h4v4h-4zM503 142h12v4h-12zM523 142h4v4h-4zM559 142h4v4h-4zM575 142h4v4h-4zM375 146h4v4h-4zM387 146h4v4h-4zM479 146h8v4h-8zM503 146h8v4h-8zM523 146h4v4h-4zM375 150h4v4h-4zM387 150h4v4h-4zM451 150h4v4h-4zM479 150h8v4h-8zM503 150h4v4h-4zM387 154h4v4h-4zM451 154h4v4h-4zM479 154h8v4h-8zM503 154h4v4h-4zM515 154h4v4h-4zM531 154h4v4h-4zM387 158h4v4h-4zM451 158h4v4h-4zM479 158h8v4h-8zM499 158h8v4h-8zM515 158h4v4h-4zM527 158h8v4h-8zM387 162h4v4h-4zM479 162h8v4h-8zM499 162h8v4h-8zM515 162h4v4h-4zM527 162h8v4h-8zM387 166h4v4h-4zM499 166h8v4h-8zM387 170h4v4h-4zM503 170h4v4h-4zM347 174h4v4h-4zM503 174h4v4h-4zM615 174h4v4h-4zM347 178h8v4h-8zM495 178h4v4h-4zM503 178h4v4h-4zM611 178h8v4h-8zM351 182h4v4h-4zM495 182h4v4h-4zM503 182h4v4h-4zM611 182h4v4h-4zM351 186h4v4h-4zM391 186h4v4h-4zM495 186h4v4h-4zM503 186h4v4h-4zM563 186h4v4h-4zM611 186h4v4h-4zM351 190h4v4h-4zM391 190h4v4h-4zM495 190h4v4h-4zM503 190h4v4h-4zM543 190h4v4h-4zM563 190h4v4h-4zM611 190h4v4h-4zM351 194h4v4h-4zM395 194h4v4h-4zM503 194h4v4h-4zM519 194h4v4h-4zM539 194h4v4h-4zM547 194h4v4h-4zM563 194h4v4h-4zM351 198h4v4h-4zM395 198h4v4h-4zM495 198h4v4h-4zM503 198h4v4h-4zM519 198h4v4h-4zM527 198h8v4h-8zM539 198h4v4h-4zM563 198h4v4h-4zM351 202h4v4h-4zM479 202h8v4h-8zM495 202h4v4h-4zM519 202h20v4h-20zM563 202h4v4h-4zM351 206h4v4h-4zM479 206h8v4h-8zM495 206h4v4h-4zM523 206h4v4h-4zM535 206h4v4h-4zM551 206h4v4h-4zM563 206h4v4h-4zM351 210h4v4h-4zM479 210h8v4h-8zM495 210h8v4h-8zM551 210h4v4h-4zM563 210h4v4h-4zM479 214h8v4h-8zM499 214h4v4h-4zM551 214h4v4h-4zM563 214h4v4h-4zM399 218h4v4h-4zM475 218h12v4h-12zM563 218h4v4h-4zM347 222h4v4h-4zM399 222h4v4h-4zM475 222h12v4h-12zM607 222h4v4h-4zM347 226h4v4h-4zM375 226h4v4h-4zM399 226h4v4h-4zM471 226h4v4h-4zM483 226h4v4h-4zM555 226h4v4h-4zM607 226h4v4h-4zM615 226h4v4h-4zM375 230h4v4h-4zM399 230h4v4h-4zM459 230h4v4h-4zM467 230h8v4h-8zM483 230h4v4h-4zM555 230h8v4h-8zM607 230h12v4h-12zM375 234h4v4h-4zM399 234h4v4h-4zM459 234h12v4h-12zM483 234h4v4h-4zM555 234h8v4h-8zM607 234h12v4h-12zM375 238h4v4h-4zM399 238h4v4h-4zM463 238h8v4h-8zM555 238h8v4h-8zM607 238h8v4h-8zM383 242h4v4h-4zM399 242h4v4h-4zM555 242h4v4h-4zM603 242h4v4h-4zM611 242h4v4h-4zM379 246h12v4h-12zM603 246h4v4h-4zM611 246h4v4h-4zM371 250h4v4h-4zM379 250h4v4h-4zM387 250h4v4h-4zM395 250h4v4h-4zM611 250h4v4h-4zM391 254h8v4h-8zM547 254h8v4h-8zM599 254h4v4h-4zM611 254h4v4h-4zM367 258h4v4h-4zM375 258h4v4h-4zM391 258h4v4h-4zM547 258h8v4h-8zM599 258h4v4h-4zM611 258h4v4h-4zM375 262h4v4h-4zM547 262h8v4h-8zM611 262h4v4h-4zM375 266h4v4h-4zM459 266h4v4h-4zM547 266h12v4h-12zM611 266h4v4h-4zM375 270h4v4h-4zM547 270h12v4h-12zM363 274h4v4h-4zM375 274h4v4h-4zM547 274h12v4h-12zM363 278h4v4h-4zM375 278h4v4h-4zM551 278h8v4h-8zM387 282h8v4h-8zM551 282h8v4h-8zM387 286h8v4h-8zM483 286h4v4h-4zM551 286h8v4h-8zM387 290h8v4h-8zM483 290h4v4h-4zM551 290h12v4h-12zM615 290h4v4h-4zM479 294h4v4h-4zM551 294h4v4h-4zM559 294h4v4h-4zM551 298h4v4h-4zM559 298h4v4h-4zM599 298h4v4h-4zM371 302h4v4h-4zM551 302h4v4h-4zM599 302h4v4h-4zM347 306h4v4h-4zM359 306h4v4h-4zM371 306h4v4h-4zM383 306h4v4h-4zM511 306h4v4h-4zM527 306h4v4h-4zM551 306h4v4h-4zM359 310h4v4h-4zM371 310h4v4h-4zM383 310h4v4h-4zM523 310h8v4h-8zM551 310h4v4h-4zM383 314h4v4h-4zM551 314h12v4h-12zM603 318h4v4h-4zM351 322h8v4h-8zM391 322h4v4h-4zM351 326h4v4h-4zM391 326h4v4h-4zM351 330h4v4h-4zM391 330h4v4h-4zM391 334h4v4h-4zM383 346h4v4h-4zM347 350h4v4h-4zM383 350h8v4h-8zM347 354h4v4h-4zM383 354h8v4h-8zM347 358h4v4h-4zM371 358h4v4h-4z"/>
<path fill="#202020" d="M347 10h4v4h-4zM383 10h16v4h-16zM403 10h8v4h-8zM447 10h4v4h-4zM463 10h4v4h-4zM491 10h4v4h-4zM507 10h4v4h-4zM523 10h4v4h-4zM583 10h4v4h-4zM347 14h4v4h-4zM387 14h4v4h-4zM403 14h8v4h-8zM447 14h4v4h-4zM463 14h4v4h-4zM491 14h4v4h-4zM507 14h4v4h-4zM583 14h4v4h-4zM615 14h4v4h-4zM347 18h4v4h-4zM403 18h8v4h-8zM447 18h4v4h-4zM463 18h4v4h-4zM491 18h4v4h-4zM507 18h4v4h-4zM615 18h4v4h-4zM347 22h4v4h-4zM407 22h4v4h-4zM447 22h4v4h-4zM463 22h4v4h-4zM491 22h4v4h-4zM507 22h4v4h-4zM615 22h4v4h-4zM347 26h4v4h-4zM407 26h4v4h-4zM447 26h4v4h-4zM463 26h4v4h-4zM491 26h4v4h-4zM507 26h4v4h-4zM611 26h4v4h-4zM407 30h4v4h-4zM447 30h4v4h-4zM463 30h4v4h-4zM491 30h4v4h-4zM507 30h4v4h-4zM543 30h4v4h-4zM611 30h4v4h-4zM447 34h4v4h-4zM463 34h4v4h-4zM491 34h4v4h-4zM507 34h4v4h-4zM543 34h4v4h-4zM563 34h4v4h-4zM447 38h4v4h-4zM463 38h4v4h-4zM491 38h4v4h-4zM507 38h4v4h-4zM543 38h4v4h-4zM563 38h4v4h-4zM579 38h4v4h-4zM351 42h4v4h-4zM375 42h4v4h-4zM447 42h4v4h-4zM463 42h4v4h-4zM491 42h4v4h-4zM507 42h4v4h-4zM543 42h4v4h-4zM563 42h4v4h-4zM579 42h4v4h-4zM607 42h4v4h-4zM351 46h4v4h-4zM375 46h4v4h-4zM447 46h4v4h-4zM463 46h4v4h-4zM483 46h4v4h-4zM491 46h4v4h-4zM507 46h4v4h-4zM563 46h4v4h-4zM579 46h4v4h-4zM607 46h4v4h-4zM355 50h4v4h-4zM443 50h4v4h-4zM483 50h4v4h-4zM491 50h4v4h-4zM563 50h8v4h-8zM579 50h4v4h-4zM355 54h8v4h-8zM395 54h4v4h-4zM483 54h12v4h-12zM567 54h4v4h-4zM579 54h4v4h-4zM359 58h4v4h-4zM379 58h4v4h-4zM395 58h4v4h-4zM483 58h8v4h-8zM523 58h4v4h-4zM547 58h4v4h-4zM571 58h4v4h-4zM379 62h4v4h-4zM395 62h12v4h-12zM471 62h4v4h-4zM483 62h8v4h-8zM523 62h4v4h-4zM547 62h4v4h-4zM571 62h4v4h-4zM363 66h4v4h-4zM395 66h4v4h-4zM403 66h4v4h-4zM471 66h4v4h-4zM483 66h8v4h-8zM523 66h4v4h-4zM583 66h4v4h-4zM363 70h4v4h-4zM471 70h4v4h-4zM479 70h12v4h-12zM523 70h4v4h-4zM551 70h4v4h-4zM363 74h4v4h-4zM383 74h4v4h-4zM475 74h12v4h-12zM523 74h4v4h-4zM551 74h4v4h-4zM383 78h4v4h-4zM407 78h4v4h-4zM475 78h12v4h-12zM523 78h4v4h-4zM555 78h4v4h-4zM603 78h4v4h-4zM523 82h4v4h-4zM555 82h4v4h-4zM587 82h4v4h-4zM603 82h4v4h-4zM523 86h4v4h-4zM555 86h4v4h-4zM387 90h4v4h-4zM463 90h4v4h-4zM523 90h4v4h-4zM555 90h4v4h-4zM367 94h4v4h-4zM387 94h4v4h-4zM463 94h4v4h-4zM523 94h4v4h-4zM555 94h4v4h-4zM367 98h4v4h-4zM467 98h4v4h-4zM523 98h4v4h-4zM555 98h4v4h-4zM367 102h4v4h-4zM467 102h4v4h-4zM523 102h4v4h-4zM555 102h4v4h-4zM591 102h4v4h-4zM367 106h4v4h-4zM391 106h4v4h-4zM471 106h4v4h-4zM503 106h4v4h-4zM523 106h4v4h-4zM539 106h4v4h-4zM551 106h8v4h-8zM575 106h4v4h-4zM599 106h4v4h-4zM367 110h4v4h-4zM391 110h4v4h-4zM471 110h4v4h-4zM503 110h4v4h-4zM523 110h4v4h-4zM539 110h16v4h-16zM575 110h4v4h-4zM595 110h8v4h-8zM367 114h4v4h-4zM391 114h4v4h-4zM471 114h4v4h-4zM503 114h4v4h-4zM523 114h4v4h-4zM535 114h4v4h-4zM575 114h4v4h-4zM595 114h8v4h-8zM367 118h4v4h-4zM391 118h8v4h-8zM503 118h4v4h-4zM523 118h4v4h-4zM535 118h4v4h-4zM563 118h4v4h-4zM575 118h4v4h-4zM395 122h4v4h-4zM523 122h4v4h-4zM563 122h4v4h-4zM395 126h4v4h-4zM523 126h4v4h-4zM563 126h8v4h-8zM363 130h4v4h-4zM395 130h4v4h-4zM475 130h4v4h-4zM483 130h4v4h-4zM523 130h4v4h-4zM563 130h8v4h-8zM363 134h4v4h-4zM395 134h4v4h-4zM475 134h4v4h-4zM483 134h4v4h-4zM523 134h4v4h-4zM567 134h4v4h-4zM363 138h4v4h-4zM391 138h8v4h-8zM475 138h4v4h-4zM483 138h4v4h-4zM363 142h4v4h-4zM391 142h8v4h-8zM475 142h4v4h-4zM483 142h4v4h-4zM499 142h4v4h-4zM531 142h4v4h-4zM571 142h4v4h-4zM363 146h12v4h-12zM391 146h8v4h-8zM451 146h4v4h-4zM499 146h4v4h-4zM511 146h4v4h-4zM531 146h4v4h-4zM571 146h12v4h-12zM363 150h12v4h-12zM391 150h8v4h-8zM499 150h4v4h-4zM507 150h8v4h-8zM527 150h8v4h-8zM571 150h12v4h-12zM363 154h8v4h-8zM375 154h4v4h-4zM391 154h4v4h-4zM499 154h4v4h-4zM507 154h4v4h-4zM527 154h4v4h-4zM571 154h12v4h-12zM363 158h4v4h-4zM375 158h4v4h-4zM575 158h12v4h-12zM363 162h4v4h-4zM375 162h4v4h-4zM575 162h12v4h-12zM347 166h8v4h-8zM359 166h4v4h-4zM475 166h4v4h-4zM515 166h4v4h-4zM579 166h8v4h-8zM611 166h8v4h-8zM347 170h16v4h-16zM475 170h4v4h-4zM495 170h4v4h-4zM515 170h4v4h-4zM579 170h8v4h-8zM611 170h8v4h-8zM351 174h12v4h-12zM391 174h4v4h-4zM475 174h4v4h-4zM495 174h4v4h-4zM515 174h4v4h-4zM563 174h4v4h-4zM583 174h4v4h-4zM611 174h4v4h-4zM355 178h8v4h-8zM391 178h4v4h-4zM475 178h4v4h-4zM487 178h4v4h-4zM563 178h4v4h-4zM355 182h4v4h-4zM391 182h4v4h-4zM475 182h4v4h-4zM487 182h4v4h-4zM563 182h4v4h-4zM355 186h4v4h-4zM395 186h4v4h-4zM475 186h4v4h-4zM487 186h4v4h-4zM607 186h4v4h-4zM355 190h4v4h-4zM395 190h4v4h-4zM475 190h4v4h-4zM487 190h4v4h-4zM607 190h4v4h-4zM355 194h4v4h-4zM475 194h4v4h-4zM487 194h4v4h-4zM543 194h4v4h-4zM607 194h4v4h-4zM355 198h4v4h-4zM475 198h4v4h-4zM487 198h4v4h-4zM543 198h8v4h-8zM607 198h4v4h-4zM475 202h4v4h-4zM487 202h4v4h-4zM503 202h4v4h-4zM539 202h4v4h-4zM547 202h4v4h-4zM607 202h4v4h-4zM475 206h4v4h-4zM503 206h4v4h-4zM519 206h4v4h-4zM527 206h8v4h-8zM539 206h4v4h-4zM547 206h4v4h-4zM607 206h4v4h-4zM375 210h4v4h-4zM399 210h4v4h-4zM475 210h4v4h-4zM503 210h4v4h-4zM519 210h8v4h-8zM535 210h4v4h-4zM607 210h4v4h-4zM351 214h4v4h-4zM375 214h4v4h-4zM399 214h4v4h-4zM471 214h8v4h-8zM495 214h4v4h-4zM503 214h4v4h-4zM519 214h8v4h-8zM607 214h4v4h-4zM351 218h4v4h-4zM375 218h4v4h-4zM467 218h8v4h-8zM495 218h8v4h-8zM551 218h4v4h-4zM607 218h4v4h-4zM375 222h4v4h-4zM467 222h8v4h-8zM551 222h4v4h-4zM563 222h4v4h-4zM459 226h12v4h-12zM551 226h4v4h-4zM563 226h4v4h-4zM347 230h4v4h-4zM403 230h4v4h-4zM463 230h4v4h-4zM551 230h4v4h-4zM603 230h4v4h-4zM403 234h4v4h-4zM551 234h4v4h-4zM603 234h4v4h-4zM403 238h4v4h-4zM547 238h8v4h-8zM603 238h4v4h-4zM615 238h4v4h-4zM371 242h4v4h-4zM403 242h4v4h-4zM487 242h4v4h-4zM547 242h8v4h-8zM559 242h4v4h-4zM615 242h4v4h-4zM371 246h4v4h-4zM399 246h8v4h-8zM487 246h4v4h-4zM543 246h20v4h-20zM599 246h4v4h-4zM383 250h4v4h-4zM399 250h4v4h-4zM487 250h4v4h-4zM543 250h20v4h-20zM599 250h4v4h-4zM367 254h4v4h-4zM379 254h12v4h-12zM487 254h4v4h-4zM543 254h4v4h-4zM555 254h8v4h-8zM379 258h4v4h-4zM387 258h4v4h-4zM395 258h4v4h-4zM487 258h4v4h-4zM543 258h4v4h-4zM555 258h4v4h-4zM387 262h12v4h-12zM487 262h4v4h-4zM543 262h4v4h-4zM555 262h4v4h-4zM363 266h4v4h-4zM387 266h8v4h-8zM487 266h4v4h-4zM543 266h4v4h-4zM363 270h4v4h-4zM387 270h8v4h-8zM487 270h4v4h-4zM543 270h4v4h-4zM559 270h4v4h-4zM387 274h8v4h-8zM487 274h4v4h-4zM543 274h4v4h-4zM559 274h4v4h-4zM387 278h8v4h-8zM487 278h4v4h-4zM543 278h8v4h-8zM559 278h4v4h-4zM375 282h4v4h-4zM487 282h4v4h-4zM547 282h4v4h-4zM559 282h4v4h-4zM375 286h4v4h-4zM395 286h4v4h-4zM487 286h4v4h-4zM547 286h4v4h-4zM559 286h8v4h-8zM615 286h4v4h-4zM375 290h4v4h-4zM395 290h4v4h-4zM471 290h4v4h-4zM547 290h4v4h-4zM563 290h4v4h-4zM359 294h4v4h-4zM375 294h4v4h-4zM383 294h4v4h-4zM395 294h4v4h-4zM483 294h4v4h-4zM563 294h4v4h-4zM347 298h4v4h-4zM359 298h4v4h-4zM375 298h4v4h-4zM383 298h4v4h-4zM395 298h4v4h-4zM483 298h4v4h-4zM511 298h4v4h-4zM527 298h4v4h-4zM563 298h8v4h-8zM347 302h4v4h-4zM359 302h4v4h-4zM375 302h4v4h-4zM383 302h4v4h-4zM395 302h4v4h-4zM507 302h8v4h-8zM523 302h8v4h-8zM563 302h4v4h-4zM395 306h4v4h-4zM507 306h4v4h-4zM515 306h4v4h-4zM523 306h4v4h-4zM563 306h4v4h-4zM599 306h4v4h-4zM395 310h4v4h-4zM507 310h12v4h-12zM563 310h4v4h-4zM599 310h4v4h-4zM351 314h8v4h-8zM371 314h4v4h-4zM395 314h4v4h-4zM531 314h4v4h-4zM563 314h4v4h-4zM599 314h4v4h-4zM351 318h8v4h-8zM371 318h4v4h-4zM379 318h4v4h-4zM395 318h4v4h-4zM555 318h8v4h-8zM599 318h4v4h-4zM371 322h4v4h-4zM379 322h4v4h-4zM395 322h4v4h-4zM599 322h20v4h-20zM371 326h4v4h-4zM379 326h4v4h-4zM395 326h4v4h-4zM371 330h4v4h-4zM379 330h4v4h-4zM371 334h4v4h-4zM379 334h4v4h-4zM371 338h4v4h-4zM379 338h4v4h-4zM391 338h4v4h-4zM371 342h4v4h-4zM379 342h4v4h-4zM391 342h8v4h-8zM371 346h4v4h-4zM391 346h8v4h-8zM371 350h4v4h-4zM391 350h12v4h-12zM371 354h4v4h-4zM391 354h12v4h-12zM383 358h20v4h-20z"/>
<path fill="#222222" d="M439 10h4v4h-4zM471 10h4v4h-4zM527 10h4v4h-4zM383 14h4v4h-4zM391 14h4v4h-4zM471 14h4v4h-4zM523 14h4v4h-4zM543 14h4v4h-4zM383 18h12v4h-12zM471 18h4v4h-4zM523 18h4v4h-4zM543 18h4v4h-4zM563 18h4v4h-4zM383 22h12v4h-12zM471 22h4v4h-4zM543 22h4v4h-4zM563 22h4v4h-4zM579 22h4v4h-4zM391 26h4v4h-4zM471 26h4v4h-4zM543 26h4v4h-4zM563 26h4v4h-4zM579 26h4v4h-4zM615 26h4v4h-4zM347 30h4v4h-4zM375 30h4v4h-4zM391 30h4v4h-4zM471 30h4v4h-4zM479 30h4v4h-4zM563 30h4v4h-4zM579 30h4v4h-4zM615 30h4v4h-4zM347 34h4v4h-4zM375 34h4v4h-4zM471 34h4v4h-4zM479 34h4v4h-4zM579 34h4v4h-4zM611 34h4v4h-4zM347 38h4v4h-4zM375 38h4v4h-4zM471 38h4v4h-4zM479 38h4v4h-4zM611 38h4v4h-4zM471 42h4v4h-4zM479 42h4v4h-4zM567 42h4v4h-4zM379 46h4v4h-4zM471 46h4v4h-4zM479 46h4v4h-4zM523 46h4v4h-4zM543 46h4v4h-4zM567 46h4v4h-4zM351 50h4v4h-4zM379 50h4v4h-4zM471 50h4v4h-4zM479 50h4v4h-4zM523 50h4v4h-4zM543 50h4v4h-4zM571 50h8v4h-8zM607 50h4v4h-4zM379 54h4v4h-4zM443 54h4v4h-4zM471 54h4v4h-4zM479 54h4v4h-4zM523 54h4v4h-4zM543 54h4v4h-4zM571 54h8v4h-8zM607 54h4v4h-4zM355 58h4v4h-4zM471 58h4v4h-4zM479 58h4v4h-4zM491 58h4v4h-4zM575 58h8v4h-8zM355 62h8v4h-8zM383 62h4v4h-4zM479 62h4v4h-4zM491 62h4v4h-4zM575 62h8v4h-8zM359 66h4v4h-4zM383 66h4v4h-4zM391 66h4v4h-4zM399 66h4v4h-4zM451 66h4v4h-4zM475 66h8v4h-8zM491 66h4v4h-4zM503 66h4v4h-4zM547 66h4v4h-4zM575 66h4v4h-4zM383 70h4v4h-4zM391 70h16v4h-16zM451 70h4v4h-4zM459 70h4v4h-4zM475 70h4v4h-4zM491 70h4v4h-4zM503 70h4v4h-4zM575 70h4v4h-4zM583 70h4v4h-4zM391 74h8v4h-8zM403 74h4v4h-4zM451 74h4v4h-4zM459 74h4v4h-4zM487 74h4v4h-4zM503 74h4v4h-4zM575 74h4v4h-4zM363 78h4v4h-4zM387 78h8v4h-8zM451 78h4v4h-4zM459 78h4v4h-4zM487 78h4v4h-4zM503 78h4v4h-4zM551 78h4v4h-4zM575 78h4v4h-4zM363 82h4v4h-4zM387 82h8v4h-8zM407 82h4v4h-4zM451 82h4v4h-4zM487 82h4v4h-4zM503 82h4v4h-4zM551 82h4v4h-4zM575 82h4v4h-4zM387 86h8v4h-8zM407 86h4v4h-4zM451 86h4v4h-4zM487 86h4v4h-4zM503 86h4v4h-4zM551 86h4v4h-4zM575 86h4v4h-4zM587 86h4v4h-4zM603 86h4v4h-4zM391 90h4v4h-4zM451 90h4v4h-4zM487 90h4v4h-4zM503 90h4v4h-4zM551 90h4v4h-4zM575 90h4v4h-4zM587 90h4v4h-4zM603 90h4v4h-4zM391 94h4v4h-4zM487 94h4v4h-4zM503 94h4v4h-4zM551 94h4v4h-4zM575 94h4v4h-4zM391 98h4v4h-4zM447 98h4v4h-4zM463 98h4v4h-4zM503 98h4v4h-4zM551 98h4v4h-4zM575 98h4v4h-4zM391 102h4v4h-4zM447 102h4v4h-4zM463 102h4v4h-4zM503 102h4v4h-4zM539 102h16v4h-16zM575 102h4v4h-4zM447 106h4v4h-4zM467 106h4v4h-4zM535 106h4v4h-4zM543 106h8v4h-8zM591 106h4v4h-4zM395 110h4v4h-4zM447 110h4v4h-4zM467 110h4v4h-4zM535 110h4v4h-4zM591 110h4v4h-4zM395 114h4v4h-4zM447 114h4v4h-4zM591 114h4v4h-4zM363 118h4v4h-4zM471 118h4v4h-4zM595 118h8v4h-8zM363 122h4v4h-4zM471 122h4v4h-4zM595 122h8v4h-8zM363 126h4v4h-4zM399 126h4v4h-4zM471 126h4v4h-4zM531 126h4v4h-4zM599 126h4v4h-4zM399 130h4v4h-4zM471 130h4v4h-4zM531 130h4v4h-4zM579 130h4v4h-4zM399 134h4v4h-4zM499 134h4v4h-4zM531 134h4v4h-4zM563 134h4v4h-4zM579 134h4v4h-4zM359 138h4v4h-4zM399 138h4v4h-4zM451 138h4v4h-4zM499 138h4v4h-4zM527 138h8v4h-8zM563 138h8v4h-8zM579 138h4v4h-4zM359 142h4v4h-4zM399 142h4v4h-4zM451 142h4v4h-4zM527 142h4v4h-4zM563 142h8v4h-8zM579 142h4v4h-4zM359 146h4v4h-4zM475 146h4v4h-4zM527 146h4v4h-4zM563 146h8v4h-8zM583 146h4v4h-4zM355 150h8v4h-8zM475 150h4v4h-4zM563 150h8v4h-8zM583 150h8v4h-8zM351 154h12v4h-12zM371 154h4v4h-4zM395 154h4v4h-4zM475 154h4v4h-4zM511 154h4v4h-4zM563 154h4v4h-4zM583 154h8v4h-8zM347 158h16v4h-16zM367 158h8v4h-8zM391 158h8v4h-8zM455 158h4v4h-4zM475 158h4v4h-4zM487 158h4v4h-4zM507 158h8v4h-8zM563 158h4v4h-4zM571 158h4v4h-4zM587 158h4v4h-4zM611 158h8v4h-8zM347 162h16v4h-16zM367 162h4v4h-4zM391 162h8v4h-8zM451 162h8v4h-8zM475 162h4v4h-4zM487 162h4v4h-4zM495 162h4v4h-4zM507 162h8v4h-8zM563 162h4v4h-4zM571 162h4v4h-4zM587 162h4v4h-4zM607 162h12v4h-12zM355 166h4v4h-4zM363 166h4v4h-4zM375 166h4v4h-4zM391 166h8v4h-8zM455 166h4v4h-4zM487 166h4v4h-4zM495 166h4v4h-4zM507 166h4v4h-4zM563 166h4v4h-4zM571 166h8v4h-8zM587 166h4v4h-4zM607 166h4v4h-4zM363 170h4v4h-4zM375 170h4v4h-4zM391 170h8v4h-8zM487 170h4v4h-4zM507 170h4v4h-4zM563 170h4v4h-4zM575 170h4v4h-4zM587 170h4v4h-4zM607 170h4v4h-4zM363 174h4v4h-4zM375 174h4v4h-4zM395 174h4v4h-4zM487 174h4v4h-4zM575 174h8v4h-8zM587 174h4v4h-4zM607 174h4v4h-4zM375 178h4v4h-4zM395 178h4v4h-4zM491 178h4v4h-4zM515 178h4v4h-4zM579 178h8v4h-8zM607 178h4v4h-4zM359 182h4v4h-4zM375 182h4v4h-4zM395 182h4v4h-4zM491 182h4v4h-4zM515 182h4v4h-4zM579 182h8v4h-8zM607 182h4v4h-4zM359 186h4v4h-4zM375 186h4v4h-4zM491 186h4v4h-4zM515 186h4v4h-4zM583 186h4v4h-4zM359 190h4v4h-4zM375 190h4v4h-4zM491 190h4v4h-4zM515 190h4v4h-4zM583 190h4v4h-4zM359 194h4v4h-4zM375 194h4v4h-4zM471 194h4v4h-4zM491 194h4v4h-4zM515 194h4v4h-4zM359 198h4v4h-4zM375 198h4v4h-4zM467 198h8v4h-8zM491 198h4v4h-4zM515 198h4v4h-4zM355 202h4v4h-4zM375 202h4v4h-4zM399 202h4v4h-4zM467 202h8v4h-8zM491 202h4v4h-4zM507 202h4v4h-4zM515 202h4v4h-4zM543 202h4v4h-4zM355 206h4v4h-4zM375 206h4v4h-4zM399 206h4v4h-4zM467 206h8v4h-8zM487 206h8v4h-8zM507 206h4v4h-4zM515 206h4v4h-4zM543 206h4v4h-4zM355 210h4v4h-4zM467 210h8v4h-8zM487 210h8v4h-8zM507 210h4v4h-4zM515 210h4v4h-4zM527 210h8v4h-8zM539 210h4v4h-4zM547 210h4v4h-4zM463 214h8v4h-8zM487 214h8v4h-8zM507 214h4v4h-4zM515 214h4v4h-4zM531 214h12v4h-12zM547 214h4v4h-4zM603 214h4v4h-4zM459 218h8v4h-8zM487 218h8v4h-8zM503 218h24v4h-24zM535 218h4v4h-4zM547 218h4v4h-4zM603 218h4v4h-4zM351 222h4v4h-4zM403 222h4v4h-4zM459 222h8v4h-8zM487 222h4v4h-4zM495 222h28v4h-28zM547 222h4v4h-4zM603 222h4v4h-4zM351 226h4v4h-4zM403 226h8v4h-8zM487 226h4v4h-4zM499 226h24v4h-24zM547 226h4v4h-4zM603 226h4v4h-4zM407 230h4v4h-4zM487 230h4v4h-4zM507 230h16v4h-16zM547 230h4v4h-4zM563 230h4v4h-4zM347 234h4v4h-4zM407 234h4v4h-4zM487 234h4v4h-4zM507 234h16v4h-16zM543 234h8v4h-8zM563 234h4v4h-4zM599 234h4v4h-4zM347 238h4v4h-4zM371 238h4v4h-4zM487 238h4v4h-4zM507 238h12v4h-12zM543 238h4v4h-4zM563 238h4v4h-4zM599 238h4v4h-4zM347 242h4v4h-4zM507 242h12v4h-12zM543 242h4v4h-4zM599 242h4v4h-4zM511 246h8v4h-8zM615 246h4v4h-4zM367 250h4v4h-4zM403 250h4v4h-4zM511 250h8v4h-8zM615 250h4v4h-4zM399 254h8v4h-8zM511 254h8v4h-8zM615 254h4v4h-4zM363 258h4v4h-4zM383 258h4v4h-4zM399 258h8v4h-8zM511 258h4v4h-4zM539 258h4v4h-4zM559 258h4v4h-4zM595 258h4v4h-4zM363 262h4v4h-4zM379 262h8v4h-8zM511 262h4v4h-4zM539 262h4v4h-4zM559 262h4v4h-4zM595 262h4v4h-4zM379 266h8v4h-8zM395 266h4v4h-4zM511 266h4v4h-4zM539 266h4v4h-4zM559 266h4v4h-4zM595 266h4v4h-4zM379 270h8v4h-8zM395 270h4v4h-4zM539 270h4v4h-4zM595 270h4v4h-4zM359 274h4v4h-4zM379 274h8v4h-8zM395 274h4v4h-4zM539 274h4v4h-4zM595 274h4v4h-4zM615 274h4v4h-4zM359 278h4v4h-4zM383 278h4v4h-4zM395 278h4v4h-4zM463 278h4v4h-4zM539 278h4v4h-4zM563 278h4v4h-4zM595 278h4v4h-4zM615 278h4v4h-4zM359 282h4v4h-4zM383 282h4v4h-4zM395 282h4v4h-4zM511 282h4v4h-4zM539 282h8v4h-8zM563 282h8v4h-8zM595 282h4v4h-4zM615 282h4v4h-4zM359 286h4v4h-4zM383 286h4v4h-4zM467 286h4v4h-4zM511 286h4v4h-4zM543 286h4v4h-4zM567 286h4v4h-4zM595 286h4v4h-4zM359 290h4v4h-4zM383 290h4v4h-4zM487 290h4v4h-4zM511 290h4v4h-4zM527 290h4v4h-4zM543 290h4v4h-4zM567 290h4v4h-4zM595 290h4v4h-4zM347 294h4v4h-4zM379 294h4v4h-4zM475 294h4v4h-4zM487 294h4v4h-4zM507 294h8v4h-8zM523 294h8v4h-8zM543 294h8v4h-8zM567 294h4v4h-4zM379 298h4v4h-4zM487 298h4v4h-4zM507 298h4v4h-4zM515 298h4v4h-4zM523 298h4v4h-4zM547 298h4v4h-4zM379 302h4v4h-4zM487 302h4v4h-4zM515 302h8v4h-8zM531 302h4v4h-4zM547 302h4v4h-4zM567 302h4v4h-4zM351 306h8v4h-8zM375 306h8v4h-8zM519 306h4v4h-4zM531 306h4v4h-4zM547 306h4v4h-4zM567 306h4v4h-4zM351 310h8v4h-8zM375 310h8v4h-8zM519 310h4v4h-4zM531 310h4v4h-4zM547 310h4v4h-4zM567 310h4v4h-4zM375 314h8v4h-8zM519 314h12v4h-12zM547 314h4v4h-4zM567 314h4v4h-4zM375 318h4v4h-4zM547 318h8v4h-8zM563 318h4v4h-4zM595 318h4v4h-4zM375 322h4v4h-4zM595 322h4v4h-4zM375 326h4v4h-4zM607 326h12v4h-12zM375 330h4v4h-4zM395 330h8v4h-8zM375 334h4v4h-4zM395 334h8v4h-8zM375 338h4v4h-4zM395 338h8v4h-8zM375 342h4v4h-4zM399 342h8v4h-8zM375 346h8v4h-8zM399 346h4v4h-4zM375 350h8v4h-8zM375 354h8v4h-8z"/>
<path fill="#242424" d="M375 10h8v4h-8zM459 10h4v4h-4zM479 10h4v4h-4zM495 10h4v4h-4zM503 10h4v4h-4zM531 10h4v4h-4zM543 10h4v4h-4zM563 10h4v4h-4zM579 10h4v4h-4zM375 14h8v4h-8zM439 14h4v4h-4zM479 14h4v4h-4zM495 14h4v4h-4zM503 14h4v4h-4zM527 14h4v4h-4zM563 14h4v4h-4zM579 14h4v4h-4zM375 18h8v4h-8zM479 18h4v4h-4zM495 18h4v4h-4zM503 18h4v4h-4zM579 18h4v4h-4zM375 22h8v4h-8zM479 22h4v4h-4zM495 22h4v4h-4zM503 22h4v4h-4zM523 22h4v4h-4zM375 26h16v4h-16zM479 26h4v4h-4zM495 26h4v4h-4zM523 26h4v4h-4zM379 30h12v4h-12zM495 30h4v4h-4zM523 30h4v4h-4zM567 30h4v4h-4zM379 34h16v4h-16zM495 34h4v4h-4zM523 34h4v4h-4zM567 34h4v4h-4zM615 34h4v4h-4zM379 38h8v4h-8zM391 38h4v4h-4zM495 38h4v4h-4zM523 38h4v4h-4zM567 38h4v4h-4zM575 38h4v4h-4zM615 38h4v4h-4zM347 42h4v4h-4zM379 42h8v4h-8zM391 42h4v4h-4zM495 42h4v4h-4zM523 42h4v4h-4zM539 42h4v4h-4zM571 42h8v4h-8zM611 42h4v4h-4zM347 46h4v4h-4zM383 46h4v4h-4zM391 46h4v4h-4zM495 46h4v4h-4zM503 46h4v4h-4zM539 46h4v4h-4zM571 46h8v4h-8zM383 50h4v4h-4zM391 50h4v4h-4zM451 50h4v4h-4zM475 50h4v4h-4zM495 50h4v4h-4zM503 50h4v4h-4zM527 50h4v4h-4zM351 54h4v4h-4zM383 54h4v4h-4zM391 54h4v4h-4zM451 54h4v4h-4zM459 54h4v4h-4zM475 54h4v4h-4zM495 54h4v4h-4zM503 54h4v4h-4zM527 54h4v4h-4zM351 58h4v4h-4zM383 58h4v4h-4zM391 58h4v4h-4zM443 58h4v4h-4zM451 58h4v4h-4zM459 58h4v4h-4zM475 58h4v4h-4zM495 58h4v4h-4zM503 58h4v4h-4zM527 58h4v4h-4zM543 58h4v4h-4zM607 58h4v4h-4zM387 62h8v4h-8zM451 62h4v4h-4zM459 62h4v4h-4zM475 62h4v4h-4zM503 62h4v4h-4zM527 62h4v4h-4zM543 62h4v4h-4zM355 66h4v4h-4zM387 66h4v4h-4zM459 66h4v4h-4zM527 66h4v4h-4zM579 66h4v4h-4zM359 70h4v4h-4zM387 70h4v4h-4zM527 70h4v4h-4zM547 70h4v4h-4zM579 70h4v4h-4zM359 74h4v4h-4zM387 74h4v4h-4zM399 74h4v4h-4zM491 74h4v4h-4zM527 74h4v4h-4zM547 74h4v4h-4zM583 74h4v4h-4zM395 78h4v4h-4zM403 78h4v4h-4zM491 78h4v4h-4zM527 78h4v4h-4zM547 78h4v4h-4zM395 82h4v4h-4zM459 82h4v4h-4zM527 82h4v4h-4zM363 86h4v4h-4zM395 86h4v4h-4zM459 86h4v4h-4zM527 86h4v4h-4zM363 90h4v4h-4zM395 90h4v4h-4zM407 90h4v4h-4zM459 90h4v4h-4zM527 90h4v4h-4zM363 94h4v4h-4zM395 94h4v4h-4zM451 94h4v4h-4zM459 94h4v4h-4zM527 94h4v4h-4zM535 94h8v4h-8zM547 94h4v4h-4zM587 94h4v4h-4zM603 94h4v4h-4zM363 98h4v4h-4zM395 98h4v4h-4zM451 98h4v4h-4zM487 98h4v4h-4zM527 98h4v4h-4zM535 98h16v4h-16zM587 98h4v4h-4zM603 98h4v4h-4zM363 102h4v4h-4zM395 102h4v4h-4zM451 102h4v4h-4zM487 102h4v4h-4zM527 102h4v4h-4zM535 102h4v4h-4zM603 102h4v4h-4zM363 106h4v4h-4zM395 106h4v4h-4zM463 106h4v4h-4zM487 106h4v4h-4zM527 106h8v4h-8zM603 106h4v4h-4zM363 110h4v4h-4zM463 110h4v4h-4zM487 110h4v4h-4zM527 110h8v4h-8zM603 110h4v4h-4zM363 114h4v4h-4zM399 114h4v4h-4zM467 114h4v4h-4zM527 114h8v4h-8zM603 114h4v4h-4zM399 118h4v4h-4zM447 118h4v4h-4zM467 118h4v4h-4zM527 118h8v4h-8zM591 118h4v4h-4zM399 122h4v4h-4zM467 122h4v4h-4zM499 122h4v4h-4zM527 122h8v4h-8zM579 122h4v4h-4zM591 122h4v4h-4zM359 126h4v4h-4zM467 126h4v4h-4zM499 126h4v4h-4zM527 126h4v4h-4zM579 126h4v4h-4zM591 126h8v4h-8zM359 130h4v4h-4zM451 130h4v4h-4zM467 130h4v4h-4zM499 130h4v4h-4zM527 130h4v4h-4zM591 130h12v4h-12zM351 134h12v4h-12zM451 134h4v4h-4zM467 134h8v4h-8zM527 134h4v4h-4zM591 134h12v4h-12zM351 138h8v4h-8zM467 138h8v4h-8zM583 138h20v4h-20zM351 142h8v4h-8zM467 142h8v4h-8zM583 142h12v4h-12zM599 142h4v4h-4zM347 146h12v4h-12zM399 146h4v4h-4zM455 146h4v4h-4zM467 146h8v4h-8zM487 146h4v4h-4zM587 146h8v4h-8zM347 150h8v4h-8zM399 150h4v4h-4zM455 150h4v4h-4zM467 150h8v4h-8zM487 150h4v4h-4zM591 150h4v4h-4zM615 150h4v4h-4zM347 154h4v4h-4zM399 154h4v4h-4zM455 154h4v4h-4zM467 154h8v4h-8zM487 154h4v4h-4zM495 154h4v4h-4zM567 154h4v4h-4zM591 154h4v4h-4zM607 154h12v4h-12zM399 158h4v4h-4zM467 158h8v4h-8zM495 158h4v4h-4zM567 158h4v4h-4zM591 158h4v4h-4zM607 158h4v4h-4zM371 162h4v4h-4zM467 162h8v4h-8zM567 162h4v4h-4zM367 166h8v4h-8zM467 166h8v4h-8zM491 166h4v4h-4zM511 166h4v4h-4zM567 166h4v4h-4zM455 170h4v4h-4zM467 170h8v4h-8zM491 170h4v4h-4zM511 170h4v4h-4zM567 170h8v4h-8zM455 174h4v4h-4zM467 174h8v4h-8zM491 174h4v4h-4zM507 174h8v4h-8zM567 174h8v4h-8zM363 178h4v4h-4zM455 178h4v4h-4zM467 178h8v4h-8zM507 178h8v4h-8zM567 178h12v4h-12zM587 178h4v4h-4zM363 182h4v4h-4zM455 182h4v4h-4zM467 182h8v4h-8zM507 182h4v4h-4zM567 182h4v4h-4zM587 182h4v4h-4zM363 186h4v4h-4zM455 186h4v4h-4zM467 186h8v4h-8zM507 186h4v4h-4zM567 186h4v4h-4zM579 186h4v4h-4zM587 186h4v4h-4zM455 190h4v4h-4zM467 190h8v4h-8zM507 190h4v4h-4zM567 190h4v4h-4zM579 190h4v4h-4zM587 190h4v4h-4zM399 194h4v4h-4zM455 194h4v4h-4zM467 194h4v4h-4zM507 194h8v4h-8zM567 194h4v4h-4zM583 194h8v4h-8zM603 194h4v4h-4zM399 198h4v4h-4zM463 198h4v4h-4zM507 198h8v4h-8zM567 198h4v4h-4zM583 198h8v4h-8zM603 198h4v4h-4zM359 202h4v4h-4zM463 202h4v4h-4zM511 202h4v4h-4zM567 202h4v4h-4zM583 202h8v4h-8zM603 202h4v4h-4zM359 206h4v4h-4zM463 206h4v4h-4zM511 206h4v4h-4zM587 206h4v4h-4zM603 206h4v4h-4zM459 210h8v4h-8zM511 210h4v4h-4zM543 210h4v4h-4zM587 210h8v4h-8zM603 210h4v4h-4zM355 214h4v4h-4zM403 214h4v4h-4zM459 214h4v4h-4zM511 214h4v4h-4zM527 214h4v4h-4zM543 214h4v4h-4zM587 214h8v4h-8zM355 218h4v4h-4zM403 218h4v4h-4zM531 218h4v4h-4zM539 218h8v4h-8zM587 218h8v4h-8zM599 218h4v4h-4zM407 222h4v4h-4zM491 222h4v4h-4zM523 222h4v4h-4zM535 222h12v4h-12zM587 222h8v4h-8zM599 222h4v4h-4zM491 226h8v4h-8zM523 226h4v4h-4zM539 226h8v4h-8zM587 226h8v4h-8zM599 226h4v4h-4zM351 230h4v4h-4zM371 230h4v4h-4zM491 230h16v4h-16zM539 230h8v4h-8zM587 230h4v4h-4zM599 230h4v4h-4zM351 234h4v4h-4zM371 234h4v4h-4zM491 234h4v4h-4zM503 234h4v4h-4zM539 234h4v4h-4zM595 234h4v4h-4zM351 238h4v4h-4zM519 238h4v4h-4zM539 238h4v4h-4zM595 238h4v4h-4zM351 242h4v4h-4zM367 242h4v4h-4zM519 242h4v4h-4zM539 242h4v4h-4zM563 242h4v4h-4zM595 242h4v4h-4zM347 246h8v4h-8zM367 246h4v4h-4zM507 246h4v4h-4zM519 246h4v4h-4zM539 246h4v4h-4zM563 246h4v4h-4zM595 246h4v4h-4zM347 250h4v4h-4zM507 250h4v4h-4zM519 250h4v4h-4zM539 250h4v4h-4zM563 250h4v4h-4zM595 250h4v4h-4zM363 254h4v4h-4zM507 254h4v4h-4zM539 254h4v4h-4zM563 254h4v4h-4zM595 254h4v4h-4zM507 258h4v4h-4zM515 258h4v4h-4zM563 258h4v4h-4zM615 258h4v4h-4zM399 262h8v4h-8zM507 262h4v4h-4zM515 262h4v4h-4zM563 262h4v4h-4zM615 262h4v4h-4zM359 266h4v4h-4zM399 266h8v4h-8zM507 266h4v4h-4zM515 266h4v4h-4zM563 266h4v4h-4zM615 266h4v4h-4zM359 270h4v4h-4zM399 270h4v4h-4zM459 270h4v4h-4zM507 270h12v4h-12zM563 270h4v4h-4zM615 270h4v4h-4zM355 274h4v4h-4zM507 274h12v4h-12zM563 274h8v4h-8zM355 278h4v4h-4zM379 278h4v4h-4zM507 278h12v4h-12zM567 278h8v4h-8zM347 282h4v4h-4zM355 282h4v4h-4zM379 282h4v4h-4zM507 282h4v4h-4zM515 282h4v4h-4zM571 282h4v4h-4zM347 286h4v4h-4zM355 286h4v4h-4zM379 286h4v4h-4zM507 286h4v4h-4zM515 286h4v4h-4zM523 286h8v4h-8zM539 286h4v4h-4zM571 286h4v4h-4zM347 290h4v4h-4zM355 290h4v4h-4zM379 290h4v4h-4zM507 290h4v4h-4zM515 290h12v4h-12zM531 290h4v4h-4zM539 290h4v4h-4zM571 290h4v4h-4zM351 294h8v4h-8zM399 294h4v4h-4zM515 294h8v4h-8zM531 294h4v4h-4zM539 294h4v4h-4zM571 294h4v4h-4zM595 294h4v4h-4zM351 298h8v4h-8zM399 298h4v4h-4zM519 298h4v4h-4zM531 298h4v4h-4zM539 298h8v4h-8zM571 298h4v4h-4zM595 298h4v4h-4zM351 302h8v4h-8zM399 302h4v4h-4zM491 302h4v4h-4zM539 302h8v4h-8zM571 302h4v4h-4zM595 302h4v4h-4zM399 306h4v4h-4zM491 306h4v4h-4zM503 306h4v4h-4zM543 306h4v4h-4zM571 306h4v4h-4zM595 306h4v4h-4zM399 310h4v4h-4zM503 310h4v4h-4zM543 310h4v4h-4zM595 310h4v4h-4zM399 314h4v4h-4zM507 314h12v4h-12zM595 314h4v4h-4zM399 318h4v4h-4zM527 318h12v4h-12zM567 318h4v4h-4zM399 322h4v4h-4zM547 322h24v4h-24zM587 322h8v4h-8zM399 326h8v4h-8zM583 326h24v4h-24zM403 330h4v4h-4zM603 330h16v4h-16zM403 334h4v4h-4zM603 334h16v4h-16zM403 338h4v4h-4zM599 338h20v4h-20zM599 342h20v4h-20zM599 346h20v4h-20zM599 350h20v4h-20zM599 354h20v4h-20zM375 358h8v4h-8zM599 358h20v4h-20z"/>
<path fill="#262626" d="M451 10h4v4h-4zM475 10h4v4h-4zM499 10h4v4h-4zM451 14h4v4h-4zM459 14h4v4h-4zM475 14h4v4h-4zM499 14h4v4h-4zM531 14h4v4h-4zM567 14h4v4h-4zM439 18h4v4h-4zM451 18h4v4h-4zM459 18h4v4h-4zM475 18h4v4h-4zM499 18h4v4h-4zM527 18h8v4h-8zM539 18h4v4h-4zM567 18h4v4h-4zM451 22h4v4h-4zM459 22h4v4h-4zM475 22h4v4h-4zM499 22h4v4h-4zM527 22h4v4h-4zM539 22h4v4h-4zM567 22h4v4h-4zM451 26h4v4h-4zM459 26h4v4h-4zM475 26h4v4h-4zM499 26h8v4h-8zM527 26h4v4h-4zM539 26h4v4h-4zM567 26h4v4h-4zM575 26h4v4h-4zM451 30h4v4h-4zM459 30h4v4h-4zM475 30h4v4h-4zM499 30h8v4h-8zM527 30h4v4h-4zM539 30h4v4h-4zM571 30h8v4h-8zM451 34h4v4h-4zM459 34h4v4h-4zM475 34h4v4h-4zM499 34h8v4h-8zM527 34h4v4h-4zM539 34h4v4h-4zM571 34h8v4h-8zM387 38h4v4h-4zM451 38h4v4h-4zM459 38h4v4h-4zM475 38h4v4h-4zM499 38h8v4h-8zM527 38h4v4h-4zM539 38h4v4h-4zM571 38h4v4h-4zM387 42h4v4h-4zM451 42h4v4h-4zM459 42h4v4h-4zM475 42h4v4h-4zM503 42h4v4h-4zM527 42h4v4h-4zM535 42h4v4h-4zM615 42h4v4h-4zM387 46h4v4h-4zM451 46h4v4h-4zM459 46h4v4h-4zM475 46h4v4h-4zM527 46h12v4h-12zM611 46h4v4h-4zM347 50h4v4h-4zM387 50h4v4h-4zM459 50h4v4h-4zM531 50h12v4h-12zM387 54h4v4h-4zM531 54h12v4h-12zM387 58h4v4h-4zM455 58h4v4h-4zM531 58h12v4h-12zM351 62h4v4h-4zM443 62h4v4h-4zM455 62h4v4h-4zM495 62h4v4h-4zM531 62h12v4h-12zM607 62h4v4h-4zM455 66h4v4h-4zM495 66h4v4h-4zM531 66h16v4h-16zM607 66h4v4h-4zM355 70h4v4h-4zM455 70h4v4h-4zM495 70h4v4h-4zM531 70h8v4h-8zM543 70h4v4h-4zM355 74h4v4h-4zM455 74h4v4h-4zM495 74h4v4h-4zM531 74h8v4h-8zM543 74h4v4h-4zM579 74h4v4h-4zM359 78h4v4h-4zM399 78h4v4h-4zM455 78h4v4h-4zM531 78h8v4h-8zM579 78h8v4h-8zM359 82h4v4h-4zM399 82h8v4h-8zM455 82h4v4h-4zM491 82h4v4h-4zM531 82h12v4h-12zM547 82h4v4h-4zM583 82h4v4h-4zM399 86h4v4h-4zM455 86h4v4h-4zM491 86h4v4h-4zM531 86h20v4h-20zM491 90h4v4h-4zM531 90h20v4h-20zM407 94h4v4h-4zM531 94h4v4h-4zM543 94h4v4h-4zM459 98h4v4h-4zM531 98h4v4h-4zM459 102h4v4h-4zM531 102h4v4h-4zM587 102h4v4h-4zM399 106h4v4h-4zM451 106h4v4h-4zM499 106h4v4h-4zM587 106h4v4h-4zM399 110h4v4h-4zM451 110h4v4h-4zM499 110h4v4h-4zM579 110h4v4h-4zM587 110h4v4h-4zM451 114h4v4h-4zM463 114h4v4h-4zM487 114h4v4h-4zM499 114h4v4h-4zM579 114h4v4h-4zM587 114h4v4h-4zM359 118h4v4h-4zM451 118h4v4h-4zM463 118h4v4h-4zM487 118h4v4h-4zM499 118h4v4h-4zM579 118h4v4h-4zM587 118h4v4h-4zM603 118h4v4h-4zM351 122h12v4h-12zM447 122h8v4h-8zM463 122h4v4h-4zM487 122h4v4h-4zM587 122h4v4h-4zM603 122h4v4h-4zM351 126h8v4h-8zM451 126h4v4h-4zM463 126h4v4h-4zM487 126h4v4h-4zM587 126h4v4h-4zM603 126h4v4h-4zM351 130h8v4h-8zM463 130h4v4h-4zM487 130h4v4h-4zM583 130h8v4h-8zM603 130h4v4h-4zM347 134h4v4h-4zM463 134h4v4h-4zM487 134h4v4h-4zM583 134h8v4h-8zM603 134h4v4h-4zM347 138h4v4h-4zM463 138h4v4h-4zM487 138h4v4h-4zM603 138h4v4h-4zM347 142h4v4h-4zM455 142h4v4h-4zM463 142h4v4h-4zM487 142h4v4h-4zM595 142h4v4h-4zM603 142h8v4h-8zM615 142h4v4h-4zM463 146h4v4h-4zM495 146h4v4h-4zM595 146h24v4h-24zM463 150h4v4h-4zM495 150h4v4h-4zM595 150h20v4h-20zM463 154h4v4h-4zM595 154h12v4h-12zM463 158h4v4h-4zM491 158h4v4h-4zM603 158h4v4h-4zM399 162h4v4h-4zM463 162h4v4h-4zM491 162h4v4h-4zM591 162h4v4h-4zM603 162h4v4h-4zM399 166h4v4h-4zM451 166h4v4h-4zM463 166h4v4h-4zM591 166h4v4h-4zM603 166h4v4h-4zM367 170h8v4h-8zM399 170h4v4h-4zM463 170h4v4h-4zM591 170h4v4h-4zM603 170h4v4h-4zM367 174h8v4h-8zM399 174h4v4h-4zM463 174h4v4h-4zM591 174h4v4h-4zM603 174h4v4h-4zM399 178h4v4h-4zM463 178h4v4h-4zM591 178h4v4h-4zM603 178h4v4h-4zM399 182h4v4h-4zM463 182h4v4h-4zM511 182h4v4h-4zM571 182h8v4h-8zM591 182h4v4h-4zM603 182h4v4h-4zM399 186h4v4h-4zM463 186h4v4h-4zM511 186h4v4h-4zM571 186h8v4h-8zM591 186h4v4h-4zM603 186h4v4h-4zM363 190h4v4h-4zM399 190h4v4h-4zM463 190h4v4h-4zM511 190h4v4h-4zM591 190h4v4h-4zM603 190h4v4h-4zM363 194h4v4h-4zM463 194h4v4h-4zM579 194h4v4h-4zM591 194h4v4h-4zM363 198h4v4h-4zM455 198h4v4h-4zM591 198h4v4h-4zM459 202h4v4h-4zM591 202h4v4h-4zM599 202h4v4h-4zM403 206h4v4h-4zM459 206h4v4h-4zM567 206h4v4h-4zM583 206h4v4h-4zM591 206h12v4h-12zM359 210h4v4h-4zM403 210h4v4h-4zM567 210h4v4h-4zM583 210h4v4h-4zM595 210h8v4h-8zM359 214h4v4h-4zM407 214h4v4h-4zM567 214h4v4h-4zM583 214h4v4h-4zM595 214h8v4h-8zM407 218h4v4h-4zM527 218h4v4h-4zM567 218h4v4h-4zM583 218h4v4h-4zM595 218h4v4h-4zM355 222h4v4h-4zM527 222h8v4h-8zM583 222h4v4h-4zM595 222h4v4h-4zM355 226h4v4h-4zM371 226h4v4h-4zM535 226h4v4h-4zM583 226h4v4h-4zM595 226h4v4h-4zM355 230h4v4h-4zM523 230h4v4h-4zM535 230h4v4h-4zM583 230h4v4h-4zM591 230h8v4h-8zM495 234h8v4h-8zM523 234h4v4h-4zM535 234h4v4h-4zM583 234h12v4h-12zM367 238h4v4h-4zM491 238h16v4h-16zM587 238h8v4h-8zM491 242h4v4h-4zM503 242h4v4h-4zM587 242h8v4h-8zM491 246h4v4h-4zM503 246h4v4h-4zM591 246h4v4h-4zM351 250h8v4h-8zM363 250h4v4h-4zM491 250h4v4h-4zM347 254h12v4h-12zM491 254h4v4h-4zM519 254h4v4h-4zM535 254h4v4h-4zM347 258h16v4h-16zM491 258h4v4h-4zM519 258h4v4h-4zM535 258h4v4h-4zM347 262h16v4h-16zM491 262h4v4h-4zM519 262h4v4h-4zM535 262h4v4h-4zM347 266h12v4h-12zM491 266h4v4h-4zM519 266h4v4h-4zM535 266h4v4h-4zM567 266h4v4h-4zM347 270h12v4h-12zM403 270h4v4h-4zM491 270h4v4h-4zM519 270h4v4h-4zM535 270h4v4h-4zM567 270h8v4h-8zM347 274h8v4h-8zM399 274h8v4h-8zM491 274h4v4h-4zM519 274h4v4h-4zM535 274h4v4h-4zM571 274h8v4h-8zM347 278h8v4h-8zM399 278h8v4h-8zM491 278h4v4h-4zM519 278h8v4h-8zM531 278h8v4h-8zM575 278h4v4h-4zM351 282h4v4h-4zM399 282h8v4h-8zM491 282h4v4h-4zM519 282h20v4h-20zM575 282h4v4h-4zM351 286h4v4h-4zM399 286h8v4h-8zM491 286h4v4h-4zM519 286h4v4h-4zM531 286h8v4h-8zM575 286h4v4h-4zM351 290h4v4h-4zM399 290h4v4h-4zM491 290h4v4h-4zM535 290h4v4h-4zM575 290h4v4h-4zM491 294h4v4h-4zM503 294h4v4h-4zM535 294h4v4h-4zM403 298h4v4h-4zM479 298h4v4h-4zM491 298h4v4h-4zM503 298h4v4h-4zM535 298h4v4h-4zM403 302h4v4h-4zM503 302h4v4h-4zM535 302h4v4h-4zM403 306h4v4h-4zM535 306h8v4h-8zM403 310h4v4h-4zM495 310h4v4h-4zM535 310h8v4h-8zM571 310h4v4h-4zM403 314h4v4h-4zM503 314h4v4h-4zM535 314h12v4h-12zM571 314h4v4h-4zM591 314h4v4h-4zM403 318h4v4h-4zM519 318h8v4h-8zM539 318h8v4h-8zM571 318h4v4h-4zM583 318h12v4h-12zM403 322h4v4h-4zM531 322h16v4h-16zM583 322h4v4h-4zM559 326h12v4h-12zM579 330h24v4h-24zM579 334h24v4h-24zM579 338h20v4h-20zM579 342h20v4h-20zM579 346h20v4h-20zM579 350h20v4h-20zM579 354h20v4h-20zM579 358h20v4h-20z"/>
<path fill="#282828" d="M455 10h4v4h-4zM535 10h8v4h-8zM567 10h4v4h-4zM575 10h4v4h-4zM455 14h4v4h-4zM535 14h8v4h-8zM571 14h8v4h-8zM455 18h4v4h-4zM535 18h4v4h-4zM571 18h8v4h-8zM439 22h4v4h-4zM455 22h4v4h-4zM531 22h8v4h-8zM571 22h8v4h-8zM455 26h4v4h-4zM531 26h8v4h-8zM571 26h4v4h-4zM455 30h4v4h-4zM531 30h8v4h-8zM455 34h4v4h-4zM531 34h8v4h-8zM455 38h4v4h-4zM531 38h8v4h-8zM455 42h4v4h-4zM499 42h4v4h-4zM531 42h4v4h-4zM455 46h4v4h-4zM499 46h4v4h-4zM615 46h4v4h-4zM455 50h4v4h-4zM499 50h4v4h-4zM611 50h8v4h-8zM347 54h4v4h-4zM455 54h4v4h-4zM499 54h4v4h-4zM499 58h4v4h-4zM499 62h4v4h-4zM351 66h4v4h-4zM443 66h4v4h-4zM499 66h4v4h-4zM351 70h4v4h-4zM499 70h4v4h-4zM539 70h4v4h-4zM607 70h4v4h-4zM499 74h4v4h-4zM539 74h4v4h-4zM607 74h4v4h-4zM355 78h4v4h-4zM495 78h8v4h-8zM539 78h8v4h-8zM355 82h4v4h-4zM495 82h8v4h-8zM543 82h4v4h-4zM579 82h4v4h-4zM355 86h8v4h-8zM403 86h4v4h-4zM495 86h8v4h-8zM579 86h8v4h-8zM359 90h4v4h-4zM399 90h8v4h-8zM455 90h4v4h-4zM499 90h4v4h-4zM579 90h8v4h-8zM359 94h4v4h-4zM399 94h8v4h-8zM455 94h4v4h-4zM491 94h4v4h-4zM499 94h4v4h-4zM579 94h4v4h-4zM359 98h4v4h-4zM399 98h4v4h-4zM407 98h4v4h-4zM455 98h4v4h-4zM491 98h4v4h-4zM499 98h4v4h-4zM579 98h4v4h-4zM359 102h4v4h-4zM399 102h4v4h-4zM499 102h4v4h-4zM579 102h4v4h-4zM359 106h4v4h-4zM459 106h4v4h-4zM579 106h4v4h-4zM355 110h8v4h-8zM459 110h4v4h-4zM351 114h12v4h-12zM351 118h8v4h-8zM583 118h4v4h-4zM347 122h4v4h-4zM583 122h4v4h-4zM347 126h4v4h-4zM447 126h4v4h-4zM583 126h4v4h-4zM347 130h4v4h-4zM403 130h4v4h-4zM403 134h4v4h-4zM455 134h4v4h-4zM607 134h4v4h-4zM615 134h4v4h-4zM455 138h8v4h-8zM495 138h4v4h-4zM607 138h12v4h-12zM459 142h4v4h-4zM495 142h4v4h-4zM611 142h4v4h-4zM459 146h4v4h-4zM491 146h4v4h-4zM459 150h4v4h-4zM491 150h4v4h-4zM459 154h4v4h-4zM491 154h4v4h-4zM459 158h4v4h-4zM595 158h8v4h-8zM459 162h4v4h-4zM595 162h8v4h-8zM459 166h4v4h-4zM595 166h8v4h-8zM459 170h4v4h-4zM595 170h8v4h-8zM459 174h4v4h-4zM595 174h8v4h-8zM367 178h8v4h-8zM459 178h4v4h-4zM595 178h8v4h-8zM367 182h8v4h-8zM459 182h4v4h-4zM595 182h8v4h-8zM459 186h4v4h-4zM595 186h8v4h-8zM459 190h4v4h-4zM571 190h8v4h-8zM595 190h8v4h-8zM459 194h4v4h-4zM571 194h4v4h-4zM595 194h8v4h-8zM459 198h4v4h-4zM579 198h4v4h-4zM595 198h8v4h-8zM363 202h4v4h-4zM403 202h4v4h-4zM579 202h4v4h-4zM595 202h4v4h-4zM363 206h4v4h-4zM363 210h4v4h-4zM407 210h4v4h-4zM359 218h4v4h-4zM371 218h4v4h-4zM359 222h4v4h-4zM371 222h4v4h-4zM567 222h4v4h-4zM359 226h4v4h-4zM527 226h8v4h-8zM567 226h4v4h-4zM531 230h4v4h-4zM567 230h4v4h-4zM355 234h4v4h-4zM367 234h4v4h-4zM567 234h4v4h-4zM355 238h4v4h-4zM363 238h4v4h-4zM523 238h4v4h-4zM535 238h4v4h-4zM567 238h4v4h-4zM583 238h4v4h-4zM355 242h4v4h-4zM363 242h4v4h-4zM495 242h8v4h-8zM523 242h4v4h-4zM535 242h4v4h-4zM567 242h4v4h-4zM583 242h4v4h-4zM355 246h12v4h-12zM495 246h8v4h-8zM523 246h4v4h-4zM535 246h4v4h-4zM567 246h4v4h-4zM583 246h8v4h-8zM359 250h4v4h-4zM503 250h4v4h-4zM523 250h4v4h-4zM535 250h4v4h-4zM567 250h4v4h-4zM583 250h12v4h-12zM359 254h4v4h-4zM503 254h4v4h-4zM567 254h4v4h-4zM583 254h12v4h-12zM503 258h4v4h-4zM567 258h4v4h-4zM583 258h4v4h-4zM591 258h4v4h-4zM503 262h4v4h-4zM567 262h16v4h-16zM591 262h4v4h-4zM531 266h4v4h-4zM571 266h12v4h-12zM523 270h4v4h-4zM531 270h4v4h-4zM575 270h8v4h-8zM523 274h12v4h-12zM579 274h4v4h-4zM527 278h4v4h-4zM579 278h4v4h-4zM503 282h4v4h-4zM503 286h4v4h-4zM403 290h4v4h-4zM503 290h4v4h-4zM403 294h4v4h-4zM495 294h4v4h-4zM575 294h4v4h-4zM495 298h4v4h-4zM575 298h4v4h-4zM483 302h4v4h-4zM495 302h8v4h-8zM575 302h4v4h-4zM591 302h4v4h-4zM495 306h8v4h-8zM575 306h4v4h-4zM591 306h4v4h-4zM499 310h4v4h-4zM575 310h4v4h-4zM583 310h12v4h-12zM499 314h4v4h-4zM575 314h16v4h-16zM511 318h8v4h-8zM575 318h8v4h-8zM523 322h8v4h-8zM571 322h12v4h-12zM531 326h28v4h-28zM571 326h12v4h-12zM551 330h28v4h-28zM547 334h32v4h-32zM559 338h12v4h-12zM575 338h4v4h-4zM559 342h12v4h-12zM575 342h4v4h-4zM559 346h12v4h-12zM575 346h4v4h-4zM559 350h12v4h-12zM575 350h4v4h-4zM559 354h12v4h-12zM575 354h4v4h-4zM559 358h12v4h-12zM575 358h4v4h-4z"/>
<path fill="#2a2a2a" d="M571 10h4v4h-4zM439 26h4v4h-4zM611 54h8v4h-8zM347 58h4v4h-4zM611 58h4v4h-4zM347 62h4v4h-4zM443 70h4v4h-4zM351 74h4v4h-4zM351 78h4v4h-4zM607 78h4v4h-4zM351 82h4v4h-4zM607 82h4v4h-4zM351 86h4v4h-4zM355 90h4v4h-4zM495 90h4v4h-4zM355 94h4v4h-4zM495 94h4v4h-4zM583 94h4v4h-4zM351 98h8v4h-8zM403 98h4v4h-4zM495 98h4v4h-4zM583 98h4v4h-4zM351 102h8v4h-8zM403 102h8v4h-8zM455 102h4v4h-4zM491 102h4v4h-4zM583 102h4v4h-4zM351 106h8v4h-8zM403 106h4v4h-4zM455 106h4v4h-4zM491 106h4v4h-4zM583 106h4v4h-4zM347 110h8v4h-8zM403 110h4v4h-4zM455 110h4v4h-4zM583 110h4v4h-4zM347 114h4v4h-4zM403 114h4v4h-4zM455 114h8v4h-8zM583 114h4v4h-4zM347 118h4v4h-4zM403 118h4v4h-4zM455 118h8v4h-8zM403 122h4v4h-4zM455 122h8v4h-8zM403 126h4v4h-4zM455 126h8v4h-8zM607 126h4v4h-4zM615 126h4v4h-4zM447 130h4v4h-4zM455 130h8v4h-8zM495 130h4v4h-4zM607 130h4v4h-4zM615 130h4v4h-4zM459 134h4v4h-4zM495 134h4v4h-4zM611 134h4v4h-4zM403 138h4v4h-4zM491 138h4v4h-4zM403 142h4v4h-4zM491 142h4v4h-4zM403 146h4v4h-4zM403 150h4v4h-4zM403 154h4v4h-4zM403 158h4v4h-4zM451 170h4v4h-4zM367 186h8v4h-8zM367 190h8v4h-8zM403 190h4v4h-4zM371 194h4v4h-4zM403 194h4v4h-4zM575 194h4v4h-4zM371 198h4v4h-4zM403 198h4v4h-4zM571 198h8v4h-8zM371 202h4v4h-4zM455 202h4v4h-4zM571 202h4v4h-4zM371 206h4v4h-4zM407 206h4v4h-4zM579 206h4v4h-4zM371 210h4v4h-4zM579 210h4v4h-4zM363 214h4v4h-4zM371 214h4v4h-4zM363 218h4v4h-4zM363 222h4v4h-4zM363 226h8v4h-8zM359 230h12v4h-12zM527 230h4v4h-4zM359 234h8v4h-8zM527 234h8v4h-8zM359 238h4v4h-4zM531 238h4v4h-4zM359 242h4v4h-4zM531 242h4v4h-4zM455 246h4v4h-4zM531 246h4v4h-4zM579 246h4v4h-4zM495 250h8v4h-8zM531 250h4v4h-4zM579 250h4v4h-4zM495 254h8v4h-8zM523 254h4v4h-4zM531 254h4v4h-4zM571 254h4v4h-4zM579 254h4v4h-4zM495 258h4v4h-4zM523 258h4v4h-4zM531 258h4v4h-4zM571 258h12v4h-12zM587 258h4v4h-4zM495 262h4v4h-4zM523 262h4v4h-4zM531 262h4v4h-4zM583 262h8v4h-8zM495 266h4v4h-4zM503 266h4v4h-4zM523 266h8v4h-8zM583 266h4v4h-4zM591 266h4v4h-4zM495 270h4v4h-4zM503 270h4v4h-4zM527 270h4v4h-4zM583 270h4v4h-4zM591 270h4v4h-4zM495 274h4v4h-4zM503 274h4v4h-4zM583 274h4v4h-4zM591 274h4v4h-4zM495 278h4v4h-4zM503 278h4v4h-4zM591 278h4v4h-4zM495 282h4v4h-4zM579 282h4v4h-4zM591 282h4v4h-4zM495 286h4v4h-4zM579 286h4v4h-4zM591 286h4v4h-4zM495 290h8v4h-8zM579 290h4v4h-4zM591 290h4v4h-4zM499 294h4v4h-4zM579 294h8v4h-8zM591 294h4v4h-4zM499 298h4v4h-4zM579 298h8v4h-8zM591 298h4v4h-4zM579 302h12v4h-12zM487 306h4v4h-4zM579 306h12v4h-12zM579 310h4v4h-4zM503 318h8v4h-8zM519 322h4v4h-4zM523 326h8v4h-8zM531 330h20v4h-20zM543 334h4v4h-4zM551 338h8v4h-8zM571 338h4v4h-4zM547 342h12v4h-12zM571 342h4v4h-4zM547 346h12v4h-12zM571 346h4v4h-4zM547 350h12v4h-12zM571 350h4v4h-4zM547 354h12v4h-12zM571 354h4v4h-4zM547 358h12v4h-12zM571 358h4v4h-4z"/>
<path fill="#2c2c2c" d="M439 30h4v4h-4zM615 58h4v4h-4zM611 62h4v4h-4zM347 66h4v4h-4zM347 70h4v4h-4zM443 74h4v4h-4zM607 86h4v4h-4zM351 90h4v4h-4zM607 90h4v4h-4zM351 94h4v4h-4zM607 94h4v4h-4zM347 102h4v4h-4zM495 102h4v4h-4zM347 106h4v4h-4zM407 106h4v4h-4zM495 106h4v4h-4zM407 110h4v4h-4zM491 110h8v4h-8zM607 110h4v4h-4zM407 114h4v4h-4zM491 114h8v4h-8zM607 114h4v4h-4zM491 118h8v4h-8zM607 118h4v4h-4zM615 118h4v4h-4zM491 122h8v4h-8zM607 122h4v4h-4zM615 122h4v4h-4zM491 126h8v4h-8zM611 126h4v4h-4zM491 130h4v4h-4zM611 130h4v4h-4zM447 134h4v4h-4zM491 134h4v4h-4zM403 162h4v4h-4zM403 166h4v4h-4zM403 170h4v4h-4zM403 174h4v4h-4zM451 174h4v4h-4zM403 178h4v4h-4zM403 182h4v4h-4zM403 186h4v4h-4zM367 194h4v4h-4zM367 198h4v4h-4zM407 198h4v4h-4zM367 202h4v4h-4zM407 202h4v4h-4zM575 202h4v4h-4zM367 206h4v4h-4zM571 206h4v4h-4zM367 210h4v4h-4zM571 210h4v4h-4zM367 214h4v4h-4zM579 214h4v4h-4zM367 218h4v4h-4zM579 218h4v4h-4zM367 222h4v4h-4zM579 222h4v4h-4zM579 226h4v4h-4zM455 230h4v4h-4zM579 230h4v4h-4zM455 234h4v4h-4zM579 234h4v4h-4zM455 238h4v4h-4zM527 238h4v4h-4zM579 238h4v4h-4zM455 242h4v4h-4zM527 242h4v4h-4zM579 242h4v4h-4zM527 246h4v4h-4zM571 246h4v4h-4zM455 250h4v4h-4zM527 250h4v4h-4zM571 250h8v4h-8zM527 254h4v4h-4zM575 254h4v4h-4zM499 258h4v4h-4zM527 258h4v4h-4zM499 262h4v4h-4zM527 262h4v4h-4zM499 266h4v4h-4zM587 266h4v4h-4zM499 270h4v4h-4zM587 270h4v4h-4zM499 274h4v4h-4zM587 274h4v4h-4zM499 278h4v4h-4zM583 278h4v4h-4zM463 282h4v4h-4zM499 282h4v4h-4zM583 282h4v4h-4zM499 286h4v4h-4zM583 286h4v4h-4zM583 290h8v4h-8zM587 294h4v4h-4zM587 298h4v4h-4zM491 310h4v4h-4zM515 322h4v4h-4zM527 330h4v4h-4zM539 334h4v4h-4zM543 338h8v4h-8zM543 342h4v4h-4zM543 346h4v4h-4zM543 350h4v4h-4zM543 354h4v4h-4zM543 358h4v4h-4z"/>
<path fill="#2e2e2e" d="M439 34h4v4h-4zM615 62h4v4h-4zM611 66h8v4h-8zM611 70h4v4h-4zM347 74h4v4h-4zM347 78h4v4h-4zM443 78h4v4h-4zM347 82h4v4h-4zM347 86h4v4h-4zM347 90h4v4h-4zM347 94h4v4h-4zM347 98h4v4h-4zM607 98h4v4h-4zM607 102h4v4h-4zM607 106h4v4h-4zM615 110h4v4h-4zM615 114h4v4h-4zM407 118h4v4h-4zM611 118h4v4h-4zM407 122h4v4h-4zM611 122h4v4h-4zM407 126h4v4h-4zM407 130h4v4h-4zM407 134h4v4h-4zM407 138h4v4h-4zM447 138h4v4h-4zM407 142h4v4h-4zM407 146h4v4h-4zM407 150h4v4h-4zM407 154h4v4h-4zM407 158h4v4h-4zM407 162h4v4h-4zM407 166h4v4h-4zM407 170h4v4h-4zM407 174h4v4h-4zM407 178h4v4h-4zM407 182h4v4h-4zM407 186h4v4h-4zM407 190h4v4h-4zM407 194h4v4h-4zM455 206h4v4h-4zM575 206h4v4h-4zM575 210h4v4h-4zM455 214h4v4h-4zM571 214h4v4h-4zM455 218h4v4h-4zM571 218h4v4h-4zM455 222h4v4h-4zM571 222h4v4h-4zM455 226h4v4h-4zM571 226h4v4h-4zM571 230h4v4h-4zM571 234h4v4h-4zM571 238h4v4h-4zM571 242h8v4h-8zM575 246h4v4h-4zM455 254h4v4h-4zM459 274h4v4h-4zM587 278h4v4h-4zM587 282h4v4h-4zM587 286h4v4h-4zM495 314h4v4h-4zM507 322h8v4h-8zM519 326h4v4h-4zM535 334h4v4h-4zM535 338h8v4h-8zM539 342h4v4h-4zM539 346h4v4h-4zM539 350h4v4h-4zM539 354h4v4h-4zM539 358h4v4h-4z"/>
<path fill="#303030" d="M439 38h4v4h-4zM615 70h4v4h-4zM611 74h8v4h-8zM611 78h4v4h-4zM443 82h4v4h-4zM615 98h4v4h-4zM615 102h4v4h-4zM615 106h4v4h-4zM611 110h4v4h-4zM611 114h4v4h-4zM447 142h4v4h-4zM451 178h4v4h-4zM455 210h4v4h-4zM575 214h4v4h-4zM575 218h4v4h-4zM575 222h4v4h-4zM575 226h4v4h-4zM575 230h4v4h-4zM575 234h4v4h-4zM575 238h4v4h-4zM467 290h4v4h-4zM499 318h4v4h-4zM515 326h4v4h-4zM523 330h4v4h-4zM527 334h8v4h-8zM531 338h4v4h-4z"/>
<path fill="#323232" d="M439 42h4v4h-4zM615 78h4v4h-4zM611 82h8v4h-8zM443 86h4v4h-4zM611 86h8v4h-8zM611 90h8v4h-8zM611 94h8v4h-8zM611 98h4v4h-4zM611 102h4v4h-4zM611 106h4v4h-4zM455 258h4v4h-4zM471 294h4v4h-4zM503 322h4v4h-4zM511 326h4v4h-4zM519 330h4v4h-4zM523 334h4v4h-4zM535 342h4v4h-4zM535 346h4v4h-4zM535 350h4v4h-4zM535 354h4v4h-4zM535 358h4v4h-4z"/>
<path fill="#343434" d="M439 46h4v4h-4zM439 50h4v4h-4zM439 54h4v4h-4zM443 90h4v4h-4zM443 94h4v4h-4zM447 146h4v4h-4zM451 182h4v4h-4zM455 262h4v4h-4zM463 286h4v4h-4zM475 298h4v4h-4zM515 330h4v4h-4zM531 342h4v4h-4zM531 346h4v4h-4zM531 350h4v4h-4zM531 354h4v4h-4zM531 358h4v4h-4z"/>
<path fill="#363636" d="M435 10h4v4h-4zM435 14h4v4h-4zM439 58h4v4h-4zM439 62h4v4h-4zM443 98h4v4h-4zM443 102h4v4h-4zM443 106h4v4h-4zM447 150h4v4h-4zM455 266h4v4h-4zM479 302h4v4h-4zM407 306h4v4h-4zM407 310h4v4h-4zM507 326h4v4h-4zM527 338h4v4h-4z"/>
<path fill="#383838" d="M435 18h4v4h-4zM435 22h4v4h-4zM435 26h4v4h-4zM439 66h4v4h-4zM439 70h4v4h-4zM439 74h4v4h-4zM443 110h4v4h-4zM443 114h4v4h-4zM443 118h4v4h-4zM447 154h4v4h-4zM451 186h4v4h-4zM407 238h4v4h-4zM459 278h4v4h-4zM407 302h4v4h-4zM483 306h4v4h-4zM487 310h4v4h-4zM407 314h4v4h-4zM407 318h4v4h-4zM527 342h4v4h-4zM527 346h4v4h-4zM527 350h4v4h-4zM527 354h4v4h-4zM527 358h4v4h-4z"/>
<path fill="#3a3a3a" d="M411 10h4v4h-4zM411 14h4v4h-4zM411 18h4v4h-4zM411 22h4v4h-4zM411 26h4v4h-4zM411 30h4v4h-4zM435 30h4v4h-4zM411 34h4v4h-4zM435 34h4v4h-4zM411 38h4v4h-4zM435 38h4v4h-4zM411 42h4v4h-4zM411 46h4v4h-4zM411 50h4v4h-4zM411 54h4v4h-4zM411 58h4v4h-4zM411 62h4v4h-4zM411 66h4v4h-4zM411 70h4v4h-4zM411 74h4v4h-4zM411 78h4v4h-4zM439 78h4v4h-4zM443 122h4v4h-4zM447 158h4v4h-4zM451 190h4v4h-4zM407 242h4v4h-4zM407 246h4v4h-4zM407 298h4v4h-4zM491 314h4v4h-4zM407 322h4v4h-4zM511 330h4v4h-4zM519 334h4v4h-4z"/>
<path fill="#3c3c3c" d="M435 42h4v4h-4zM435 46h4v4h-4zM435 50h4v4h-4zM411 82h4v4h-4zM439 82h4v4h-4zM411 86h4v4h-4zM439 86h4v4h-4zM411 90h4v4h-4zM411 94h4v4h-4zM411 98h4v4h-4zM411 102h4v4h-4zM411 106h4v4h-4zM411 110h4v4h-4zM411 114h4v4h-4zM411 118h4v4h-4zM411 122h4v4h-4zM411 126h4v4h-4zM443 126h4v4h-4zM411 130h4v4h-4zM443 130h4v4h-4zM411 134h4v4h-4zM411 138h4v4h-4zM411 142h4v4h-4zM411 146h4v4h-4zM411 150h4v4h-4zM411 154h4v4h-4zM411 158h4v4h-4zM411 162h4v4h-4zM447 162h4v4h-4zM411 166h4v4h-4zM411 170h4v4h-4zM411 174h4v4h-4zM411 178h4v4h-4zM411 182h4v4h-4zM411 186h4v4h-4zM411 190h4v4h-4zM411 194h4v4h-4zM451 194h4v4h-4zM411 198h4v4h-4zM411 202h4v4h-4zM411 206h4v4h-4zM407 250h4v4h-4zM407 254h4v4h-4zM407 258h4v4h-4zM407 290h4v4h-4zM407 294h4v4h-4zM411 306h4v4h-4zM411 310h4v4h-4zM495 318h4v4h-4zM407 326h4v4h-4zM407 330h4v4h-4zM523 338h4v4h-4zM523 342h4v4h-4zM403 346h4v4h-4zM403 350h4v4h-4zM403 354h4v4h-4zM403 358h4v4h-4z"/>
<path fill="#3e3e3e" d="M431 10h4v4h-4zM435 54h4v4h-4zM435 58h4v4h-4zM435 62h4v4h-4zM435 66h4v4h-4zM439 90h4v4h-4zM439 94h4v4h-4zM443 134h4v4h-4zM447 166h4v4h-4zM451 198h4v4h-4zM411 210h4v4h-4zM411 214h4v4h-4zM407 262h4v4h-4zM407 266h4v4h-4zM407 270h4v4h-4zM455 270h4v4h-4zM407 274h4v4h-4zM407 278h4v4h-4zM407 282h4v4h-4zM407 286h4v4h-4zM411 314h4v4h-4zM411 318h4v4h-4zM499 322h4v4h-4zM407 334h4v4h-4zM523 346h4v4h-4zM523 350h4v4h-4zM523 354h4v4h-4zM523 358h4v4h-4z"/>
<path fill="#404040" d="M431 14h4v4h-4zM431 18h4v4h-4zM431 22h4v4h-4zM431 26h4v4h-4zM431 30h4v4h-4zM435 70h4v4h-4zM435 74h4v4h-4zM439 98h4v4h-4zM439 102h4v4h-4zM443 138h4v4h-4zM447 170h4v4h-4zM447 174h4v4h-4zM451 202h4v4h-4zM451 206h4v4h-4zM411 218h4v4h-4zM459 282h4v4h-4zM411 302h4v4h-4zM411 322h4v4h-4zM411 326h4v4h-4zM503 326h4v4h-4zM407 338h4v4h-4z"/>
<path fill="#424242" d="M415 10h4v4h-4zM415 14h4v4h-4zM415 18h4v4h-4zM415 22h4v4h-4zM415 26h4v4h-4zM431 34h4v4h-4zM431 38h4v4h-4zM431 42h4v4h-4zM431 46h4v4h-4zM431 50h4v4h-4zM431 54h4v4h-4zM431 58h4v4h-4zM435 78h4v4h-4zM439 106h4v4h-4zM439 110h4v4h-4zM443 142h4v4h-4zM447 178h4v4h-4zM451 210h4v4h-4zM411 222h4v4h-4zM411 226h4v4h-4zM463 290h4v4h-4zM411 298h4v4h-4zM411 330h4v4h-4zM515 334h4v4h-4zM519 338h4v4h-4z"/>
<path fill="#444444" d="M415 30h4v4h-4zM415 34h4v4h-4zM415 38h4v4h-4zM415 42h4v4h-4zM415 46h4v4h-4zM415 50h4v4h-4zM415 54h4v4h-4zM415 58h4v4h-4zM415 62h4v4h-4zM431 62h4v4h-4zM415 66h4v4h-4zM431 66h4v4h-4zM435 82h4v4h-4zM435 86h4v4h-4zM439 114h4v4h-4zM439 118h4v4h-4zM443 146h4v4h-4zM443 150h4v4h-4zM447 182h4v4h-4zM451 214h4v4h-4zM451 218h4v4h-4zM451 222h4v4h-4zM411 230h4v4h-4zM411 234h4v4h-4zM467 294h4v4h-4zM471 298h4v4h-4zM475 302h4v4h-4zM411 334h4v4h-4zM407 342h4v4h-4zM519 342h4v4h-4zM407 346h4v4h-4zM519 346h4v4h-4zM407 350h4v4h-4zM519 350h4v4h-4zM407 354h4v4h-4zM519 354h4v4h-4zM407 358h4v4h-4zM519 358h4v4h-4z"/>
<path fill="#464646" d="M427 10h4v4h-4zM427 14h4v4h-4zM427 18h4v4h-4zM427 22h4v4h-4zM427 26h4v4h-4zM427 30h4v4h-4zM427 34h4v4h-4zM415 70h4v4h-4zM431 70h4v4h-4zM415 74h4v4h-4zM431 74h4v4h-4zM435 90h4v4h-4zM435 94h4v4h-4zM439 122h4v4h-4zM443 154h4v4h-4zM447 186h4v4h-4zM451 226h4v4h-4zM451 230h4v4h-4zM451 234h4v4h-4zM411 238h4v4h-4zM451 238h4v4h-4zM451 242h4v4h-4zM451 246h4v4h-4zM411 294h4v4h-4zM479 306h4v4h-4zM483 310h4v4h-4zM507 330h4v4h-4z"/>
<path fill="#484848" d="M423 10h4v4h-4zM423 14h4v4h-4zM423 18h4v4h-4zM423 22h4v4h-4zM423 26h4v4h-4zM423 30h4v4h-4zM427 38h4v4h-4zM427 42h4v4h-4zM427 46h4v4h-4zM427 50h4v4h-4zM427 54h4v4h-4zM427 58h4v4h-4zM427 62h4v4h-4zM427 66h4v4h-4zM415 78h4v4h-4zM431 78h4v4h-4zM415 82h4v4h-4zM415 86h4v4h-4zM435 98h4v4h-4zM439 126h4v4h-4zM443 158h4v4h-4zM447 190h4v4h-4zM411 242h4v4h-4zM411 246h4v4h-4zM411 250h4v4h-4zM451 250h4v4h-4zM411 254h4v4h-4zM455 274h4v4h-4zM459 286h4v4h-4zM411 290h4v4h-4zM415 310h4v4h-4zM415 314h4v4h-4zM487 314h4v4h-4zM415 318h4v4h-4zM411 338h4v4h-4zM515 338h4v4h-4z"/>
<path fill="#4a4a4a" d="M419 10h4v4h-4zM419 14h4v4h-4zM419 18h4v4h-4zM419 22h4v4h-4zM419 26h4v4h-4zM419 30h4v4h-4zM419 34h8v4h-8zM419 38h8v4h-8zM419 42h8v4h-8zM419 46h8v4h-8zM419 50h8v4h-8zM419 54h8v4h-8zM423 58h4v4h-4zM423 62h4v4h-4zM423 66h4v4h-4zM427 70h4v4h-4zM431 82h4v4h-4zM415 90h4v4h-4zM415 94h4v4h-4zM435 102h4v4h-4zM439 130h4v4h-4zM443 162h4v4h-4zM447 194h4v4h-4zM451 254h4v4h-4zM411 258h4v4h-4zM411 262h4v4h-4zM411 266h4v4h-4zM411 270h4v4h-4zM411 274h4v4h-4zM411 278h4v4h-4zM411 282h4v4h-4zM411 286h4v4h-4zM491 318h4v4h-4zM415 322h4v4h-4zM415 326h4v4h-4zM415 330h4v4h-4zM511 334h4v4h-4zM411 342h4v4h-4zM411 346h4v4h-4zM411 350h4v4h-4zM411 354h4v4h-4zM411 358h4v4h-4z"/>
<path fill="#4c4c4c" d="M419 58h4v4h-4zM419 62h4v4h-4zM419 66h4v4h-4zM423 70h4v4h-4zM427 74h4v4h-4zM431 86h4v4h-4zM415 98h4v4h-4zM435 106h4v4h-4zM439 134h4v4h-4zM443 166h4v4h-4zM447 198h4v4h-4zM415 306h4v4h-4zM495 322h4v4h-4zM415 334h4v4h-4zM515 342h4v4h-4zM515 346h4v4h-4zM515 350h4v4h-4zM515 354h4v4h-4zM515 358h4v4h-4z"/>
<path fill="#4e4e4e" d="M419 70h4v4h-4zM419 74h8v4h-8zM427 78h4v4h-4zM431 90h4v4h-4zM415 102h4v4h-4zM415 106h4v4h-4zM439 138h4v4h-4zM443 170h4v4h-4zM447 202h4v4h-4zM451 258h4v4h-4zM499 326h4v4h-4zM415 338h4v4h-4z"/>
<path fill="#505050" d="M419 78h8v4h-8zM427 82h4v4h-4zM431 94h4v4h-4zM415 110h4v4h-4zM435 110h4v4h-4zM435 114h4v4h-4zM439 142h4v4h-4zM447 206h4v4h-4zM451 262h4v4h-4zM455 278h4v4h-4z"/>
<path fill="#525252" d="M419 82h8v4h-8zM427 86h4v4h-4zM431 98h4v4h-4zM415 114h4v4h-4zM443 174h4v4h-4zM447 210h4v4h-4zM503 330h4v4h-4zM511 338h4v4h-4zM415 342h4v4h-4zM415 346h4v4h-4zM415 350h4v4h-4zM415 354h4v4h-4zM415 358h4v4h-4z"/>
<path fill="#545454" d="M419 86h8v4h-8zM419 90h4v4h-4zM427 90h4v4h-4zM415 118h4v4h-4zM435 118h4v4h-4zM415 122h4v4h-4zM415 126h4v4h-4zM415 130h4v4h-4zM415 134h4v4h-4zM415 138h4v4h-4zM415 142h4v4h-4zM439 146h4v4h-4zM443 178h4v4h-4zM447 214h4v4h-4zM451 266h4v4h-4zM463 294h4v4h-4zM467 298h4v4h-4zM415 302h4v4h-4zM471 302h4v4h-4zM475 306h4v4h-4zM479 310h4v4h-4zM419 322h4v4h-4zM419 326h4v4h-4zM419 330h4v4h-4zM507 334h4v4h-4zM511 342h4v4h-4zM511 346h4v4h-4zM511 350h4v4h-4zM511 354h4v4h-4zM511 358h4v4h-4z"/>
<path fill="#565656" d="M423 90h4v4h-4zM419 94h4v4h-4zM427 94h4v4h-4zM431 102h4v4h-4zM435 122h4v4h-4zM415 146h4v4h-4zM415 150h4v4h-4zM439 150h4v4h-4zM415 154h4v4h-4zM415 158h4v4h-4zM415 162h4v4h-4zM415 166h4v4h-4zM415 170h4v4h-4zM415 174h4v4h-4zM415 178h4v4h-4zM415 182h4v4h-4zM443 182h4v4h-4zM415 186h4v4h-4zM415 190h4v4h-4zM415 194h4v4h-4zM415 198h4v4h-4zM415 202h4v4h-4zM415 206h4v4h-4zM415 210h4v4h-4zM447 218h4v4h-4zM455 282h4v4h-4zM459 290h4v4h-4zM419 310h4v4h-4zM419 314h4v4h-4zM483 314h4v4h-4zM419 318h4v4h-4zM487 318h4v4h-4zM419 334h4v4h-4z"/>
<path fill="#585858" d="M423 94h4v4h-4zM419 98h4v4h-4zM427 98h4v4h-4zM435 126h4v4h-4zM443 186h4v4h-4zM415 214h4v4h-4zM447 222h4v4h-4zM491 322h4v4h-4zM419 338h4v4h-4zM419 342h4v4h-4zM419 346h4v4h-4zM419 350h4v4h-4zM419 354h4v4h-4zM419 358h4v4h-4z"/>
<path fill="#5a5a5a" d="M423 98h4v4h-4zM431 106h4v4h-4zM439 154h4v4h-4zM443 190h4v4h-4zM447 226h4v4h-4zM451 270h4v4h-4zM415 298h4v4h-4zM495 326h4v4h-4zM507 338h4v4h-4zM507 342h4v4h-4zM507 346h4v4h-4zM507 350h4v4h-4zM507 354h4v4h-4zM507 358h4v4h-4z"/>
<path fill="#5c5c5c" d="M419 102h4v4h-4zM427 102h4v4h-4zM431 110h4v4h-4zM435 130h4v4h-4zM443 194h4v4h-4zM415 218h4v4h-4zM447 230h4v4h-4zM455 286h4v4h-4zM419 306h4v4h-4zM499 330h4v4h-4z"/>
<path fill="#5e5e5e" d="M423 102h4v4h-4zM435 134h4v4h-4zM439 158h4v4h-4zM443 198h4v4h-4zM415 222h4v4h-4zM447 234h4v4h-4zM503 334h4v4h-4z"/>
<path fill="#606060" d="M419 106h4v4h-4zM427 106h4v4h-4zM431 114h4v4h-4zM439 162h4v4h-4zM443 202h4v4h-4zM415 226h4v4h-4zM447 238h4v4h-4zM451 274h4v4h-4z"/>
<path fill="#626262" d="M423 106h4v4h-4zM435 138h4v4h-4zM439 166h4v4h-4zM443 206h4v4h-4zM415 230h4v4h-4zM447 242h4v4h-4zM447 246h4v4h-4zM415 294h4v4h-4zM467 302h4v4h-4zM471 306h4v4h-4zM423 310h4v4h-4zM475 310h4v4h-4zM423 314h4v4h-4zM479 314h4v4h-4zM423 318h4v4h-4zM423 322h4v4h-4zM423 326h4v4h-4zM423 330h4v4h-4zM503 338h4v4h-4zM503 342h4v4h-4zM503 346h4v4h-4zM503 350h4v4h-4zM503 354h4v4h-4zM503 358h4v4h-4z"/>
<path fill="#646464" d="M419 110h12v4h-12zM431 118h4v4h-4zM435 142h4v4h-4zM439 170h4v4h-4zM443 210h4v4h-4zM415 234h4v4h-4zM447 250h4v4h-4zM463 298h4v4h-4zM483 318h4v4h-4zM423 334h4v4h-4z"/>
<path fill="#666666" d="M431 122h4v4h-4zM435 146h4v4h-4zM439 174h4v4h-4zM443 214h4v4h-4zM451 278h4v4h-4zM459 294h4v4h-4zM487 322h4v4h-4zM491 326h4v4h-4zM423 338h4v4h-4zM423 342h4v4h-4z"/>
<path fill="#686868" d="M419 114h12v4h-12zM431 126h4v4h-4zM435 150h4v4h-4zM439 178h4v4h-4zM439 182h4v4h-4zM443 218h4v4h-4zM415 238h4v4h-4zM447 254h4v4h-4zM415 290h4v4h-4zM455 290h4v4h-4zM419 302h4v4h-4zM423 306h4v4h-4zM495 330h4v4h-4zM499 334h4v4h-4zM423 346h4v4h-4zM499 346h4v4h-4zM423 350h4v4h-4zM499 350h4v4h-4zM423 354h4v4h-4zM499 354h4v4h-4zM423 358h4v4h-4zM499 358h4v4h-4z"/>
<path fill="#6a6a6a" d="M419 118h4v4h-4zM419 122h4v4h-4zM419 126h4v4h-4zM419 130h4v4h-4zM431 130h4v4h-4zM435 154h4v4h-4zM439 186h4v4h-4zM439 190h4v4h-4zM443 222h4v4h-4zM415 242h4v4h-4zM447 258h4v4h-4zM499 342h4v4h-4z"/>
<path fill="#6c6c6c" d="M423 118h8v4h-8zM423 122h8v4h-8zM419 134h4v4h-4zM431 134h4v4h-4zM419 138h4v4h-4zM419 142h4v4h-4zM419 146h4v4h-4zM435 158h4v4h-4zM435 162h4v4h-4zM439 194h4v4h-4zM439 198h4v4h-4zM415 246h4v4h-4zM447 262h4v4h-4zM451 282h4v4h-4zM415 286h4v4h-4zM499 338h4v4h-4z"/>
<path fill="#6e6e6e" d="M423 126h8v4h-8zM423 130h8v4h-8zM431 138h4v4h-4zM431 142h4v4h-4zM419 150h4v4h-4zM419 154h4v4h-4zM419 158h4v4h-4zM435 166h4v4h-4zM435 170h4v4h-4zM439 202h4v4h-4zM443 226h4v4h-4zM415 250h4v4h-4zM415 254h4v4h-4zM415 258h4v4h-4zM415 262h4v4h-4zM447 266h4v4h-4zM415 274h4v4h-4zM415 278h4v4h-4zM415 282h4v4h-4zM471 310h4v4h-4zM427 326h4v4h-4z"/>
<path fill="#707070" d="M423 134h8v4h-8zM423 138h8v4h-8zM423 142h8v4h-8zM431 146h4v4h-4zM419 162h4v4h-4zM419 166h4v4h-4zM419 170h4v4h-4zM419 174h4v4h-4zM435 174h4v4h-4zM419 178h4v4h-4zM419 182h4v4h-4zM419 186h4v4h-4zM439 206h4v4h-4zM443 230h4v4h-4zM415 266h4v4h-4zM415 270h4v4h-4zM451 286h4v4h-4zM467 306h4v4h-4zM427 310h4v4h-4zM427 314h4v4h-4zM475 314h4v4h-4zM427 318h4v4h-4zM427 322h4v4h-4zM427 330h4v4h-4zM495 346h4v4h-4zM495 350h4v4h-4zM495 354h4v4h-4zM495 358h4v4h-4z"/>
<path fill="#727272" d="M423 146h8v4h-8zM423 150h12v4h-12zM435 178h4v4h-4zM435 182h4v4h-4zM419 190h4v4h-4zM419 194h4v4h-4zM419 198h4v4h-4zM419 202h4v4h-4zM419 206h4v4h-4zM439 210h4v4h-4zM443 234h4v4h-4zM447 270h4v4h-4zM419 298h4v4h-4zM463 302h4v4h-4zM479 318h4v4h-4zM427 334h4v4h-4zM495 334h4v4h-4zM495 342h4v4h-4z"/>
<path fill="#747474" d="M423 154h12v4h-12zM423 158h12v4h-12zM435 186h4v4h-4zM435 190h4v4h-4zM419 210h4v4h-4zM439 214h4v4h-4zM443 238h4v4h-4zM459 298h4v4h-4zM423 302h4v4h-4zM427 306h4v4h-4zM483 322h4v4h-4zM487 326h4v4h-4zM427 338h4v4h-4zM495 338h4v4h-4zM427 342h4v4h-4zM427 346h4v4h-4zM427 350h4v4h-4zM427 354h4v4h-4zM427 358h4v4h-4z"/>
<path fill="#767676" d="M423 162h12v4h-12zM423 166h12v4h-12zM423 170h12v4h-12zM423 174h12v4h-12zM423 178h12v4h-12zM435 194h4v4h-4zM435 198h4v4h-4zM443 242h4v4h-4zM447 274h4v4h-4zM491 330h4v4h-4zM491 346h4v4h-4zM491 350h4v4h-4zM491 354h4v4h-4zM491 358h4v4h-4z"/>
<path fill="#787878" d="M423 182h12v4h-12zM423 186h12v4h-12zM423 190h12v4h-12zM423 194h12v4h-12zM423 198h12v4h-12zM435 202h4v4h-4zM419 214h4v4h-4zM439 218h4v4h-4zM443 246h4v4h-4zM455 294h4v4h-4zM491 342h4v4h-4z"/>
<path fill="#7a7a7a" d="M423 202h12v4h-12zM423 206h16v4h-16zM419 218h4v4h-4zM439 222h4v4h-4zM443 250h4v4h-4zM447 278h4v4h-4zM451 290h4v4h-4zM431 342h4v4h-4zM431 346h4v4h-4zM431 350h4v4h-4zM431 354h4v4h-4zM431 358h4v4h-4z"/>
<path fill="#7c7c7c" d="M423 210h16v4h-16zM439 226h4v4h-4zM443 254h4v4h-4zM467 310h4v4h-4zM431 338h4v4h-4zM487 346h4v4h-4zM487 350h4v4h-4zM487 354h4v4h-4zM487 358h4v4h-4z"/>
<path fill="#7e7e7e" d="M435 214h4v4h-4zM419 222h4v4h-4zM443 258h4v4h-4zM419 294h4v4h-4zM423 298h4v4h-4zM463 306h4v4h-4zM471 314h4v4h-4zM431 326h4v4h-4zM431 330h4v4h-4zM431 334h4v4h-4zM491 334h4v4h-4zM491 338h4v4h-4zM487 342h4v4h-4z"/>
<path fill="#818181" d="M423 214h12v4h-12zM419 226h4v4h-4zM439 230h4v4h-4zM443 262h4v4h-4zM447 282h4v4h-4zM427 302h4v4h-4zM431 310h4v4h-4zM431 314h4v4h-4zM431 318h4v4h-4zM475 318h4v4h-4zM431 322h4v4h-4z"/>
<path fill="#838383" d="M423 218h16v4h-16zM439 234h4v4h-4zM443 266h4v4h-4zM459 302h4v4h-4zM479 322h4v4h-4zM483 326h4v4h-4zM487 330h4v4h-4zM435 342h4v4h-4zM435 346h4v4h-4zM483 346h4v4h-4zM435 350h4v4h-4zM483 350h4v4h-4zM435 354h4v4h-4zM483 354h4v4h-4zM435 358h4v4h-4zM483 358h4v4h-4z"/>
<path fill="#858585" d="M419 230h4v4h-4zM443 270h4v4h-4zM447 286h4v4h-4zM455 298h4v4h-4zM431 306h4v4h-4zM487 338h4v4h-4zM483 342h4v4h-4z"/>
<path fill="#878787" d="M423 222h16v4h-16zM439 238h4v4h-4zM435 338h4v4h-4z"/>
<path fill="#898989" d="M435 226h4v4h-4zM419 234h4v4h-4zM439 242h4v4h-4zM419 290h4v4h-4zM451 294h4v4h-4zM487 334h4v4h-4zM439 346h4v4h-4zM439 350h4v4h-4zM439 354h4v4h-4zM439 358h4v4h-4z"/>
<path fill="#8b8b8b" d="M423 226h12v4h-12zM419 238h4v4h-4zM443 274h4v4h-4zM423 294h4v4h-4zM427 298h4v4h-4zM463 310h4v4h-4zM467 314h4v4h-4zM435 334h4v4h-4zM483 338h4v4h-4zM439 342h4v4h-4zM479 342h4v4h-4zM479 346h4v4h-4zM479 350h4v4h-4zM479 354h4v4h-4zM479 358h4v4h-4z"/>
<path fill="#8d8d8d" d="M435 230h4v4h-4zM439 246h4v4h-4zM431 302h4v4h-4z"/>
<path fill="#8f8f8f" d="M423 230h12v4h-12zM419 242h4v4h-4zM439 250h4v4h-4zM439 254h4v4h-4zM443 278h4v4h-4zM447 290h4v4h-4zM459 306h4v4h-4zM471 318h4v4h-4zM475 322h4v4h-4zM435 330h4v4h-4zM483 330h4v4h-4zM443 346h36v4h-36zM443 350h36v4h-36zM443 354h36v4h-36zM443 358h36v4h-36z"/>
<path fill="#919191" d="M435 234h4v4h-4zM419 246h4v4h-4zM439 258h4v4h-4zM419 286h4v4h-4zM455 302h4v4h-4zM435 322h4v4h-4zM435 326h4v4h-4zM479 326h4v4h-4zM439 338h4v4h-4zM479 338h4v4h-4zM443 342h24v4h-24z"/>
<path fill="#939393" d="M423 234h12v4h-12zM435 238h4v4h-4zM419 250h4v4h-4zM439 262h4v4h-4zM419 278h4v4h-4zM419 282h4v4h-4zM431 298h4v4h-4zM435 314h4v4h-4zM435 318h4v4h-4zM483 334h4v4h-4zM467 342h12v4h-12z"/>
<path fill="#959595" d="M423 238h12v4h-12zM419 254h4v4h-4zM419 258h4v4h-4zM439 266h4v4h-4zM419 274h4v4h-4zM443 282h4v4h-4zM423 290h4v4h-4zM427 294h4v4h-4zM451 298h4v4h-4zM435 310h4v4h-4z"/>
<path fill="#979797" d="M435 242h4v4h-4zM419 262h4v4h-4zM419 270h4v4h-4zM435 306h4v4h-4zM463 314h4v4h-4zM439 334h4v4h-4zM475 338h4v4h-4z"/>
<path fill="#999999" d="M423 242h12v4h-12zM435 246h4v4h-4zM419 266h4v4h-4zM439 270h4v4h-4zM443 286h4v4h-4zM435 302h4v4h-4zM459 310h4v4h-4zM467 318h4v4h-4zM479 334h4v4h-4zM443 338h4v4h-4z"/>
<path fill="#9b9b9b" d="M423 286h4v4h-4zM431 294h4v4h-4zM447 294h4v4h-4zM435 298h4v4h-4zM447 338h12v4h-12z"/>
<path fill="#9d9d9d" d="M423 246h12v4h-12zM435 250h4v4h-4zM443 290h4v4h-4zM455 306h4v4h-4zM471 322h4v4h-4zM439 330h4v4h-4zM479 330h4v4h-4zM459 338h16v4h-16z"/>
<path fill="#9f9f9f" d="M423 250h12v4h-12zM435 254h4v4h-4zM439 274h4v4h-4zM423 282h4v4h-4zM435 294h4v4h-4zM475 326h4v4h-4zM475 334h4v4h-4z"/>
<path fill="#a1a1a1" d="M423 254h12v4h-12zM423 278h4v4h-4zM427 290h4v4h-4zM443 294h4v4h-4zM447 298h4v4h-4zM451 302h4v4h-4zM439 326h4v4h-4zM443 334h4v4h-4z"/>
<path fill="#a3a3a3" d="M423 258h16v4h-16zM423 262h16v4h-16zM439 278h4v4h-4zM431 290h8v4h-8zM439 298h8v4h-8zM463 318h4v4h-4zM439 322h4v4h-4zM447 334h4v4h-4z"/>
<path fill="#a5a5a5" d="M423 266h16v4h-16zM423 274h4v4h-4zM439 290h4v4h-4zM439 294h4v4h-4zM439 302h12v4h-12zM439 306h4v4h-4zM439 310h4v4h-4zM439 314h4v4h-4zM459 314h4v4h-4zM439 318h4v4h-4zM467 322h4v4h-4zM451 334h4v4h-4zM471 334h4v4h-4z"/>
<path fill="#a7a7a7" d="M423 270h16v4h-16zM427 274h12v4h-12zM427 278h12v4h-12zM427 282h16v4h-16zM427 286h16v4h-16zM443 306h4v4h-4zM443 310h4v4h-4zM455 310h4v4h-4zM475 330h4v4h-4zM455 334h8v4h-8z"/>
<path fill="#a9a9a9" d="M447 306h4v4h-4zM443 314h4v4h-4zM471 326h4v4h-4zM463 334h8v4h-8z"/>
<path fill="#ababab" d="M451 306h4v4h-4zM447 310h4v4h-4zM443 318h4v4h-4zM443 330h4v4h-4zM471 330h4v4h-4z"/>
<path fill="#adadad" d="M451 310h4v4h-4zM447 314h4v4h-4zM459 318h4v4h-4zM443 322h4v4h-4zM463 322h4v4h-4zM443 326h4v4h-4zM447 330h4v4h-4z"/>
<path fill="#afafaf" d="M451 314h4v4h-4zM447 318h4v4h-4zM447 322h4v4h-4zM467 326h4v4h-4zM451 330h4v4h-4z"/>
<path fill="#b1b1b1" d="M455 314h4v4h-4zM451 318h4v4h-4zM447 326h4v4h-4zM467 330h4v4h-4z"/>
<path fill="#b3b3b3" d="M451 322h4v4h-4zM455 330h4v4h-4z"/>
<path fill="#b5b5b5" d="M455 318h4v4h-4zM459 322h4v4h-4zM451 326h4v4h-4zM463 326h4v4h-4zM459 330h8v4h-8z"/>
<path fill="#b7b7b7" d="M455 322h4v4h-4zM455 326h4v4h-4z"/>
<path fill="#bbbbbb" d="M459 326h4v4h-4z"/></g></g>
<line x1="418.4" y1="18.4" x2="418.4" y2="352.3" stroke="#000" stroke-width="1.8" opacity="0.25"/>
<g stroke="#33400c" stroke-width="0.9" fill="none" opacity="0.65"><path d="M355.5 334.4h3M608.5 334.4h-3"/><path d="M355.5 305.6h3M608.5 305.6h-3"/><path d="M355.5 276.9h3M608.5 276.9h-3"/><path d="M355.5 248.1h3M608.5 248.1h-3"/><path d="M355.5 219.4h3M608.5 219.4h-3"/><path d="M355.5 190.6h3M608.5 190.6h-3"/><path d="M355.5 161.8h3M608.5 161.8h-3"/><path d="M355.5 133.1h3M608.5 133.1h-3"/><path d="M355.5 104.3h3M608.5 104.3h-3"/><path d="M355.5 75.6h3M608.5 75.6h-3"/><path d="M355.5 46.8h3M608.5 46.8h-3"/><path d="M355.5 18.0h3M608.5 18.0h-3"/><path d="M355.0 352.3v-3M355.0 18.4v3"/><path d="M418.4 352.3v-3M418.4 18.4v3"/><path d="M481.8 352.3v-3M481.8 18.4v3"/><path d="M545.2 352.3v-3M545.2 18.4v3"/><rect x="355.5" y="18.4" width="253.0" height="333.9"/></g>
<g font-size="10.8"><text x="33.2" y="338.2" text-anchor="end">10</text><text x="33.2" y="309.4" text-anchor="end">20</text><text x="33.2" y="280.7" text-anchor="end">30</text><text x="33.2" y="251.9" text-anchor="end">40</text><text x="33.2" y="223.2" text-anchor="end">50</text><text x="33.2" y="194.4" text-anchor="end">60</text><text x="33.2" y="165.6" text-anchor="end">70</text><text x="33.2" y="136.9" text-anchor="end">80</text><text x="33.2" y="108.1" text-anchor="end">90</text><text x="33.2" y="79.4" text-anchor="end">100</text><text x="33.2" y="50.6" text-anchor="end">110</text><text x="33.2" y="21.8" text-anchor="end">120</text><text x="46.2" y="365.0" text-anchor="end">100</text><rect x="20.8" y="361.0" width="7" height="1.1"/><text x="100.3" y="365.0" text-anchor="middle">0</text><text x="163.7" y="365.0" text-anchor="middle">100</text><text x="227.1" y="365.0" text-anchor="middle">200</text><text x="351.2" y="338.2" text-anchor="end">10</text><text x="351.2" y="309.4" text-anchor="end">20</text><text x="351.2" y="280.7" text-anchor="end">30</text><text x="351.2" y="251.9" text-anchor="end">40</text><text x="351.2" y="223.2" text-anchor="end">50</text><text x="351.2" y="194.4" text-anchor="end">60</text><text x="351.2" y="165.6" text-anchor="end">70</text><text x="351.2" y="136.9" text-anchor="end">80</text><text x="351.2" y="108.1" text-anchor="end">90</text><text x="351.2" y="79.4" text-anchor="end">100</text><text x="351.2" y="50.6" text-anchor="end">110</text><text x="351.2" y="21.8" text-anchor="end">120</text><text x="364.3" y="365.0" text-anchor="end">100</text><rect x="338.9" y="361.0" width="7" height="1.1"/><text x="418.4" y="365.0" text-anchor="middle">0</text><text x="481.8" y="365.0" text-anchor="middle">100</text><text x="545.2" y="365.0" text-anchor="middle">200</text></g>
<text x="167.9" y="10.3" text-anchor="middle" font-size="13.8">WT</text>
<text x="486.9" y="10.3" text-anchor="middle" font-size="13.5">BRAT</text>
<text x="164.7" y="378.9" text-anchor="middle" font-size="11.3">Time (ms)</text>
<text x="482.4" y="378.9" text-anchor="middle" font-size="11.3">Time (ms)</text>
<text transform="translate(8.2 185.4) rotate(-90)" text-anchor="middle" font-size="11.3">Frequency (Hz)</text>
<text transform="translate(327.0 186.3) rotate(-90)" text-anchor="middle" font-size="11.3">Frequency (Hz)</text>
<g font-weight="bold" font-size="10.6"><text x="0.3" y="10.6">A</text><text x="318.6" y="10.9">B</text><text x="0.2" y="403.3">C</text><text x="318.6" y="403.4">D</text></g>
<rect x="618.2" y="43.8" width="10.399999999999977" height="287.0" fill="url(#cbg)"/><text transform="translate(630.8 110.4) scale(1.14 1)" font-size="9.2" fill="#111" stroke="#111" stroke-width="0.25">0.37</text><text transform="translate(630.8 174.8) scale(1.14 1)" font-size="9.2" fill="#111" stroke="#111" stroke-width="0.25">0.27</text><text transform="translate(630.8 239.0) scale(1.14 1)" font-size="9.2" fill="#111" stroke="#111" stroke-width="0.25">0.16</text><text transform="translate(630.8 303.1) scale(1.14 1)" font-size="9.2" fill="#111" stroke="#111" stroke-width="0.25">0.05</text><g stroke="#222" stroke-width="0.8" fill="none" opacity="0.85"><path d="M618.2 106.0h4.6M628.6 106.0h-4.6"/><path d="M618.2 170.4h4.6M628.6 170.4h-4.6"/><path d="M618.2 234.6h4.6M628.6 234.6h-4.6"/><path d="M618.2 298.7h4.6M628.6 298.7h-4.6"/><path d="M621.7 330.8v-3.2M625.0 330.8v-3.2" stroke-width="1.4"/><rect x="618.2" y="43.8" width="10.399999999999977" height="287.0"/></g><text x="613.6" y="37.8" font-weight="bold" font-size="9.4">ITC</text>
<rect x="51.5" y="447.0" width="94.5" height="143.5" fill="#000"/><rect x="186.5" y="494.0" width="94.0" height="96.5" fill="#bababa" stroke="#1a1a1a" stroke-width="1"/><path d="M98.8 447.0V433.3M95.8 433.3h6" stroke="#222" stroke-width="0.9" fill="none"/><path d="M233.5 494.0V479.4M230.5 479.4h6" stroke="#222" stroke-width="0.9" fill="none"/><circle cx="233.1" cy="469.6" r="1.35" fill="#111"/><text transform="translate(25.2 593.9) scale(0.93 1)" text-anchor="end" font-size="9.4" stroke="#111" stroke-width="0.22">0.0</text><text transform="translate(25.2 546.9) scale(0.93 1)" text-anchor="end" font-size="9.4" stroke="#111" stroke-width="0.22">0.1</text><text transform="translate(25.2 499.8) scale(0.93 1)" text-anchor="end" font-size="9.4" stroke="#111" stroke-width="0.22">0.2</text><text transform="translate(25.2 452.8) scale(0.93 1)" text-anchor="end" font-size="9.4" stroke="#111" stroke-width="0.22">0.3</text><text transform="translate(25.2 405.7) scale(0.93 1)" text-anchor="end" font-size="9.4" stroke="#111" stroke-width="0.22">0.4</text><path d="M31.5 402.3V590.5H300.9M28.9 590.5h2.6M28.9 543.5h2.6M28.9 496.4h2.6M28.9 449.4h2.6M28.9 402.3h2.6M98.8 590.5v2.6M233.5 590.5v2.6" stroke="#222" stroke-width="0.9" fill="none"/><text x="98.8" y="604.4" text-anchor="middle" font-size="9.2">WT</text><text x="233.5" y="604.4" text-anchor="middle" font-size="9.2">BRAT</text><text transform="translate(8.3 496.4) rotate(-90) scale(0.8 1)" text-anchor="middle" font-size="10">ITC</text>
<rect x="400.5" y="433.0" width="94.5" height="157.5" fill="#000"/><rect x="535.5" y="459.4" width="94.0" height="131.1" fill="#bababa" stroke="#1a1a1a" stroke-width="1"/><path d="M447.8 433.0V426.6M444.8 426.6h6" stroke="#222" stroke-width="0.9" fill="none"/><path d="M582.5 459.4V453.9M579.5 453.9h6" stroke="#222" stroke-width="0.9" fill="none"/><circle cx="582.1" cy="445.2" r="1.35" fill="#111"/><text transform="translate(374.4 593.9) scale(0.93 1)" text-anchor="end" font-size="9.4" stroke="#111" stroke-width="0.22">0.00</text><text transform="translate(374.4 562.4) scale(0.93 1)" text-anchor="end" font-size="9.4" stroke="#111" stroke-width="0.22">0.02</text><text transform="translate(374.4 531.0) scale(0.93 1)" text-anchor="end" font-size="9.4" stroke="#111" stroke-width="0.22">0.04</text><text transform="translate(374.4 499.5) scale(0.93 1)" text-anchor="end" font-size="9.4" stroke="#111" stroke-width="0.22">0.06</text><text transform="translate(374.4 468.0) scale(0.93 1)" text-anchor="end" font-size="9.4" stroke="#111" stroke-width="0.22">0.08</text><text transform="translate(374.4 436.6) scale(0.93 1)" text-anchor="end" font-size="9.4" stroke="#111" stroke-width="0.22">0.10</text><text transform="translate(374.4 405.1) scale(0.93 1)" text-anchor="end" font-size="9.4" stroke="#111" stroke-width="0.22">0.12</text><path d="M380.5 401.7V590.5H650.5M377.9 590.5h2.6M377.9 559.0h2.6M377.9 527.6h2.6M377.9 496.1h2.6M377.9 464.6h2.6M377.9 433.2h2.6M377.9 401.7h2.6M447.8 590.5v2.6M582.5 590.5v2.6" stroke="#222" stroke-width="0.9" fill="none"/><text x="447.8" y="604.4" text-anchor="middle" font-size="9.2">WT</text><text x="582.5" y="604.4" text-anchor="middle" font-size="9.2">BRAT</text><text transform="translate(353.0 496.1) rotate(-90) scale(0.8 1)" text-anchor="middle" font-size="10">ITC</text>
</svg></body></html>
